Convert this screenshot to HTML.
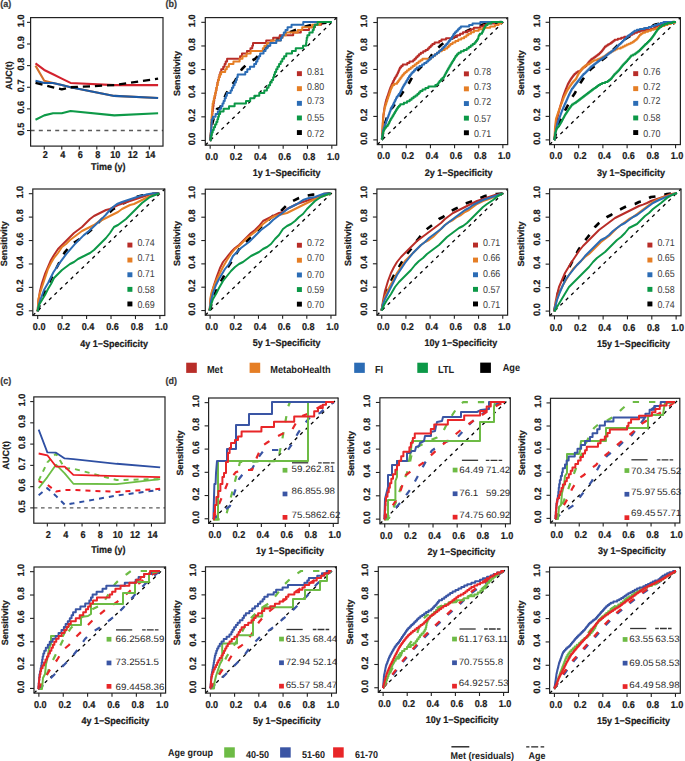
<!DOCTYPE html>
<html><head><meta charset="utf-8"><style>
html,body{margin:0;padding:0;background:#fff;width:685px;height:761px;overflow:hidden}
svg{display:block}
text{font-family:"Liberation Sans", sans-serif}
</style></head><body>
<svg width="685" height="761" viewBox="0 0 685 761" font-family='"Liberation Sans", sans-serif' text-rendering="geometricPrecision">
<rect width="685" height="761" fill="#fff"/>
<text x="0.3" y="7.3" font-size="9.6" font-weight="bold" text-anchor="start" fill="#3a3a3a" stroke="#3a3a3a" stroke-width="0.22" textLength="11.00" lengthAdjust="spacingAndGlyphs">(a)</text>
<text x="165.6" y="7.3" font-size="9.6" font-weight="bold" text-anchor="start" fill="#3a3a3a" stroke="#3a3a3a" stroke-width="0.22" textLength="11.49" lengthAdjust="spacingAndGlyphs">(b)</text>
<text x="0.3" y="384.4" font-size="9.6" font-weight="bold" text-anchor="start" fill="#3a3a3a" stroke="#3a3a3a" stroke-width="0.22" textLength="11.00" lengthAdjust="spacingAndGlyphs">(c)</text>
<text x="165.6" y="384.4" font-size="9.6" font-weight="bold" text-anchor="start" fill="#3a3a3a" stroke="#3a3a3a" stroke-width="0.22" textLength="11.49" lengthAdjust="spacingAndGlyphs">(d)</text>
<clipPath id="c1"><rect x="30.6" y="17.6" width="132.4" height="128.5"/></clipPath>
<line x1="30.6" y1="130.52" x2="163" y2="130.52" stroke="#5a5a5a" stroke-width="1.5" stroke-dasharray="4,4.2" stroke-linecap="butt"/>
<polyline points="35.50,63.46 44.26,69.95 53.02,74.28 61.77,78.61 70.53,82.93 114.31,85.09 158.10,85.09" fill="none" stroke="#D3222E" stroke-width="2.1" stroke-linejoin="round" stroke-linecap="butt" clip-path="url(#c1)"/>
<polyline points="35.50,65.63 44.26,80.77 53.02,82.93 61.77,85.09 70.53,87.26 114.31,95.91 158.10,98.07" fill="none" stroke="#D2702A" stroke-width="2.1" stroke-linejoin="round" stroke-linecap="butt" clip-path="url(#c1)"/>
<polyline points="35.50,80.77 44.26,82.93 53.02,82.93 61.77,85.09 70.53,87.26 114.31,95.91 158.10,98.07" fill="none" stroke="#1B5AA6" stroke-width="2.1" stroke-linejoin="round" stroke-linecap="butt" clip-path="url(#c1)"/>
<polyline points="35.50,119.71 44.26,115.38 53.02,113.22 61.77,113.22 70.53,111.05 114.31,115.38 158.10,113.22" fill="none" stroke="#0E9A48" stroke-width="2.1" stroke-linejoin="round" stroke-linecap="butt" clip-path="url(#c1)"/>
<polyline points="35.50,82.93 44.26,85.09 53.02,87.26 61.77,89.42 70.53,87.26 114.31,85.09 158.10,78.61" fill="none" stroke="#000000" stroke-width="2.3" stroke-dasharray="7.2,4.9" stroke-linejoin="round" stroke-linecap="butt" clip-path="url(#c1)"/>
<rect x="30.6" y="17.6" width="132.4" height="128.5" fill="none" stroke="#222222" stroke-width="1.2"/>
<line x1="44.26" y1="146.1" x2="44.26" y2="149.5" stroke="#222222" stroke-width="1.1" stroke-linecap="butt"/>
<text x="45.26" y="157.9" font-size="10.0" font-weight="bold" text-anchor="middle" fill="#1a1a1a" stroke="#1a1a1a" stroke-width="0.22" textLength="5.06" lengthAdjust="spacingAndGlyphs">2</text>
<line x1="61.77" y1="146.1" x2="61.77" y2="149.5" stroke="#222222" stroke-width="1.1" stroke-linecap="butt"/>
<text x="62.77" y="157.9" font-size="10.0" font-weight="bold" text-anchor="middle" fill="#1a1a1a" stroke="#1a1a1a" stroke-width="0.22" textLength="5.06" lengthAdjust="spacingAndGlyphs">4</text>
<line x1="79.29" y1="146.1" x2="79.29" y2="149.5" stroke="#222222" stroke-width="1.1" stroke-linecap="butt"/>
<text x="80.29" y="157.9" font-size="10.0" font-weight="bold" text-anchor="middle" fill="#1a1a1a" stroke="#1a1a1a" stroke-width="0.22" textLength="5.06" lengthAdjust="spacingAndGlyphs">6</text>
<line x1="96.8" y1="146.1" x2="96.8" y2="149.5" stroke="#222222" stroke-width="1.1" stroke-linecap="butt"/>
<text x="97.8" y="157.9" font-size="10.0" font-weight="bold" text-anchor="middle" fill="#1a1a1a" stroke="#1a1a1a" stroke-width="0.22" textLength="5.06" lengthAdjust="spacingAndGlyphs">8</text>
<line x1="114.31" y1="146.1" x2="114.31" y2="149.5" stroke="#222222" stroke-width="1.1" stroke-linecap="butt"/>
<text x="115.31" y="157.9" font-size="10.0" font-weight="bold" text-anchor="middle" fill="#1a1a1a" stroke="#1a1a1a" stroke-width="0.22" textLength="10.12" lengthAdjust="spacingAndGlyphs">10</text>
<line x1="131.83" y1="146.1" x2="131.83" y2="149.5" stroke="#222222" stroke-width="1.1" stroke-linecap="butt"/>
<text x="132.83" y="157.9" font-size="10.0" font-weight="bold" text-anchor="middle" fill="#1a1a1a" stroke="#1a1a1a" stroke-width="0.22" textLength="10.12" lengthAdjust="spacingAndGlyphs">12</text>
<line x1="149.34" y1="146.1" x2="149.34" y2="149.5" stroke="#222222" stroke-width="1.1" stroke-linecap="butt"/>
<text x="150.34" y="157.9" font-size="10.0" font-weight="bold" text-anchor="middle" fill="#1a1a1a" stroke="#1a1a1a" stroke-width="0.22" textLength="10.12" lengthAdjust="spacingAndGlyphs">14</text>
<line x1="30.6" y1="130.52" x2="27" y2="130.52" stroke="#222222" stroke-width="1.1" stroke-linecap="butt"/>
<text x="24.1" y="129.02" font-size="9.3" font-weight="bold" text-anchor="middle" fill="#1a1a1a" stroke="#1a1a1a" stroke-width="0.22" transform="rotate(-90 24.1 129.02)" textLength="12.79" lengthAdjust="spacingAndGlyphs">0.5</text>
<line x1="30.6" y1="108.89" x2="27" y2="108.89" stroke="#222222" stroke-width="1.1" stroke-linecap="butt"/>
<text x="24.1" y="107.39" font-size="9.3" font-weight="bold" text-anchor="middle" fill="#1a1a1a" stroke="#1a1a1a" stroke-width="0.22" transform="rotate(-90 24.1 107.39)" textLength="12.79" lengthAdjust="spacingAndGlyphs">0.6</text>
<line x1="30.6" y1="87.26" x2="27" y2="87.26" stroke="#222222" stroke-width="1.1" stroke-linecap="butt"/>
<text x="24.1" y="85.76" font-size="9.3" font-weight="bold" text-anchor="middle" fill="#1a1a1a" stroke="#1a1a1a" stroke-width="0.22" transform="rotate(-90 24.1 85.76)" textLength="12.79" lengthAdjust="spacingAndGlyphs">0.7</text>
<line x1="30.6" y1="65.63" x2="27" y2="65.63" stroke="#222222" stroke-width="1.1" stroke-linecap="butt"/>
<text x="24.1" y="64.13" font-size="9.3" font-weight="bold" text-anchor="middle" fill="#1a1a1a" stroke="#1a1a1a" stroke-width="0.22" transform="rotate(-90 24.1 64.13)" textLength="12.79" lengthAdjust="spacingAndGlyphs">0.8</text>
<line x1="30.6" y1="43.99" x2="27" y2="43.99" stroke="#222222" stroke-width="1.1" stroke-linecap="butt"/>
<text x="24.1" y="42.49" font-size="9.3" font-weight="bold" text-anchor="middle" fill="#1a1a1a" stroke="#1a1a1a" stroke-width="0.22" transform="rotate(-90 24.1 42.49)" textLength="12.79" lengthAdjust="spacingAndGlyphs">0.9</text>
<line x1="30.6" y1="22.36" x2="27" y2="22.36" stroke="#222222" stroke-width="1.1" stroke-linecap="butt"/>
<text x="24.1" y="20.86" font-size="9.3" font-weight="bold" text-anchor="middle" fill="#1a1a1a" stroke="#1a1a1a" stroke-width="0.22" transform="rotate(-90 24.1 20.86)" textLength="12.79" lengthAdjust="spacingAndGlyphs">1.0</text>
<text x="91.1" y="170.3" font-size="9.9" font-weight="bold" text-anchor="start" fill="#1a1a1a" stroke="#1a1a1a" stroke-width="0.22" textLength="34.34" lengthAdjust="spacingAndGlyphs">Time (y)</text>
<text x="12.1" y="75.6" font-size="9.0" font-weight="bold" text-anchor="middle" fill="#1a1a1a" stroke="#1a1a1a" stroke-width="0.22" transform="rotate(-90 12.1 75.6)" textLength="28.49" lengthAdjust="spacingAndGlyphs">AUC(t)</text>
<clipPath id="c2"><rect x="205.3" y="17.6" width="131.4" height="127.6"/></clipPath>
<line x1="205.3" y1="145.2" x2="336.7" y2="17.6" stroke="#000" stroke-width="1.3" stroke-dasharray="3.4,4.1" stroke-linecap="butt"/>
<polyline points="210.40,140.40 212.00,125.00 214.00,117.00 217.00,109.00 220.00,108.00 223.00,101.00 226.00,94.00 230.00,87.00 235.00,81.00 238.00,75.00 242.00,69.00 246.00,65.00 251.00,61.00 255.00,59.00 260.00,54.00 267.00,47.00 275.00,41.00 283.00,35.00 293.00,31.00 303.00,27.00 315.00,24.00 331.80,22.00" fill="none" stroke="#000000" stroke-width="2.6" stroke-dasharray="6.7,9" stroke-linejoin="round" stroke-linecap="butt" clip-path="url(#c2)"/>
<polyline points="210.40,140.40 210.49,140.40 210.49,137.77 210.67,137.77 210.67,135.14 210.85,135.14 210.85,132.51 211.03,132.51 211.03,129.88 211.21,129.88 211.21,127.24 211.39,127.24 211.39,124.61 211.57,124.61 211.57,121.98 211.75,121.98 211.75,119.35 211.93,119.35 211.93,116.72 212.20,116.72 212.20,114.09 212.53,114.09 212.53,111.46 212.86,111.46 212.86,108.83 213.19,108.83 213.19,106.20 213.51,106.20 213.51,103.56 213.84,103.56 213.84,100.93 214.28,100.93 214.28,98.30 214.80,98.30 214.80,95.67 215.33,95.67 215.33,93.04 215.86,93.04 215.86,90.41 216.38,90.41 216.38,87.78 216.91,87.78 216.91,85.15 217.43,85.15 217.43,82.52 217.96,82.52 217.96,79.88 218.73,79.88 218.73,77.25 219.52,77.25 219.52,74.62 220.31,74.62 220.31,71.99 221.24,71.99 221.24,69.36 223.22,69.36 223.22,66.73 224.63,66.73 224.63,64.10 225.69,64.10 225.69,61.47 227.09,61.47 227.09,58.84 240.09,58.84 240.09,56.20 241.97,56.20 241.97,53.57 246.96,53.57 246.96,50.94 250.46,50.94 250.46,48.31 252.28,48.31 252.28,45.68 253.02,45.68 253.02,43.05 266.21,43.05 266.21,40.42 273.17,40.42 273.17,37.79 279.77,37.79 279.77,35.16 293.18,35.16 293.18,32.52 300.82,32.52 300.82,29.89 309.04,29.89 309.04,27.26 314.94,27.26 314.94,24.63 321.21,24.63 321.21,22.00 331.80,22.00" fill="none" stroke="#B82D28" stroke-width="2.0" stroke-linejoin="round" stroke-linecap="butt" clip-path="url(#c2)"/>
<polyline points="210.40,140.40 210.47,140.40 210.47,137.77 210.60,137.77 210.60,135.14 210.74,135.14 210.74,132.51 210.87,132.51 210.87,129.88 211.01,129.88 211.01,127.24 211.15,127.24 211.15,124.61 211.28,124.61 211.28,121.98 211.43,121.98 211.43,119.35 211.62,119.35 211.62,116.72 211.82,116.72 211.82,114.09 212.02,114.09 212.02,111.46 212.21,111.46 212.21,108.83 212.41,108.83 212.41,106.20 212.63,106.20 212.63,103.56 213.24,103.56 213.24,100.93 213.86,100.93 213.86,98.30 214.50,98.30 214.50,95.67 215.16,95.67 215.16,93.04 215.82,93.04 215.82,90.41 216.42,90.41 216.42,87.78 217.01,87.78 217.01,85.15 217.59,85.15 217.59,82.52 218.23,82.52 218.23,79.88 218.98,79.88 218.98,77.25 219.73,77.25 219.73,74.62 221.13,74.62 221.13,71.99 225.19,71.99 225.19,69.36 226.77,69.36 226.77,66.73 228.88,66.73 228.88,64.10 233.44,64.10 233.44,61.47 239.62,61.47 239.62,58.84 242.48,58.84 242.48,56.20 246.52,56.20 246.52,53.57 250.61,53.57 250.61,50.94 262.82,50.94 262.82,48.31 264.40,48.31 264.40,45.68 266.92,45.68 266.92,43.05 271.17,43.05 271.17,40.42 280.60,40.42 280.60,37.79 282.66,37.79 282.66,35.16 285.95,35.16 285.95,32.52 297.81,32.52 297.81,29.89 302.23,29.89 302.23,27.26 312.16,27.26 312.16,24.63 320.05,24.63 320.05,22.00 331.80,22.00" fill="none" stroke="#E57E25" stroke-width="2.0" stroke-linejoin="round" stroke-linecap="butt" clip-path="url(#c2)"/>
<polyline points="210.40,140.40 210.48,140.40 210.48,137.77 210.65,137.77 210.65,135.14 210.82,135.14 210.82,132.51 210.99,132.51 210.99,129.88 211.20,129.88 211.20,127.24 211.42,127.24 211.42,124.61 211.64,124.61 211.64,121.98 211.86,121.98 211.86,119.35 212.96,119.35 212.96,116.72 215.60,116.72 215.60,114.09 217.82,114.09 217.82,111.46 219.51,111.46 219.51,108.83 221.09,108.83 221.09,106.20 222.48,106.20 222.48,103.56 223.61,103.56 223.61,100.93 224.74,100.93 224.74,98.30 225.81,98.30 225.81,95.67 226.86,95.67 226.86,93.04 230.64,93.04 230.64,90.41 231.95,90.41 231.95,87.78 233.27,87.78 233.27,85.15 234.58,85.15 234.58,82.52 235.90,82.52 235.90,79.88 236.81,79.88 236.81,77.25 237.69,77.25 237.69,74.62 245.27,74.62 245.27,71.99 247.32,71.99 247.32,69.36 249.96,69.36 249.96,66.73 254.17,66.73 254.17,64.10 256.11,64.10 256.11,61.47 257.42,61.47 257.42,58.84 258.74,58.84 258.74,56.20 260.17,56.20 260.17,53.57 263.56,53.57 263.56,50.94 265.53,50.94 265.53,48.31 267.50,48.31 267.50,45.68 270.27,45.68 270.27,43.05 276.33,43.05 276.33,40.42 280.95,40.42 280.95,37.79 282.26,37.79 282.26,35.16 283.77,35.16 283.77,32.52 285.53,32.52 285.53,29.89 287.56,29.89 287.56,27.26 291.53,27.26 291.53,24.63 303.25,24.63 303.25,22.00 331.80,22.00" fill="none" stroke="#2B6CB5" stroke-width="2.0" stroke-linejoin="round" stroke-linecap="butt" clip-path="url(#c2)"/>
<polyline points="210.40,140.40 210.68,140.40 210.68,137.77 211.25,137.77 211.25,135.14 211.82,135.14 211.82,132.51 212.72,132.51 212.72,129.88 213.78,129.88 213.78,127.24 215.04,127.24 215.04,124.61 216.35,124.61 216.35,121.98 217.38,121.98 217.38,119.35 218.13,119.35 218.13,116.72 218.88,116.72 218.88,114.09 220.11,114.09 220.11,111.46 223.57,111.46 223.57,108.83 229.04,108.83 229.04,106.20 234.60,106.20 234.60,103.56 246.00,103.56 246.00,100.93 250.18,100.93 250.18,98.30 254.36,98.30 254.36,95.67 259.29,95.67 259.29,93.04 264.28,93.04 264.28,90.41 266.91,90.41 266.91,87.78 268.52,87.78 268.52,85.15 270.10,85.15 270.10,82.52 271.68,82.52 271.68,79.88 273.14,79.88 273.14,77.25 274.02,77.25 274.02,74.62 274.90,74.62 274.90,71.99 276.16,71.99 276.16,69.36 277.48,69.36 277.48,66.73 279.06,66.73 279.06,64.10 280.73,64.10 280.73,61.47 282.31,61.47 282.31,58.84 284.11,58.84 284.11,56.20 286.28,56.20 286.28,53.57 291.99,53.57 291.99,50.94 295.75,50.94 295.75,48.31 303.01,48.31 303.01,45.68 306.08,45.68 306.08,43.05 306.41,43.05 306.41,40.42 306.74,40.42 306.74,37.79 307.40,37.79 307.40,35.16 309.37,35.16 309.37,32.52 312.69,32.52 312.69,29.89 313.78,29.89 313.78,27.26 314.66,27.26 314.66,24.63 317.64,24.63 317.64,22.00 331.80,22.00" fill="none" stroke="#0C9847" stroke-width="2.0" stroke-linejoin="round" stroke-linecap="butt" clip-path="url(#c2)"/>
<rect x="205.3" y="17.6" width="131.4" height="127.6" fill="none" stroke="#222222" stroke-width="1.2"/>
<line x1="210.17" y1="145.2" x2="210.17" y2="148.8" stroke="#222222" stroke-width="1.1" stroke-linecap="butt"/>
<text x="211.67" y="159.9" font-size="10.0" font-weight="bold" text-anchor="middle" fill="#1a1a1a" stroke="#1a1a1a" stroke-width="0.22" textLength="12.65" lengthAdjust="spacingAndGlyphs">0.0</text>
<line x1="205.3" y1="140.47" x2="201.3" y2="140.47" stroke="#222222" stroke-width="1.1" stroke-linecap="butt"/>
<text x="195.4" y="138.97" font-size="9.3" font-weight="bold" text-anchor="middle" fill="#1a1a1a" stroke="#1a1a1a" stroke-width="0.22" transform="rotate(-90 195.4 138.97)" textLength="12.79" lengthAdjust="spacingAndGlyphs">0.0</text>
<line x1="234.5" y1="145.2" x2="234.5" y2="148.8" stroke="#222222" stroke-width="1.1" stroke-linecap="butt"/>
<text x="236" y="159.9" font-size="10.0" font-weight="bold" text-anchor="middle" fill="#1a1a1a" stroke="#1a1a1a" stroke-width="0.22" textLength="12.65" lengthAdjust="spacingAndGlyphs">0.2</text>
<line x1="205.3" y1="116.84" x2="201.3" y2="116.84" stroke="#222222" stroke-width="1.1" stroke-linecap="butt"/>
<text x="195.4" y="115.34" font-size="9.3" font-weight="bold" text-anchor="middle" fill="#1a1a1a" stroke="#1a1a1a" stroke-width="0.22" transform="rotate(-90 195.4 115.34)" textLength="12.79" lengthAdjust="spacingAndGlyphs">0.2</text>
<line x1="258.83" y1="145.2" x2="258.83" y2="148.8" stroke="#222222" stroke-width="1.1" stroke-linecap="butt"/>
<text x="260.33" y="159.9" font-size="10.0" font-weight="bold" text-anchor="middle" fill="#1a1a1a" stroke="#1a1a1a" stroke-width="0.22" textLength="12.65" lengthAdjust="spacingAndGlyphs">0.4</text>
<line x1="205.3" y1="93.21" x2="201.3" y2="93.21" stroke="#222222" stroke-width="1.1" stroke-linecap="butt"/>
<text x="195.4" y="91.71" font-size="9.3" font-weight="bold" text-anchor="middle" fill="#1a1a1a" stroke="#1a1a1a" stroke-width="0.22" transform="rotate(-90 195.4 91.71)" textLength="12.79" lengthAdjust="spacingAndGlyphs">0.4</text>
<line x1="283.17" y1="145.2" x2="283.17" y2="148.8" stroke="#222222" stroke-width="1.1" stroke-linecap="butt"/>
<text x="284.67" y="159.9" font-size="10.0" font-weight="bold" text-anchor="middle" fill="#1a1a1a" stroke="#1a1a1a" stroke-width="0.22" textLength="12.65" lengthAdjust="spacingAndGlyphs">0.6</text>
<line x1="205.3" y1="69.59" x2="201.3" y2="69.59" stroke="#222222" stroke-width="1.1" stroke-linecap="butt"/>
<text x="195.4" y="68.09" font-size="9.3" font-weight="bold" text-anchor="middle" fill="#1a1a1a" stroke="#1a1a1a" stroke-width="0.22" transform="rotate(-90 195.4 68.09)" textLength="12.79" lengthAdjust="spacingAndGlyphs">0.6</text>
<line x1="307.5" y1="145.2" x2="307.5" y2="148.8" stroke="#222222" stroke-width="1.1" stroke-linecap="butt"/>
<text x="309" y="159.9" font-size="10.0" font-weight="bold" text-anchor="middle" fill="#1a1a1a" stroke="#1a1a1a" stroke-width="0.22" textLength="12.65" lengthAdjust="spacingAndGlyphs">0.8</text>
<line x1="205.3" y1="45.96" x2="201.3" y2="45.96" stroke="#222222" stroke-width="1.1" stroke-linecap="butt"/>
<text x="195.4" y="44.46" font-size="9.3" font-weight="bold" text-anchor="middle" fill="#1a1a1a" stroke="#1a1a1a" stroke-width="0.22" transform="rotate(-90 195.4 44.46)" textLength="12.79" lengthAdjust="spacingAndGlyphs">0.8</text>
<line x1="331.83" y1="145.2" x2="331.83" y2="148.8" stroke="#222222" stroke-width="1.1" stroke-linecap="butt"/>
<text x="333.33" y="159.9" font-size="10.0" font-weight="bold" text-anchor="middle" fill="#1a1a1a" stroke="#1a1a1a" stroke-width="0.22" textLength="12.65" lengthAdjust="spacingAndGlyphs">1.0</text>
<line x1="205.3" y1="22.33" x2="201.3" y2="22.33" stroke="#222222" stroke-width="1.1" stroke-linecap="butt"/>
<text x="195.4" y="20.83" font-size="9.3" font-weight="bold" text-anchor="middle" fill="#1a1a1a" stroke="#1a1a1a" stroke-width="0.22" transform="rotate(-90 195.4 20.83)" textLength="12.79" lengthAdjust="spacingAndGlyphs">1.0</text>
<text x="252.8" y="176.2" font-size="9.7" font-weight="bold" text-anchor="start" fill="#1a1a1a" stroke="#1a1a1a" stroke-width="0.22" textLength="67.79" lengthAdjust="spacingAndGlyphs">1y 1−Specificity</text>
<text x="179.7" y="95.9" font-size="9.0" font-weight="bold" text-anchor="start" fill="#1a1a1a" stroke="#1a1a1a" stroke-width="0.22" transform="rotate(-90 179.7 95.9)" textLength="45.02" lengthAdjust="spacingAndGlyphs">Sensitivity</text>
<rect x="296.9" y="71.2" width="5" height="4.9" fill="#B82D28"/>
<text x="306.9" y="74.6" font-size="10.0" text-anchor="start" fill="#3a3a3a" textLength="17.32" lengthAdjust="spacingAndGlyphs">0.81</text>
<rect x="296.9" y="86.2" width="5" height="4.9" fill="#E57E25"/>
<text x="306.9" y="89.8" font-size="10.0" text-anchor="start" fill="#3a3a3a" textLength="17.32" lengthAdjust="spacingAndGlyphs">0.80</text>
<rect x="296.9" y="100.9" width="5" height="4.9" fill="#2B6CB5"/>
<text x="306.9" y="104.4" font-size="10.0" text-anchor="start" fill="#3a3a3a" textLength="17.32" lengthAdjust="spacingAndGlyphs">0.73</text>
<rect x="296.9" y="115.5" width="5" height="4.9" fill="#0C9847"/>
<text x="306.9" y="121.3" font-size="10.0" text-anchor="start" fill="#3a3a3a" textLength="17.32" lengthAdjust="spacingAndGlyphs">0.55</text>
<rect x="296.9" y="130.1" width="5" height="4.9" fill="#000000"/>
<text x="306.9" y="136.8" font-size="10.0" text-anchor="start" fill="#3a3a3a" textLength="17.32" lengthAdjust="spacingAndGlyphs">0.72</text>
<clipPath id="c3"><rect x="377.3" y="17.8" width="130.4" height="126.8"/></clipPath>
<line x1="377.3" y1="144.6" x2="507.7" y2="17.8" stroke="#000" stroke-width="1.3" stroke-dasharray="3.4,4.1" stroke-linecap="butt"/>
<polyline points="382.00,139.40 384.00,127.00 387.00,117.00 390.00,110.00 393.00,107.00 397.00,101.00 401.00,95.00 405.00,89.00 409.00,83.00 413.00,76.00 417.00,71.00 421.00,67.00 425.00,63.00 429.00,59.00 433.00,53.00 437.00,49.00 441.00,45.00 445.00,42.00 451.00,39.00 459.00,35.00 467.00,31.00 475.00,27.00 483.00,24.60 491.00,23.00 503.00,22.00" fill="none" stroke="#000000" stroke-width="2.6" stroke-dasharray="6.7,9" stroke-linejoin="round" stroke-linecap="butt" clip-path="url(#c3)"/>
<polyline points="382.00,139.40 382.04,139.40 382.04,137.93 382.11,137.93 382.11,136.47 382.18,136.47 382.18,135.00 382.25,135.00 382.25,133.53 382.32,133.53 382.32,132.06 382.40,132.06 382.40,130.59 382.47,130.59 382.47,129.13 382.54,129.13 382.54,127.66 382.61,127.66 382.61,126.19 382.68,126.19 382.68,124.73 382.76,124.73 382.76,123.26 382.83,123.26 382.83,121.79 382.90,121.79 382.90,120.32 382.97,120.32 382.97,118.86 383.12,118.86 383.12,117.39 383.31,117.39 383.31,115.92 383.51,115.92 383.51,114.45 383.70,114.45 383.70,112.99 383.90,112.99 383.90,111.52 384.10,111.52 384.10,110.05 384.29,110.05 384.29,108.58 384.49,108.58 384.49,107.12 384.74,107.12 384.74,105.65 385.09,105.65 385.09,104.18 385.43,104.18 385.43,102.71 385.77,102.71 385.77,101.25 386.16,101.25 386.16,99.78 386.65,99.78 386.65,98.31 387.14,98.31 387.14,96.84 387.63,96.84 387.63,95.38 388.12,95.38 388.12,93.91 388.61,93.91 388.61,92.44 389.10,92.44 389.10,90.97 389.59,90.97 389.59,89.50 390.10,89.50 390.10,88.04 390.73,88.04 390.73,86.57 391.36,86.57 391.36,85.10 391.98,85.10 391.98,83.64 392.61,83.64 392.61,82.17 393.28,82.17 393.28,80.70 394.02,80.70 394.02,79.23 394.75,79.23 394.75,77.77 395.65,77.77 395.65,76.30 396.62,76.30 396.62,74.83 397.39,74.83 397.39,73.36 398.02,73.36 398.02,71.90 398.65,71.90 398.65,70.43 399.27,70.43 399.27,68.96 399.90,68.96 399.90,67.49 401.24,67.49 401.24,66.03 402.71,66.03 402.71,64.56 407.26,64.56 407.26,63.09 409.47,63.09 409.47,61.62 413.11,61.62 413.11,60.16 414.58,60.16 414.58,58.69 416.05,58.69 416.05,57.22 417.51,57.22 417.51,55.75 418.98,55.75 418.98,54.29 420.75,54.29 420.75,52.82 423.19,52.82 423.19,51.35 425.58,51.35 425.58,49.88 427.78,49.88 427.78,48.42 429.32,48.42 429.32,46.95 430.79,46.95 430.79,45.48 432.38,45.48 432.38,44.01 434.58,44.01 434.58,42.55 439.28,42.55 439.28,41.08 441.48,41.08 441.48,39.61 446.01,39.61 446.01,38.14 453.48,38.14 453.48,36.67 457.12,36.67 457.12,35.21 460.05,35.21 460.05,33.74 462.99,33.74 462.99,32.27 467.38,32.27 467.38,30.81 470.86,30.81 470.86,29.34 473.79,29.34 473.79,27.87 480.18,27.87 480.18,26.40 483.66,26.40 483.66,24.94 486.60,24.94 486.60,23.47 494.24,23.47 494.24,22.00 503.00,22.00" fill="none" stroke="#B82D28" stroke-width="2.0" stroke-linejoin="round" stroke-linecap="butt" clip-path="url(#c3)"/>
<polyline points="382.00,139.40 382.04,139.40 382.04,137.93 382.11,137.93 382.11,136.47 382.18,136.47 382.18,135.00 382.25,135.00 382.25,133.53 382.32,133.53 382.32,132.06 382.39,132.06 382.39,130.59 382.46,130.59 382.46,129.13 382.53,129.13 382.53,127.66 382.60,127.66 382.60,126.19 382.70,126.19 382.70,124.73 382.80,124.73 382.80,123.26 382.90,123.26 382.90,121.79 383.00,121.79 383.00,120.32 383.09,120.32 383.09,118.86 383.19,118.86 383.19,117.39 383.29,117.39 383.29,115.92 383.39,115.92 383.39,114.45 383.66,114.45 383.66,112.99 383.95,112.99 383.95,111.52 384.24,111.52 384.24,110.05 384.54,110.05 384.54,108.58 384.83,108.58 384.83,107.12 385.21,107.12 385.21,105.65 385.70,105.65 385.70,104.18 386.18,104.18 386.18,102.71 386.67,102.71 386.67,101.25 387.16,101.25 387.16,99.78 387.65,99.78 387.65,98.31 388.14,98.31 388.14,96.84 388.63,96.84 388.63,95.38 389.12,95.38 389.12,93.91 389.61,93.91 389.61,92.44 390.10,92.44 390.10,90.97 390.59,90.97 390.59,89.50 391.11,89.50 391.11,88.04 391.85,88.04 391.85,86.57 392.58,86.57 392.58,85.10 394.26,85.10 394.26,83.64 397.07,83.64 397.07,82.17 398.17,82.17 398.17,80.70 399.28,80.70 399.28,79.23 400.38,79.23 400.38,77.77 401.48,77.77 401.48,76.30 402.58,76.30 402.58,74.83 403.90,74.83 403.90,73.36 405.37,73.36 405.37,71.90 406.84,71.90 406.84,70.43 408.74,70.43 408.74,68.96 410.70,68.96 410.70,67.49 412.65,67.49 412.65,66.03 414.61,66.03 414.61,64.56 416.57,64.56 416.57,63.09 418.52,63.09 418.52,61.62 420.48,61.62 420.48,60.16 422.44,60.16 422.44,58.69 431.06,58.69 431.06,57.22 433.02,57.22 433.02,55.75 434.97,55.75 434.97,54.29 436.93,54.29 436.93,52.82 438.89,52.82 438.89,51.35 441.77,51.35 441.77,49.88 444.70,49.88 444.70,48.42 447.32,48.42 447.32,46.95 448.79,46.95 448.79,45.48 450.38,45.48 450.38,44.01 452.58,44.01 452.58,42.55 455.38,42.55 455.38,41.08 458.31,41.08 458.31,39.61 461.25,39.61 461.25,38.14 464.18,38.14 464.18,36.67 466.41,36.67 466.41,35.21 468.37,35.21 468.37,33.74 470.99,33.74 470.99,32.27 473.92,32.27 473.92,30.81 478.71,30.81 478.71,29.34 483.19,29.34 483.19,27.87 490.18,27.87 490.18,26.40 494.99,26.40 494.99,24.94 498.60,24.94 498.60,23.47 501.53,23.47 501.53,22.00 503.00,22.00" fill="none" stroke="#E57E25" stroke-width="2.0" stroke-linejoin="round" stroke-linecap="butt" clip-path="url(#c3)"/>
<polyline points="382.00,139.40 382.09,139.40 382.09,137.93 382.26,137.93 382.26,136.47 382.44,136.47 382.44,135.00 382.61,135.00 382.61,133.53 382.79,133.53 382.79,132.06 382.96,132.06 382.96,130.59 383.38,130.59 383.38,129.13 383.87,129.13 383.87,127.66 384.36,127.66 384.36,126.19 384.85,126.19 384.85,124.73 385.38,124.73 385.38,123.26 385.93,123.26 385.93,121.79 386.48,121.79 386.48,120.32 387.03,120.32 387.03,118.86 387.58,118.86 387.58,117.39 388.13,117.39 388.13,115.92 388.68,115.92 388.68,114.45 389.23,114.45 389.23,112.99 389.78,112.99 389.78,111.52 390.33,111.52 390.33,110.05 390.88,110.05 390.88,108.58 391.58,108.58 391.58,107.12 392.31,107.12 392.31,105.65 393.04,105.65 393.04,104.18 393.78,104.18 393.78,102.71 394.51,102.71 394.51,101.25 395.24,101.25 395.24,99.78 395.98,99.78 395.98,98.31 396.71,98.31 396.71,96.84 397.67,96.84 397.67,95.38 398.77,95.38 398.77,93.91 399.87,93.91 399.87,92.44 400.65,92.44 400.65,90.97 401.38,90.97 401.38,89.50 402.11,89.50 402.11,88.04 402.85,88.04 402.85,86.57 403.70,86.57 403.70,85.10 404.58,85.10 404.58,83.64 405.46,83.64 405.46,82.17 406.34,82.17 406.34,80.70 407.22,80.70 407.22,79.23 408.10,79.23 408.10,77.77 408.98,77.77 408.98,76.30 410.15,76.30 410.15,74.83 411.32,74.83 411.32,73.36 412.50,73.36 412.50,71.90 413.84,71.90 413.84,70.43 415.31,70.43 415.31,68.96 416.77,68.96 416.77,67.49 419.48,67.49 419.48,66.03 422.06,66.03 422.06,64.56 424.26,64.56 424.26,63.09 426.47,63.09 426.47,61.62 428.11,61.62 428.11,60.16 429.58,60.16 429.58,58.69 431.06,58.69 431.06,57.22 433.02,57.22 433.02,55.75 434.97,55.75 434.97,54.29 436.93,54.29 436.93,52.82 438.89,52.82 438.89,51.35 440.38,51.35 440.38,49.88 441.85,49.88 441.85,48.42 443.32,48.42 443.32,46.95 444.79,46.95 444.79,45.48 446.25,45.48 446.25,44.01 447.58,44.01 447.58,42.55 448.75,42.55 448.75,41.08 449.93,41.08 449.93,39.61 451.07,39.61 451.07,38.14 451.95,38.14 451.95,36.67 452.84,36.67 452.84,35.21 453.72,35.21 453.72,33.74 454.99,33.74 454.99,32.27 456.46,32.27 456.46,30.81 457.93,30.81 457.93,29.34 459.40,29.34 459.40,27.87 460.86,27.87 460.86,26.40 469.15,26.40 469.15,24.94 472.54,24.94 472.54,23.47 480.33,23.47 480.33,22.00 503.00,22.00" fill="none" stroke="#2B6CB5" stroke-width="2.0" stroke-linejoin="round" stroke-linecap="butt" clip-path="url(#c3)"/>
<polyline points="382.00,139.40 382.11,139.40 382.11,137.93 382.34,137.93 382.34,136.47 382.57,136.47 382.57,135.00 382.80,135.00 382.80,133.53 383.08,133.53 383.08,132.06 383.67,132.06 383.67,130.59 384.26,130.59 384.26,129.13 384.84,129.13 384.84,127.66 386.07,127.66 386.07,126.19 387.54,126.19 387.54,124.73 388.50,124.73 388.50,123.26 389.24,123.26 389.24,121.79 389.97,121.79 389.97,120.32 390.71,120.32 390.71,118.86 391.53,118.86 391.53,117.39 392.41,117.39 392.41,115.92 393.29,115.92 393.29,114.45 394.17,114.45 394.17,112.99 395.05,112.99 395.05,111.52 395.93,111.52 395.93,110.05 396.81,110.05 396.81,108.58 397.86,108.58 397.86,107.12 398.96,107.12 398.96,105.65 400.22,105.65 400.22,104.18 403.88,104.18 403.88,102.71 407.04,102.71 407.04,101.25 409.65,101.25 409.65,99.78 411.61,99.78 411.61,98.31 413.56,98.31 413.56,96.84 415.52,96.84 415.52,95.38 417.36,95.38 417.36,93.91 418.83,93.91 418.83,92.44 420.29,92.44 420.29,90.97 422.52,90.97 422.52,89.50 425.46,89.50 425.46,88.04 428.39,88.04 428.39,86.57 435.33,86.57 435.33,85.10 437.47,85.10 437.47,83.64 438.57,83.64 438.57,82.17 439.67,82.17 439.67,80.70 441.03,80.70 441.03,79.23 442.50,79.23 442.50,77.77 443.97,77.77 443.97,76.30 444.72,76.30 444.72,74.83 445.45,74.83 445.45,73.36 446.19,73.36 446.19,71.90 446.92,71.90 446.92,70.43 447.78,70.43 447.78,68.96 448.66,68.96 448.66,67.49 449.54,67.49 449.54,66.03 450.43,66.03 450.43,64.56 451.31,64.56 451.31,63.09 452.19,63.09 452.19,61.62 453.07,61.62 453.07,60.16 453.95,60.16 453.95,58.69 454.83,58.69 454.83,57.22 455.71,57.22 455.71,55.75 456.98,55.75 456.98,54.29 458.45,54.29 458.45,52.82 460.83,52.82 460.83,51.35 463.77,51.35 463.77,49.88 466.70,49.88 466.70,48.42 468.76,48.42 468.76,46.95 470.71,46.95 470.71,45.48 472.67,45.48 472.67,44.01 474.63,44.01 474.63,42.55 475.89,42.55 475.89,41.08 476.99,41.08 476.99,39.61 478.03,39.61 478.03,38.14 478.40,38.14 478.40,36.67 478.76,36.67 478.76,35.21 479.79,35.21 479.79,33.74 481.99,33.74 481.99,32.27 482.73,32.27 482.73,30.81 483.46,30.81 483.46,29.34 484.20,29.34 484.20,27.87 484.93,27.87 484.93,26.40 485.67,26.40 485.67,24.94 487.60,24.94 487.60,23.47 491.33,23.47 491.33,22.00 503.00,22.00" fill="none" stroke="#0C9847" stroke-width="2.0" stroke-linejoin="round" stroke-linecap="butt" clip-path="url(#c3)"/>
<rect x="377.3" y="17.8" width="130.4" height="126.8" fill="none" stroke="#222222" stroke-width="1.2"/>
<line x1="382.13" y1="144.6" x2="382.13" y2="148.2" stroke="#222222" stroke-width="1.1" stroke-linecap="butt"/>
<text x="383.63" y="159.3" font-size="10.0" font-weight="bold" text-anchor="middle" fill="#1a1a1a" stroke="#1a1a1a" stroke-width="0.22" textLength="12.65" lengthAdjust="spacingAndGlyphs">0.0</text>
<line x1="377.3" y1="139.9" x2="373.3" y2="139.9" stroke="#222222" stroke-width="1.1" stroke-linecap="butt"/>
<text x="367.4" y="138.4" font-size="9.3" font-weight="bold" text-anchor="middle" fill="#1a1a1a" stroke="#1a1a1a" stroke-width="0.22" transform="rotate(-90 367.4 138.4)" textLength="12.79" lengthAdjust="spacingAndGlyphs">0.0</text>
<line x1="406.28" y1="144.6" x2="406.28" y2="148.2" stroke="#222222" stroke-width="1.1" stroke-linecap="butt"/>
<text x="407.78" y="159.3" font-size="10.0" font-weight="bold" text-anchor="middle" fill="#1a1a1a" stroke="#1a1a1a" stroke-width="0.22" textLength="12.65" lengthAdjust="spacingAndGlyphs">0.2</text>
<line x1="377.3" y1="116.42" x2="373.3" y2="116.42" stroke="#222222" stroke-width="1.1" stroke-linecap="butt"/>
<text x="367.4" y="114.92" font-size="9.3" font-weight="bold" text-anchor="middle" fill="#1a1a1a" stroke="#1a1a1a" stroke-width="0.22" transform="rotate(-90 367.4 114.92)" textLength="12.79" lengthAdjust="spacingAndGlyphs">0.2</text>
<line x1="430.43" y1="144.6" x2="430.43" y2="148.2" stroke="#222222" stroke-width="1.1" stroke-linecap="butt"/>
<text x="431.93" y="159.3" font-size="10.0" font-weight="bold" text-anchor="middle" fill="#1a1a1a" stroke="#1a1a1a" stroke-width="0.22" textLength="12.65" lengthAdjust="spacingAndGlyphs">0.4</text>
<line x1="377.3" y1="92.94" x2="373.3" y2="92.94" stroke="#222222" stroke-width="1.1" stroke-linecap="butt"/>
<text x="367.4" y="91.44" font-size="9.3" font-weight="bold" text-anchor="middle" fill="#1a1a1a" stroke="#1a1a1a" stroke-width="0.22" transform="rotate(-90 367.4 91.44)" textLength="12.79" lengthAdjust="spacingAndGlyphs">0.4</text>
<line x1="454.57" y1="144.6" x2="454.57" y2="148.2" stroke="#222222" stroke-width="1.1" stroke-linecap="butt"/>
<text x="456.07" y="159.3" font-size="10.0" font-weight="bold" text-anchor="middle" fill="#1a1a1a" stroke="#1a1a1a" stroke-width="0.22" textLength="12.65" lengthAdjust="spacingAndGlyphs">0.6</text>
<line x1="377.3" y1="69.46" x2="373.3" y2="69.46" stroke="#222222" stroke-width="1.1" stroke-linecap="butt"/>
<text x="367.4" y="67.96" font-size="9.3" font-weight="bold" text-anchor="middle" fill="#1a1a1a" stroke="#1a1a1a" stroke-width="0.22" transform="rotate(-90 367.4 67.96)" textLength="12.79" lengthAdjust="spacingAndGlyphs">0.6</text>
<line x1="478.72" y1="144.6" x2="478.72" y2="148.2" stroke="#222222" stroke-width="1.1" stroke-linecap="butt"/>
<text x="480.22" y="159.3" font-size="10.0" font-weight="bold" text-anchor="middle" fill="#1a1a1a" stroke="#1a1a1a" stroke-width="0.22" textLength="12.65" lengthAdjust="spacingAndGlyphs">0.8</text>
<line x1="377.3" y1="45.98" x2="373.3" y2="45.98" stroke="#222222" stroke-width="1.1" stroke-linecap="butt"/>
<text x="367.4" y="44.48" font-size="9.3" font-weight="bold" text-anchor="middle" fill="#1a1a1a" stroke="#1a1a1a" stroke-width="0.22" transform="rotate(-90 367.4 44.48)" textLength="12.79" lengthAdjust="spacingAndGlyphs">0.8</text>
<line x1="502.87" y1="144.6" x2="502.87" y2="148.2" stroke="#222222" stroke-width="1.1" stroke-linecap="butt"/>
<text x="504.37" y="159.3" font-size="10.0" font-weight="bold" text-anchor="middle" fill="#1a1a1a" stroke="#1a1a1a" stroke-width="0.22" textLength="12.65" lengthAdjust="spacingAndGlyphs">1.0</text>
<line x1="377.3" y1="22.5" x2="373.3" y2="22.5" stroke="#222222" stroke-width="1.1" stroke-linecap="butt"/>
<text x="367.4" y="21" font-size="9.3" font-weight="bold" text-anchor="middle" fill="#1a1a1a" stroke="#1a1a1a" stroke-width="0.22" transform="rotate(-90 367.4 21)" textLength="12.79" lengthAdjust="spacingAndGlyphs">1.0</text>
<text x="424.8" y="175.6" font-size="9.7" font-weight="bold" text-anchor="start" fill="#1a1a1a" stroke="#1a1a1a" stroke-width="0.22" textLength="67.79" lengthAdjust="spacingAndGlyphs">2y 1−Specificity</text>
<text x="351.7" y="95.3" font-size="9.0" font-weight="bold" text-anchor="start" fill="#1a1a1a" stroke="#1a1a1a" stroke-width="0.22" transform="rotate(-90 351.7 95.3)" textLength="45.02" lengthAdjust="spacingAndGlyphs">Sensitivity</text>
<rect x="463.9" y="71.4" width="5" height="4.9" fill="#B82D28"/>
<text x="473.9" y="74.8" font-size="10.0" text-anchor="start" fill="#3a3a3a" textLength="17.32" lengthAdjust="spacingAndGlyphs">0.78</text>
<rect x="463.9" y="86.4" width="5" height="4.9" fill="#E57E25"/>
<text x="473.9" y="90" font-size="10.0" text-anchor="start" fill="#3a3a3a" textLength="17.32" lengthAdjust="spacingAndGlyphs">0.73</text>
<rect x="463.9" y="101.1" width="5" height="4.9" fill="#2B6CB5"/>
<text x="473.9" y="104.6" font-size="10.0" text-anchor="start" fill="#3a3a3a" textLength="17.32" lengthAdjust="spacingAndGlyphs">0.72</text>
<rect x="463.9" y="115.7" width="5" height="4.9" fill="#0C9847"/>
<text x="473.9" y="121.5" font-size="10.0" text-anchor="start" fill="#3a3a3a" textLength="17.32" lengthAdjust="spacingAndGlyphs">0.57</text>
<rect x="463.9" y="130.3" width="5" height="4.9" fill="#000000"/>
<text x="473.9" y="137" font-size="10.0" text-anchor="start" fill="#3a3a3a" textLength="17.32" lengthAdjust="spacingAndGlyphs">0.71</text>
<clipPath id="c4"><rect x="549.6" y="17.6" width="130.8" height="127"/></clipPath>
<line x1="549.6" y1="144.6" x2="680.4" y2="17.6" stroke="#000" stroke-width="1.3" stroke-dasharray="3.4,4.1" stroke-linecap="butt"/>
<polyline points="554.40,140.00 557.00,129.00 560.00,121.00 563.00,114.00 567.00,107.00 571.00,99.00 575.00,93.00 579.00,85.00 583.00,79.00 587.00,73.00 591.00,69.00 596.00,65.00 601.00,61.00 606.00,57.00 611.00,52.00 616.00,47.00 621.00,42.00 627.00,38.00 633.00,34.00 641.00,30.00 649.00,27.00 655.00,24.60 663.00,23.00 676.00,22.00" fill="none" stroke="#000000" stroke-width="2.6" stroke-dasharray="6.7,9" stroke-linejoin="round" stroke-linecap="butt" clip-path="url(#c4)"/>
<polyline points="554.40,140.00 554.44,140.00 554.44,139.02 554.53,139.02 554.53,138.03 554.62,138.03 554.62,137.05 554.71,137.05 554.71,136.07 554.80,136.07 554.80,135.08 554.89,135.08 554.89,134.10 554.98,134.10 554.98,133.12 555.07,133.12 555.07,132.13 555.16,132.13 555.16,131.15 555.25,131.15 555.25,130.17 555.34,130.17 555.34,129.18 555.45,129.18 555.45,128.20 555.61,128.20 555.61,127.22 555.76,127.22 555.76,126.23 555.92,126.23 555.92,125.25 556.08,125.25 556.08,124.27 556.24,124.27 556.24,123.28 556.39,123.28 556.39,122.30 556.55,122.30 556.55,121.32 556.71,121.32 556.71,120.33 556.87,120.33 556.87,119.35 557.04,119.35 557.04,118.37 557.28,118.37 557.28,117.38 557.53,117.38 557.53,116.40 557.77,116.40 557.77,115.42 558.02,115.42 558.02,114.43 558.26,114.43 558.26,113.45 558.51,113.45 558.51,112.47 558.76,112.47 558.76,111.48 559.00,111.48 559.00,110.50 559.28,110.50 559.28,109.52 559.56,109.52 559.56,108.53 559.85,108.53 559.85,107.55 560.13,107.55 560.13,106.57 560.41,106.57 560.41,105.58 560.69,105.58 560.69,104.60 560.97,104.60 560.97,103.62 561.25,103.62 561.25,102.63 561.53,102.63 561.53,101.65 561.81,101.65 561.81,100.67 562.09,100.67 562.09,99.68 562.37,99.68 562.37,98.70 562.65,98.70 562.65,97.72 562.94,97.72 562.94,96.73 563.28,96.73 563.28,95.75 563.65,95.75 563.65,94.77 564.02,94.77 564.02,93.78 564.39,93.78 564.39,92.80 564.76,92.80 564.76,91.82 565.13,91.82 565.13,90.83 565.50,90.83 565.50,89.85 565.87,89.85 565.87,88.87 566.25,88.87 566.25,87.88 566.64,87.88 566.64,86.90 567.04,86.90 567.04,85.92 567.43,85.92 567.43,84.93 567.82,84.93 567.82,83.95 568.33,83.95 568.33,82.97 568.91,82.97 568.91,81.98 569.50,81.98 569.50,81.00 570.10,81.00 570.10,80.02 570.69,80.02 570.69,79.03 571.34,79.03 571.34,78.05 572.08,78.05 572.08,77.07 572.82,77.07 572.82,76.08 573.56,76.08 573.56,75.10 574.39,75.10 574.39,74.12 575.38,74.12 575.38,73.13 576.36,73.13 576.36,72.15 578.02,72.15 578.02,71.17 580.33,71.17 580.33,70.18 581.31,70.18 581.31,69.20 582.29,69.20 582.29,68.22 583.41,68.22 583.41,67.23 584.89,67.23 584.89,66.25 586.18,66.25 586.18,65.27 586.92,65.27 586.92,64.28 587.66,64.28 587.66,63.30 588.39,63.30 588.39,62.32 589.17,62.32 589.17,61.33 590.16,61.33 590.16,60.35 591.14,60.35 591.14,59.37 592.19,59.37 592.19,58.38 593.66,58.38 593.66,57.40 595.12,57.40 595.12,56.42 596.43,56.42 596.43,55.43 597.74,55.43 597.74,54.45 599.04,54.45 599.04,53.47 600.02,53.47 600.02,52.48 601.01,52.48 601.01,51.50 601.99,51.50 601.99,50.52 602.73,50.52 602.73,49.53 603.47,49.53 603.47,48.55 604.21,48.55 604.21,47.57 604.94,47.57 604.94,46.58 606.36,46.58 606.36,45.60 607.84,45.60 607.84,44.62 609.31,44.62 609.31,43.63 610.79,43.63 610.79,42.65 612.12,42.65 612.12,41.67 613.43,41.67 613.43,40.68 614.74,40.68 614.74,39.70 617.83,39.70 617.83,38.72 621.17,38.72 621.17,37.73 624.24,37.73 624.24,36.75 627.97,36.75 627.97,35.77 630.45,35.77 630.45,34.78 632.42,34.78 632.42,33.80 634.38,33.80 634.38,32.82 637.02,32.82 637.02,31.83 639.98,31.83 639.98,30.85 644.85,30.85 644.85,29.87 650.75,29.87 650.75,28.88 653.91,28.88 653.91,27.90 655.39,27.90 655.39,26.92 656.86,26.92 656.86,25.93 658.34,25.93 658.34,24.95 661.17,24.95 661.17,23.97 665.10,23.97 665.10,22.98 671.58,22.98 671.58,22.00 676.00,22.00" fill="none" stroke="#B82D28" stroke-width="2.0" stroke-linejoin="round" stroke-linecap="butt" clip-path="url(#c4)"/>
<polyline points="554.40,140.00 554.42,140.00 554.42,139.02 554.47,139.02 554.47,138.03 554.51,138.03 554.51,137.05 554.56,137.05 554.56,136.07 554.60,136.07 554.60,135.08 554.65,135.08 554.65,134.10 554.69,134.10 554.69,133.12 554.74,133.12 554.74,132.13 554.79,132.13 554.79,131.15 554.83,131.15 554.83,130.17 554.88,130.17 554.88,129.18 554.92,129.18 554.92,128.20 554.97,128.20 554.97,127.22 555.03,127.22 555.03,126.23 555.16,126.23 555.16,125.25 555.28,125.25 555.28,124.27 555.40,124.27 555.40,123.28 555.53,123.28 555.53,122.30 555.65,122.30 555.65,121.32 555.77,121.32 555.77,120.33 555.89,120.33 555.89,119.35 556.05,119.35 556.05,118.37 556.38,118.37 556.38,117.38 556.70,117.38 556.70,116.40 557.03,116.40 557.03,115.42 557.36,115.42 557.36,114.43 557.69,114.43 557.69,113.45 558.02,113.45 558.02,112.47 558.38,112.47 558.38,111.48 558.75,111.48 558.75,110.50 559.12,110.50 559.12,109.52 559.49,109.52 559.49,108.53 559.86,108.53 559.86,107.55 560.23,107.55 560.23,106.57 560.60,106.57 560.60,105.58 560.97,105.58 560.97,104.60 561.33,104.60 561.33,103.62 561.70,103.62 561.70,102.63 562.07,102.63 562.07,101.65 562.44,101.65 562.44,100.67 562.81,100.67 562.81,99.68 563.18,99.68 563.18,98.70 563.55,98.70 563.55,97.72 563.92,97.72 563.92,96.73 564.38,96.73 564.38,95.75 564.87,95.75 564.87,94.77 565.36,94.77 565.36,93.78 565.85,93.78 565.85,92.80 566.35,92.80 566.35,91.82 566.84,91.82 566.84,90.83 567.39,90.83 567.39,89.85 567.99,89.85 567.99,88.87 568.58,88.87 568.58,87.88 569.16,87.88 569.16,86.90 569.75,86.90 569.75,85.92 570.43,85.92 570.43,84.93 571.17,84.93 571.17,83.95 571.91,83.95 571.91,82.97 572.64,82.97 572.64,81.98 573.51,81.98 573.51,81.00 574.49,81.00 574.49,80.02 575.48,80.02 575.48,79.03 576.23,79.03 576.23,78.05 576.72,78.05 576.72,77.07 577.21,77.07 577.21,76.08 577.70,76.08 577.70,75.10 578.20,75.10 578.20,74.12 578.69,74.12 578.69,73.13 579.27,73.13 579.27,72.15 580.01,72.15 580.01,71.17 580.74,71.17 580.74,70.18 581.48,70.18 581.48,69.20 582.29,69.20 582.29,68.22 583.27,68.22 583.27,67.23 584.26,67.23 584.26,66.25 585.48,66.25 585.48,65.27 587.45,65.27 587.45,64.28 589.28,64.28 589.28,63.30 590.59,63.30 590.59,62.32 591.90,62.32 591.90,61.33 593.63,61.33 593.63,60.35 597.28,60.35 597.28,59.37 599.25,59.37 599.25,58.38 601.22,58.38 601.22,57.40 603.18,57.40 603.18,56.42 605.10,56.42 605.10,55.43 606.41,55.43 606.41,54.45 607.72,54.45 607.72,53.47 609.05,53.47 609.05,52.48 611.02,52.48 611.02,51.50 612.98,51.50 612.98,50.52 614.95,50.52 614.95,49.53 616.92,49.53 616.92,48.55 620.77,48.55 620.77,47.57 622.85,47.57 622.85,46.58 624.82,46.58 624.82,45.60 626.78,45.60 626.78,44.62 628.75,44.62 628.75,43.63 630.72,43.63 630.72,42.65 632.68,42.65 632.68,41.67 634.10,41.67 634.10,40.68 635.41,40.68 635.41,39.70 636.72,39.70 636.72,38.72 637.58,38.72 637.58,37.73 638.32,37.73 638.32,36.75 639.06,36.75 639.06,35.77 639.79,35.77 639.79,34.78 641.06,34.78 641.06,33.80 642.54,33.80 642.54,32.82 645.02,32.82 645.02,31.83 647.98,31.83 647.98,30.85 650.92,30.85 650.92,29.87 653.88,29.87 653.88,28.88 656.52,28.88 656.52,27.90 658.98,27.90 658.98,26.92 661.52,26.92 661.52,25.93 664.48,25.93 664.48,24.95 667.49,24.95 667.49,23.97 670.89,23.97 670.89,22.98 674.30,22.98 674.30,22.00 676.00,22.00" fill="none" stroke="#E57E25" stroke-width="2.0" stroke-linejoin="round" stroke-linecap="butt" clip-path="url(#c4)"/>
<polyline points="554.40,140.00 554.47,140.00 554.47,139.02 554.61,139.02 554.61,138.03 554.75,138.03 554.75,137.05 554.89,137.05 554.89,136.07 555.03,136.07 555.03,135.08 555.17,135.08 555.17,134.10 555.31,134.10 555.31,133.12 555.48,133.12 555.48,132.13 555.67,132.13 555.67,131.15 555.87,131.15 555.87,130.17 556.06,130.17 556.06,129.18 556.26,129.18 556.26,128.20 556.46,128.20 556.46,127.22 556.65,127.22 556.65,126.23 556.85,126.23 556.85,125.25 557.08,125.25 557.08,124.27 557.41,124.27 557.41,123.28 557.74,123.28 557.74,122.30 558.06,122.30 558.06,121.32 558.39,121.32 558.39,120.33 558.72,120.33 558.72,119.35 559.05,119.35 559.05,118.37 559.42,118.37 559.42,117.38 559.79,117.38 559.79,116.40 560.16,116.40 560.16,115.42 560.53,115.42 560.53,114.43 560.90,114.43 560.90,113.45 561.27,113.45 561.27,112.47 561.63,112.47 561.63,111.48 562.00,111.48 562.00,110.50 562.42,110.50 562.42,109.52 562.85,109.52 562.85,108.53 563.27,108.53 563.27,107.55 563.69,107.55 563.69,106.57 564.11,106.57 564.11,105.58 564.53,105.58 564.53,104.60 564.95,104.60 564.95,103.62 565.39,103.62 565.39,102.63 565.83,102.63 565.83,101.65 566.26,101.65 566.26,100.67 566.70,100.67 566.70,99.68 567.14,99.68 567.14,98.70 567.57,98.70 567.57,97.72 568.01,97.72 568.01,96.73 568.45,96.73 568.45,95.75 568.89,95.75 568.89,94.77 569.36,94.77 569.36,93.78 569.85,93.78 569.85,92.80 570.35,92.80 570.35,91.82 570.84,91.82 570.84,90.83 571.33,90.83 571.33,89.85 571.82,89.85 571.82,88.87 572.47,88.87 572.47,87.88 573.21,87.88 573.21,86.90 573.94,86.90 573.94,85.92 574.68,85.92 574.68,84.93 575.45,84.93 575.45,83.95 576.23,83.95 576.23,82.97 577.02,82.97 577.02,81.98 577.81,81.98 577.81,81.00 578.59,81.00 578.59,80.02 579.38,80.02 579.38,79.03 580.17,79.03 580.17,78.05 580.95,78.05 580.95,77.07 581.74,77.07 581.74,76.08 582.53,76.08 582.53,75.10 583.39,75.10 583.39,74.12 584.38,74.12 584.38,73.13 585.36,73.13 585.36,72.15 586.34,72.15 586.34,71.17 587.33,71.17 587.33,70.18 588.31,70.18 588.31,69.20 589.29,69.20 589.29,68.22 590.27,68.22 590.27,67.23 591.34,67.23 591.34,66.25 592.66,66.25 592.66,65.27 593.97,65.27 593.97,64.28 595.28,64.28 595.28,63.30 596.59,63.30 596.59,62.32 597.90,62.32 597.90,61.33 599.21,61.33 599.21,60.35 600.52,60.35 600.52,59.37 601.83,59.37 601.83,58.38 603.14,58.38 603.14,57.40 604.46,57.40 604.46,56.42 605.77,56.42 605.77,55.43 607.08,55.43 607.08,54.45 608.39,54.45 608.39,53.47 609.70,53.47 609.70,52.48 611.01,52.48 611.01,51.50 612.32,51.50 612.32,50.52 613.63,50.52 613.63,49.53 614.94,49.53 614.94,48.55 615.94,48.55 615.94,47.57 616.92,47.57 616.92,46.58 617.91,46.58 617.91,45.60 618.89,45.60 618.89,44.62 619.88,44.62 619.88,43.63 620.86,43.63 620.86,42.65 621.84,42.65 621.84,41.67 622.83,41.67 622.83,40.68 623.81,40.68 623.81,39.70 624.79,39.70 624.79,38.72 625.77,38.72 625.77,37.73 626.76,37.73 626.76,36.75 627.99,36.75 627.99,35.77 629.30,35.77 629.30,34.78 630.61,34.78 630.61,33.80 631.92,33.80 631.92,32.82 633.23,32.82 633.23,31.83 634.54,31.83 634.54,30.85 636.92,30.85 636.92,29.87 639.88,29.87 639.88,28.88 644.65,28.88 644.65,27.90 648.77,27.90 648.77,26.92 651.73,26.92 651.73,25.93 654.67,25.93 654.67,24.95 657.62,24.95 657.62,23.97 660.58,23.97 660.58,22.98 663.52,22.98 663.52,22.00 676.00,22.00" fill="none" stroke="#2B6CB5" stroke-width="2.0" stroke-linejoin="round" stroke-linecap="butt" clip-path="url(#c4)"/>
<polyline points="554.40,140.00 554.47,140.00 554.47,139.02 554.61,139.02 554.61,138.03 554.75,138.03 554.75,137.05 554.89,137.05 554.89,136.07 555.03,136.07 555.03,135.08 555.17,135.08 555.17,134.10 555.31,134.10 555.31,133.12 555.52,133.12 555.52,132.13 555.83,132.13 555.83,131.15 556.15,131.15 556.15,130.17 556.46,130.17 556.46,129.18 556.78,129.18 556.78,128.20 557.29,128.20 557.29,127.22 558.27,127.22 558.27,126.23 559.15,126.23 559.15,125.25 559.75,125.25 559.75,124.27 560.34,124.27 560.34,123.28 560.92,123.28 560.92,122.30 561.51,122.30 561.51,121.32 562.09,121.32 562.09,120.33 562.58,120.33 562.58,119.35 563.07,119.35 563.07,118.37 563.56,118.37 563.56,117.38 564.05,117.38 564.05,116.40 564.55,116.40 564.55,115.42 565.05,115.42 565.05,114.43 565.71,114.43 565.71,113.45 566.36,113.45 566.36,112.47 567.02,112.47 567.02,111.48 567.67,111.48 567.67,110.50 568.33,110.50 568.33,109.52 568.98,109.52 568.98,108.53 569.72,108.53 569.72,107.55 570.46,107.55 570.46,106.57 571.19,106.57 571.19,105.58 571.93,105.58 571.93,104.60 573.34,104.60 573.34,103.62 574.81,103.62 574.81,102.63 576.14,102.63 576.14,101.65 577.46,101.65 577.46,100.67 578.77,100.67 578.77,99.68 580.08,99.68 580.08,98.70 581.39,98.70 581.39,97.72 582.70,97.72 582.70,96.73 584.01,96.73 584.01,95.75 585.32,95.75 585.32,94.77 586.63,94.77 586.63,93.78 587.94,93.78 587.94,92.80 589.26,92.80 589.26,91.82 590.57,91.82 590.57,90.83 591.88,90.83 591.88,89.85 593.19,89.85 593.19,88.87 594.50,88.87 594.50,87.88 595.81,87.88 595.81,86.90 597.12,86.90 597.12,85.92 598.43,85.92 598.43,84.93 600.12,84.93 600.12,83.95 602.08,83.95 602.08,82.97 605.10,82.97 605.10,81.98 607.68,81.98 607.68,81.00 608.99,81.00 608.99,80.02 610.30,80.02 610.30,79.03 611.37,79.03 611.37,78.05 612.15,78.05 612.15,77.07 612.94,77.07 612.94,76.08 613.73,76.08 613.73,75.10 614.51,75.10 614.51,74.12 615.38,74.12 615.38,73.13 616.36,73.13 616.36,72.15 617.34,72.15 617.34,71.17 618.33,71.17 618.33,70.18 619.25,70.18 619.25,69.20 620.03,69.20 620.03,68.22 620.82,68.22 620.82,67.23 621.61,67.23 621.61,66.25 622.39,66.25 622.39,65.27 623.23,65.27 623.23,64.28 624.21,64.28 624.21,63.30 625.19,63.30 625.19,62.32 626.17,62.32 626.17,61.33 627.13,61.33 627.13,60.35 627.91,60.35 627.91,59.37 628.70,59.37 628.70,58.38 629.49,58.38 629.49,57.40 630.27,57.40 630.27,56.42 631.15,56.42 631.15,55.43 633.12,55.43 633.12,54.45 635.06,54.45 635.06,53.47 636.37,53.47 636.37,52.48 637.68,52.48 637.68,51.50 638.99,51.50 638.99,50.52 639.98,50.52 639.98,49.53 640.96,49.53 640.96,48.55 641.94,48.55 641.94,47.57 642.92,47.57 642.92,46.58 643.91,46.58 643.91,45.60 644.89,45.60 644.89,44.62 645.88,44.62 645.88,43.63 646.86,43.63 646.86,42.65 647.84,42.65 647.84,41.67 648.83,41.67 648.83,40.68 649.81,40.68 649.81,39.70 650.79,39.70 650.79,38.72 651.58,38.72 651.58,37.73 652.32,37.73 652.32,36.75 653.06,36.75 653.06,35.77 653.79,35.77 653.79,34.78 654.47,34.78 654.47,33.80 655.13,33.80 655.13,32.82 655.78,32.82 655.78,31.83 656.49,31.83 656.49,30.85 657.23,30.85 657.23,29.87 657.97,29.87 657.97,28.88 658.71,28.88 658.71,27.90 659.79,27.90 659.79,26.92 661.10,26.92 661.10,25.93 662.41,25.93 662.41,24.95 664.62,24.95 664.62,23.97 667.58,23.97 667.58,22.98 672.56,22.98 672.56,22.00 676.00,22.00" fill="none" stroke="#0C9847" stroke-width="2.0" stroke-linejoin="round" stroke-linecap="butt" clip-path="url(#c4)"/>
<rect x="549.6" y="17.6" width="130.8" height="127" fill="none" stroke="#222222" stroke-width="1.2"/>
<line x1="554.44" y1="144.6" x2="554.44" y2="148.2" stroke="#222222" stroke-width="1.1" stroke-linecap="butt"/>
<text x="555.94" y="159.3" font-size="10.0" font-weight="bold" text-anchor="middle" fill="#1a1a1a" stroke="#1a1a1a" stroke-width="0.22" textLength="12.65" lengthAdjust="spacingAndGlyphs">0.0</text>
<line x1="549.6" y1="139.9" x2="545.6" y2="139.9" stroke="#222222" stroke-width="1.1" stroke-linecap="butt"/>
<text x="539.7" y="138.4" font-size="9.3" font-weight="bold" text-anchor="middle" fill="#1a1a1a" stroke="#1a1a1a" stroke-width="0.22" transform="rotate(-90 539.7 138.4)" textLength="12.79" lengthAdjust="spacingAndGlyphs">0.0</text>
<line x1="578.67" y1="144.6" x2="578.67" y2="148.2" stroke="#222222" stroke-width="1.1" stroke-linecap="butt"/>
<text x="580.17" y="159.3" font-size="10.0" font-weight="bold" text-anchor="middle" fill="#1a1a1a" stroke="#1a1a1a" stroke-width="0.22" textLength="12.65" lengthAdjust="spacingAndGlyphs">0.2</text>
<line x1="549.6" y1="116.38" x2="545.6" y2="116.38" stroke="#222222" stroke-width="1.1" stroke-linecap="butt"/>
<text x="539.7" y="114.88" font-size="9.3" font-weight="bold" text-anchor="middle" fill="#1a1a1a" stroke="#1a1a1a" stroke-width="0.22" transform="rotate(-90 539.7 114.88)" textLength="12.79" lengthAdjust="spacingAndGlyphs">0.2</text>
<line x1="602.89" y1="144.6" x2="602.89" y2="148.2" stroke="#222222" stroke-width="1.1" stroke-linecap="butt"/>
<text x="604.39" y="159.3" font-size="10.0" font-weight="bold" text-anchor="middle" fill="#1a1a1a" stroke="#1a1a1a" stroke-width="0.22" textLength="12.65" lengthAdjust="spacingAndGlyphs">0.4</text>
<line x1="549.6" y1="92.86" x2="545.6" y2="92.86" stroke="#222222" stroke-width="1.1" stroke-linecap="butt"/>
<text x="539.7" y="91.36" font-size="9.3" font-weight="bold" text-anchor="middle" fill="#1a1a1a" stroke="#1a1a1a" stroke-width="0.22" transform="rotate(-90 539.7 91.36)" textLength="12.79" lengthAdjust="spacingAndGlyphs">0.4</text>
<line x1="627.11" y1="144.6" x2="627.11" y2="148.2" stroke="#222222" stroke-width="1.1" stroke-linecap="butt"/>
<text x="628.61" y="159.3" font-size="10.0" font-weight="bold" text-anchor="middle" fill="#1a1a1a" stroke="#1a1a1a" stroke-width="0.22" textLength="12.65" lengthAdjust="spacingAndGlyphs">0.6</text>
<line x1="549.6" y1="69.34" x2="545.6" y2="69.34" stroke="#222222" stroke-width="1.1" stroke-linecap="butt"/>
<text x="539.7" y="67.84" font-size="9.3" font-weight="bold" text-anchor="middle" fill="#1a1a1a" stroke="#1a1a1a" stroke-width="0.22" transform="rotate(-90 539.7 67.84)" textLength="12.79" lengthAdjust="spacingAndGlyphs">0.6</text>
<line x1="651.33" y1="144.6" x2="651.33" y2="148.2" stroke="#222222" stroke-width="1.1" stroke-linecap="butt"/>
<text x="652.83" y="159.3" font-size="10.0" font-weight="bold" text-anchor="middle" fill="#1a1a1a" stroke="#1a1a1a" stroke-width="0.22" textLength="12.65" lengthAdjust="spacingAndGlyphs">0.8</text>
<line x1="549.6" y1="45.82" x2="545.6" y2="45.82" stroke="#222222" stroke-width="1.1" stroke-linecap="butt"/>
<text x="539.7" y="44.32" font-size="9.3" font-weight="bold" text-anchor="middle" fill="#1a1a1a" stroke="#1a1a1a" stroke-width="0.22" transform="rotate(-90 539.7 44.32)" textLength="12.79" lengthAdjust="spacingAndGlyphs">0.8</text>
<line x1="675.56" y1="144.6" x2="675.56" y2="148.2" stroke="#222222" stroke-width="1.1" stroke-linecap="butt"/>
<text x="677.06" y="159.3" font-size="10.0" font-weight="bold" text-anchor="middle" fill="#1a1a1a" stroke="#1a1a1a" stroke-width="0.22" textLength="12.65" lengthAdjust="spacingAndGlyphs">1.0</text>
<line x1="549.6" y1="22.3" x2="545.6" y2="22.3" stroke="#222222" stroke-width="1.1" stroke-linecap="butt"/>
<text x="539.7" y="20.8" font-size="9.3" font-weight="bold" text-anchor="middle" fill="#1a1a1a" stroke="#1a1a1a" stroke-width="0.22" transform="rotate(-90 539.7 20.8)" textLength="12.79" lengthAdjust="spacingAndGlyphs">1.0</text>
<text x="597.1" y="175.6" font-size="9.7" font-weight="bold" text-anchor="start" fill="#1a1a1a" stroke="#1a1a1a" stroke-width="0.22" textLength="67.79" lengthAdjust="spacingAndGlyphs">3y 1−Specificity</text>
<text x="524" y="95.3" font-size="9.0" font-weight="bold" text-anchor="start" fill="#1a1a1a" stroke="#1a1a1a" stroke-width="0.22" transform="rotate(-90 524 95.3)" textLength="45.02" lengthAdjust="spacingAndGlyphs">Sensitivity</text>
<rect x="633.2" y="71.2" width="5" height="4.9" fill="#B82D28"/>
<text x="643.2" y="74.6" font-size="10.0" text-anchor="start" fill="#3a3a3a" textLength="17.32" lengthAdjust="spacingAndGlyphs">0.76</text>
<rect x="633.2" y="86.2" width="5" height="4.9" fill="#E57E25"/>
<text x="643.2" y="89.8" font-size="10.0" text-anchor="start" fill="#3a3a3a" textLength="17.32" lengthAdjust="spacingAndGlyphs">0.72</text>
<rect x="633.2" y="100.9" width="5" height="4.9" fill="#2B6CB5"/>
<text x="643.2" y="104.4" font-size="10.0" text-anchor="start" fill="#3a3a3a" textLength="17.32" lengthAdjust="spacingAndGlyphs">0.72</text>
<rect x="633.2" y="115.5" width="5" height="4.9" fill="#0C9847"/>
<text x="643.2" y="121.3" font-size="10.0" text-anchor="start" fill="#3a3a3a" textLength="17.32" lengthAdjust="spacingAndGlyphs">0.58</text>
<rect x="633.2" y="130.1" width="5" height="4.9" fill="#000000"/>
<text x="643.2" y="136.8" font-size="10.0" text-anchor="start" fill="#3a3a3a" textLength="17.32" lengthAdjust="spacingAndGlyphs">0.70</text>
<clipPath id="c5"><rect x="32.8" y="189" width="132" height="126.5"/></clipPath>
<line x1="32.8" y1="315.5" x2="164.8" y2="189" stroke="#000" stroke-width="1.3" stroke-dasharray="3.4,4.1" stroke-linecap="butt"/>
<polyline points="37.60,311.40 41.00,301.00 45.00,291.00 49.00,283.00 53.00,275.00 57.00,267.00 61.00,259.00 65.00,252.00 70.00,246.00 75.00,242.00 80.00,239.00 85.00,235.00 90.00,231.00 96.00,225.00 102.00,219.00 108.00,214.00 112.00,210.00 118.00,206.00 124.00,203.00 130.00,200.00 136.00,197.00 142.00,195.40 150.00,194.00 159.40,193.40" fill="none" stroke="#000000" stroke-width="2.6" stroke-dasharray="6.7,9" stroke-linejoin="round" stroke-linecap="butt" clip-path="url(#c5)"/>
<polyline points="37.60,311.40 38.40,301.00 40.00,291.00 42.00,283.00 45.00,274.00 48.00,267.00 51.00,260.00 54.00,255.00 58.00,249.00 62.00,245.00 66.00,241.00 70.00,237.00 74.00,233.00 78.00,230.00 82.00,227.00 86.00,223.00 90.00,219.00 94.00,216.00 98.00,214.00 102.00,212.00 106.00,210.00 110.00,209.00 114.00,207.00 118.00,205.00 124.00,203.00 130.00,201.00 136.00,199.00 142.00,197.00 148.00,195.00 154.00,194.00 159.40,193.40" fill="none" stroke="#B82D28" stroke-width="2.0" stroke-linejoin="round" stroke-linecap="butt" clip-path="url(#c5)"/>
<polyline points="37.60,311.40 38.40,299.00 40.00,293.00 42.00,287.00 45.00,278.00 48.00,269.00 51.00,263.00 54.00,258.00 58.00,253.00 62.00,247.00 66.00,244.00 70.00,240.00 74.00,237.00 78.00,234.00 82.00,231.00 86.00,229.00 90.00,227.00 94.00,225.00 98.00,222.00 102.00,220.00 106.00,218.00 110.00,216.00 114.00,214.00 118.00,212.00 122.00,209.00 126.00,207.00 130.00,205.00 134.00,204.00 138.00,202.00 142.00,200.00 148.00,197.00 154.00,195.00 159.40,193.40" fill="none" stroke="#E57E25" stroke-width="2.0" stroke-linejoin="round" stroke-linecap="butt" clip-path="url(#c5)"/>
<polyline points="37.60,311.40 39.00,304.00 41.00,298.00 44.00,290.00 48.20,282.80 53.40,272.20 58.60,264.40 66.40,253.80 74.40,244.60 83.60,235.40 89.00,231.00 94.00,226.20 98.00,222.60 102.00,218.60 105.60,215.00 109.00,211.00 113.00,207.00 117.00,204.00 122.00,202.00 128.00,200.00 134.00,198.00 140.00,196.00 146.00,194.60 152.00,193.40 159.40,193.40" fill="none" stroke="#2B6CB5" stroke-width="2.0" stroke-linejoin="round" stroke-linecap="butt" clip-path="url(#c5)"/>
<polyline points="37.60,311.40 39.00,305.00 42.00,300.00 45.00,295.00 48.00,289.00 51.00,284.00 54.00,278.00 58.00,274.00 62.00,270.00 66.00,267.00 70.00,264.00 74.00,262.00 78.00,259.00 82.00,257.00 86.00,255.00 90.00,253.00 94.00,250.00 98.00,246.00 102.00,242.00 106.00,238.00 110.00,233.00 114.00,227.00 118.00,225.00 122.00,222.00 126.00,219.00 130.00,215.00 134.00,211.00 138.00,207.00 142.00,203.00 146.00,200.00 150.00,197.00 155.00,195.00 159.40,193.40" fill="none" stroke="#0C9847" stroke-width="2.0" stroke-linejoin="round" stroke-linecap="butt" clip-path="url(#c5)"/>
<rect x="32.8" y="189" width="132" height="126.5" fill="none" stroke="#222222" stroke-width="1.2"/>
<line x1="37.69" y1="315.5" x2="37.69" y2="319.1" stroke="#222222" stroke-width="1.1" stroke-linecap="butt"/>
<text x="39.19" y="330.2" font-size="10.0" font-weight="bold" text-anchor="middle" fill="#1a1a1a" stroke="#1a1a1a" stroke-width="0.22" textLength="12.65" lengthAdjust="spacingAndGlyphs">0.0</text>
<line x1="32.8" y1="310.81" x2="28.8" y2="310.81" stroke="#222222" stroke-width="1.1" stroke-linecap="butt"/>
<text x="22.9" y="309.31" font-size="9.3" font-weight="bold" text-anchor="middle" fill="#1a1a1a" stroke="#1a1a1a" stroke-width="0.22" transform="rotate(-90 22.9 309.31)" textLength="12.79" lengthAdjust="spacingAndGlyphs">0.0</text>
<line x1="62.13" y1="315.5" x2="62.13" y2="319.1" stroke="#222222" stroke-width="1.1" stroke-linecap="butt"/>
<text x="63.63" y="330.2" font-size="10.0" font-weight="bold" text-anchor="middle" fill="#1a1a1a" stroke="#1a1a1a" stroke-width="0.22" textLength="12.65" lengthAdjust="spacingAndGlyphs">0.2</text>
<line x1="32.8" y1="287.39" x2="28.8" y2="287.39" stroke="#222222" stroke-width="1.1" stroke-linecap="butt"/>
<text x="22.9" y="285.89" font-size="9.3" font-weight="bold" text-anchor="middle" fill="#1a1a1a" stroke="#1a1a1a" stroke-width="0.22" transform="rotate(-90 22.9 285.89)" textLength="12.79" lengthAdjust="spacingAndGlyphs">0.2</text>
<line x1="86.58" y1="315.5" x2="86.58" y2="319.1" stroke="#222222" stroke-width="1.1" stroke-linecap="butt"/>
<text x="88.08" y="330.2" font-size="10.0" font-weight="bold" text-anchor="middle" fill="#1a1a1a" stroke="#1a1a1a" stroke-width="0.22" textLength="12.65" lengthAdjust="spacingAndGlyphs">0.4</text>
<line x1="32.8" y1="263.96" x2="28.8" y2="263.96" stroke="#222222" stroke-width="1.1" stroke-linecap="butt"/>
<text x="22.9" y="262.46" font-size="9.3" font-weight="bold" text-anchor="middle" fill="#1a1a1a" stroke="#1a1a1a" stroke-width="0.22" transform="rotate(-90 22.9 262.46)" textLength="12.79" lengthAdjust="spacingAndGlyphs">0.4</text>
<line x1="111.02" y1="315.5" x2="111.02" y2="319.1" stroke="#222222" stroke-width="1.1" stroke-linecap="butt"/>
<text x="112.52" y="330.2" font-size="10.0" font-weight="bold" text-anchor="middle" fill="#1a1a1a" stroke="#1a1a1a" stroke-width="0.22" textLength="12.65" lengthAdjust="spacingAndGlyphs">0.6</text>
<line x1="32.8" y1="240.54" x2="28.8" y2="240.54" stroke="#222222" stroke-width="1.1" stroke-linecap="butt"/>
<text x="22.9" y="239.04" font-size="9.3" font-weight="bold" text-anchor="middle" fill="#1a1a1a" stroke="#1a1a1a" stroke-width="0.22" transform="rotate(-90 22.9 239.04)" textLength="12.79" lengthAdjust="spacingAndGlyphs">0.6</text>
<line x1="135.47" y1="315.5" x2="135.47" y2="319.1" stroke="#222222" stroke-width="1.1" stroke-linecap="butt"/>
<text x="136.97" y="330.2" font-size="10.0" font-weight="bold" text-anchor="middle" fill="#1a1a1a" stroke="#1a1a1a" stroke-width="0.22" textLength="12.65" lengthAdjust="spacingAndGlyphs">0.8</text>
<line x1="32.8" y1="217.11" x2="28.8" y2="217.11" stroke="#222222" stroke-width="1.1" stroke-linecap="butt"/>
<text x="22.9" y="215.61" font-size="9.3" font-weight="bold" text-anchor="middle" fill="#1a1a1a" stroke="#1a1a1a" stroke-width="0.22" transform="rotate(-90 22.9 215.61)" textLength="12.79" lengthAdjust="spacingAndGlyphs">0.8</text>
<line x1="159.91" y1="315.5" x2="159.91" y2="319.1" stroke="#222222" stroke-width="1.1" stroke-linecap="butt"/>
<text x="161.41" y="330.2" font-size="10.0" font-weight="bold" text-anchor="middle" fill="#1a1a1a" stroke="#1a1a1a" stroke-width="0.22" textLength="12.65" lengthAdjust="spacingAndGlyphs">1.0</text>
<line x1="32.8" y1="193.69" x2="28.8" y2="193.69" stroke="#222222" stroke-width="1.1" stroke-linecap="butt"/>
<text x="22.9" y="192.19" font-size="9.3" font-weight="bold" text-anchor="middle" fill="#1a1a1a" stroke="#1a1a1a" stroke-width="0.22" transform="rotate(-90 22.9 192.19)" textLength="12.79" lengthAdjust="spacingAndGlyphs">1.0</text>
<text x="80.3" y="346.5" font-size="9.7" font-weight="bold" text-anchor="start" fill="#1a1a1a" stroke="#1a1a1a" stroke-width="0.22" textLength="67.79" lengthAdjust="spacingAndGlyphs">4y 1−Specificity</text>
<text x="7.2" y="266.2" font-size="9.0" font-weight="bold" text-anchor="start" fill="#1a1a1a" stroke="#1a1a1a" stroke-width="0.22" transform="rotate(-90 7.2 266.2)" textLength="45.02" lengthAdjust="spacingAndGlyphs">Sensitivity</text>
<rect x="127.4" y="242.6" width="5" height="4.9" fill="#B82D28"/>
<text x="137.4" y="245.6" font-size="10.0" text-anchor="start" fill="#3a3a3a" textLength="17.32" lengthAdjust="spacingAndGlyphs">0.74</text>
<rect x="127.4" y="257.6" width="5" height="4.9" fill="#E57E25"/>
<text x="137.4" y="260.8" font-size="10.0" text-anchor="start" fill="#3a3a3a" textLength="17.32" lengthAdjust="spacingAndGlyphs">0.71</text>
<rect x="127.4" y="272.3" width="5" height="4.9" fill="#2B6CB5"/>
<text x="137.4" y="277.4" font-size="10.0" text-anchor="start" fill="#3a3a3a" textLength="17.32" lengthAdjust="spacingAndGlyphs">0.71</text>
<rect x="127.4" y="286.9" width="5" height="4.9" fill="#0C9847"/>
<text x="137.4" y="292.7" font-size="10.0" text-anchor="start" fill="#3a3a3a" textLength="17.32" lengthAdjust="spacingAndGlyphs">0.58</text>
<rect x="127.4" y="301.5" width="5" height="4.9" fill="#000000"/>
<text x="137.4" y="308.2" font-size="10.0" text-anchor="start" fill="#3a3a3a" textLength="17.32" lengthAdjust="spacingAndGlyphs">0.69</text>
<clipPath id="c6"><rect x="205.3" y="189.2" width="130.5" height="126"/></clipPath>
<line x1="205.3" y1="315.2" x2="335.8" y2="189.2" stroke="#000" stroke-width="1.3" stroke-dasharray="3.4,4.1" stroke-linecap="butt"/>
<polyline points="209.60,310.60 213.00,299.00 216.00,291.00 220.00,283.00 224.00,276.00 228.00,267.00 232.00,261.00 236.00,254.00 240.00,248.00 245.00,243.00 250.00,238.00 255.00,233.00 261.00,227.00 267.00,221.00 273.00,216.00 279.00,213.00 283.00,209.00 287.00,205.00 293.00,201.00 299.00,198.00 305.00,196.00 313.00,194.60 323.00,194.00 331.00,193.40" fill="none" stroke="#000000" stroke-width="2.6" stroke-dasharray="6.7,9" stroke-linejoin="round" stroke-linecap="butt" clip-path="url(#c6)"/>
<polyline points="209.60,310.60 210.60,299.00 212.00,292.00 214.00,285.00 217.00,276.00 220.00,268.00 223.00,262.00 227.00,257.00 231.00,252.00 235.00,248.00 239.00,245.00 243.00,241.00 247.00,237.00 251.00,233.00 255.00,230.00 259.00,226.00 263.00,221.00 267.00,219.00 271.00,217.00 275.00,215.00 279.00,213.00 283.00,212.00 287.00,209.00 291.00,207.00 297.00,204.00 303.00,202.00 309.00,200.00 315.00,198.00 323.00,195.00 331.00,193.40" fill="none" stroke="#B82D28" stroke-width="2.0" stroke-linejoin="round" stroke-linecap="butt" clip-path="url(#c6)"/>
<polyline points="209.60,310.60 210.60,297.00 212.00,291.00 214.00,286.00 217.00,279.00 220.00,273.00 223.00,267.00 227.00,260.00 231.00,254.00 235.00,249.00 239.00,246.00 243.00,242.00 247.00,238.00 251.00,235.00 255.00,232.00 259.00,228.00 263.00,224.00 267.00,221.00 271.00,218.00 275.00,216.00 279.00,215.00 283.00,214.00 287.00,213.00 291.00,211.00 295.00,209.00 299.00,207.00 303.00,205.00 309.00,202.00 315.00,199.00 323.00,196.00 331.00,193.40" fill="none" stroke="#E57E25" stroke-width="2.0" stroke-linejoin="round" stroke-linecap="butt" clip-path="url(#c6)"/>
<polyline points="209.60,310.60 211.00,301.00 213.00,293.00 216.00,285.00 219.00,279.00 222.00,274.00 225.00,269.00 229.00,264.00 233.00,256.00 237.00,252.00 241.00,248.00 245.00,245.00 249.00,242.00 253.00,238.00 257.00,234.00 261.00,230.00 265.00,227.00 269.00,224.00 273.00,220.00 277.00,217.00 281.00,214.00 285.00,211.00 289.00,208.00 293.00,206.00 297.00,204.00 303.00,200.00 309.00,198.00 315.00,197.00 323.00,194.00 331.00,193.40" fill="none" stroke="#2B6CB5" stroke-width="2.0" stroke-linejoin="round" stroke-linecap="butt" clip-path="url(#c6)"/>
<polyline points="209.60,310.60 211.00,305.00 213.00,299.00 216.00,294.00 219.00,288.00 223.00,281.00 227.00,276.00 231.00,271.00 235.00,267.00 239.00,264.00 243.00,262.00 247.00,259.00 251.00,256.00 255.00,254.00 259.00,252.00 263.00,249.00 267.00,247.00 271.00,244.00 275.00,239.00 279.00,235.00 283.00,229.00 287.00,226.00 291.00,224.00 295.00,221.00 299.00,217.00 303.00,214.00 307.00,209.00 311.00,205.00 315.00,201.00 321.00,197.00 326.00,195.00 331.00,193.40" fill="none" stroke="#0C9847" stroke-width="2.0" stroke-linejoin="round" stroke-linecap="butt" clip-path="url(#c6)"/>
<rect x="205.3" y="189.2" width="130.5" height="126" fill="none" stroke="#222222" stroke-width="1.2"/>
<line x1="210.13" y1="315.2" x2="210.13" y2="318.8" stroke="#222222" stroke-width="1.1" stroke-linecap="butt"/>
<text x="211.63" y="329.9" font-size="10.0" font-weight="bold" text-anchor="middle" fill="#1a1a1a" stroke="#1a1a1a" stroke-width="0.22" textLength="12.65" lengthAdjust="spacingAndGlyphs">0.0</text>
<line x1="205.3" y1="310.53" x2="201.3" y2="310.53" stroke="#222222" stroke-width="1.1" stroke-linecap="butt"/>
<text x="195.4" y="309.03" font-size="9.3" font-weight="bold" text-anchor="middle" fill="#1a1a1a" stroke="#1a1a1a" stroke-width="0.22" transform="rotate(-90 195.4 309.03)" textLength="12.79" lengthAdjust="spacingAndGlyphs">0.0</text>
<line x1="234.3" y1="315.2" x2="234.3" y2="318.8" stroke="#222222" stroke-width="1.1" stroke-linecap="butt"/>
<text x="235.8" y="329.9" font-size="10.0" font-weight="bold" text-anchor="middle" fill="#1a1a1a" stroke="#1a1a1a" stroke-width="0.22" textLength="12.65" lengthAdjust="spacingAndGlyphs">0.2</text>
<line x1="205.3" y1="287.2" x2="201.3" y2="287.2" stroke="#222222" stroke-width="1.1" stroke-linecap="butt"/>
<text x="195.4" y="285.7" font-size="9.3" font-weight="bold" text-anchor="middle" fill="#1a1a1a" stroke="#1a1a1a" stroke-width="0.22" transform="rotate(-90 195.4 285.7)" textLength="12.79" lengthAdjust="spacingAndGlyphs">0.2</text>
<line x1="258.47" y1="315.2" x2="258.47" y2="318.8" stroke="#222222" stroke-width="1.1" stroke-linecap="butt"/>
<text x="259.97" y="329.9" font-size="10.0" font-weight="bold" text-anchor="middle" fill="#1a1a1a" stroke="#1a1a1a" stroke-width="0.22" textLength="12.65" lengthAdjust="spacingAndGlyphs">0.4</text>
<line x1="205.3" y1="263.87" x2="201.3" y2="263.87" stroke="#222222" stroke-width="1.1" stroke-linecap="butt"/>
<text x="195.4" y="262.37" font-size="9.3" font-weight="bold" text-anchor="middle" fill="#1a1a1a" stroke="#1a1a1a" stroke-width="0.22" transform="rotate(-90 195.4 262.37)" textLength="12.79" lengthAdjust="spacingAndGlyphs">0.4</text>
<line x1="282.63" y1="315.2" x2="282.63" y2="318.8" stroke="#222222" stroke-width="1.1" stroke-linecap="butt"/>
<text x="284.13" y="329.9" font-size="10.0" font-weight="bold" text-anchor="middle" fill="#1a1a1a" stroke="#1a1a1a" stroke-width="0.22" textLength="12.65" lengthAdjust="spacingAndGlyphs">0.6</text>
<line x1="205.3" y1="240.53" x2="201.3" y2="240.53" stroke="#222222" stroke-width="1.1" stroke-linecap="butt"/>
<text x="195.4" y="239.03" font-size="9.3" font-weight="bold" text-anchor="middle" fill="#1a1a1a" stroke="#1a1a1a" stroke-width="0.22" transform="rotate(-90 195.4 239.03)" textLength="12.79" lengthAdjust="spacingAndGlyphs">0.6</text>
<line x1="306.8" y1="315.2" x2="306.8" y2="318.8" stroke="#222222" stroke-width="1.1" stroke-linecap="butt"/>
<text x="308.3" y="329.9" font-size="10.0" font-weight="bold" text-anchor="middle" fill="#1a1a1a" stroke="#1a1a1a" stroke-width="0.22" textLength="12.65" lengthAdjust="spacingAndGlyphs">0.8</text>
<line x1="205.3" y1="217.2" x2="201.3" y2="217.2" stroke="#222222" stroke-width="1.1" stroke-linecap="butt"/>
<text x="195.4" y="215.7" font-size="9.3" font-weight="bold" text-anchor="middle" fill="#1a1a1a" stroke="#1a1a1a" stroke-width="0.22" transform="rotate(-90 195.4 215.7)" textLength="12.79" lengthAdjust="spacingAndGlyphs">0.8</text>
<line x1="330.97" y1="315.2" x2="330.97" y2="318.8" stroke="#222222" stroke-width="1.1" stroke-linecap="butt"/>
<text x="332.47" y="329.9" font-size="10.0" font-weight="bold" text-anchor="middle" fill="#1a1a1a" stroke="#1a1a1a" stroke-width="0.22" textLength="12.65" lengthAdjust="spacingAndGlyphs">1.0</text>
<line x1="205.3" y1="193.87" x2="201.3" y2="193.87" stroke="#222222" stroke-width="1.1" stroke-linecap="butt"/>
<text x="195.4" y="192.37" font-size="9.3" font-weight="bold" text-anchor="middle" fill="#1a1a1a" stroke="#1a1a1a" stroke-width="0.22" transform="rotate(-90 195.4 192.37)" textLength="12.79" lengthAdjust="spacingAndGlyphs">1.0</text>
<text x="252.8" y="346.2" font-size="9.7" font-weight="bold" text-anchor="start" fill="#1a1a1a" stroke="#1a1a1a" stroke-width="0.22" textLength="67.79" lengthAdjust="spacingAndGlyphs">5y 1−Specificity</text>
<text x="179.7" y="265.9" font-size="9.0" font-weight="bold" text-anchor="start" fill="#1a1a1a" stroke="#1a1a1a" stroke-width="0.22" transform="rotate(-90 179.7 265.9)" textLength="45.02" lengthAdjust="spacingAndGlyphs">Sensitivity</text>
<rect x="296.9" y="242.8" width="5" height="4.9" fill="#B82D28"/>
<text x="306.9" y="245.8" font-size="10.0" text-anchor="start" fill="#3a3a3a" textLength="17.32" lengthAdjust="spacingAndGlyphs">0.72</text>
<rect x="296.9" y="257.8" width="5" height="4.9" fill="#E57E25"/>
<text x="306.9" y="261" font-size="10.0" text-anchor="start" fill="#3a3a3a" textLength="17.32" lengthAdjust="spacingAndGlyphs">0.70</text>
<rect x="296.9" y="272.5" width="5" height="4.9" fill="#2B6CB5"/>
<text x="306.9" y="277.6" font-size="10.0" text-anchor="start" fill="#3a3a3a" textLength="17.32" lengthAdjust="spacingAndGlyphs">0.70</text>
<rect x="296.9" y="287.1" width="5" height="4.9" fill="#0C9847"/>
<text x="306.9" y="292.9" font-size="10.0" text-anchor="start" fill="#3a3a3a" textLength="17.32" lengthAdjust="spacingAndGlyphs">0.59</text>
<rect x="296.9" y="301.7" width="5" height="4.9" fill="#000000"/>
<text x="306.9" y="308.4" font-size="10.0" text-anchor="start" fill="#3a3a3a" textLength="17.32" lengthAdjust="spacingAndGlyphs">0.70</text>
<clipPath id="c7"><rect x="376.9" y="189" width="130.7" height="126.2"/></clipPath>
<line x1="376.9" y1="315.2" x2="507.6" y2="189" stroke="#000" stroke-width="1.3" stroke-dasharray="3.4,4.1" stroke-linecap="butt"/>
<polyline points="381.60,310.60 384.00,301.00 387.00,291.00 391.00,281.00 395.00,273.00 399.00,267.00 403.00,260.00 407.00,254.00 411.00,249.00 415.00,243.00 419.00,238.00 423.00,233.00 427.00,229.00 431.00,226.00 435.00,223.00 439.00,219.00 443.00,217.00 447.00,214.00 451.00,211.00 455.00,209.00 461.00,206.00 467.00,203.00 473.00,201.00 479.00,198.60 485.00,196.00 491.00,194.60 497.00,194.00 503.00,193.40" fill="none" stroke="#000000" stroke-width="2.6" stroke-dasharray="6.7,9" stroke-linejoin="round" stroke-linecap="butt" clip-path="url(#c7)"/>
<polyline points="381.60,310.60 383.00,301.00 385.00,291.00 388.00,281.00 391.00,273.00 394.00,267.00 397.00,262.00 401.00,257.00 405.00,253.00 409.00,249.00 413.00,245.00 417.00,241.00 421.00,238.00 425.00,235.00 429.00,232.00 433.00,229.00 437.00,226.00 441.00,223.00 445.00,219.00 449.00,216.00 453.00,213.00 457.00,211.00 461.00,209.00 465.00,207.00 471.00,204.00 477.00,201.00 483.00,199.00 489.00,197.00 495.00,195.00 503.00,193.40" fill="none" stroke="#B82D28" stroke-width="2.0" stroke-linejoin="round" stroke-linecap="butt" clip-path="url(#c7)"/>
<polyline points="381.60,310.60 383.00,303.00 385.00,297.00 388.00,290.00 391.00,284.00 394.00,279.00 397.00,273.00 401.00,267.00 405.00,261.00 409.00,257.00 413.00,253.00 417.00,249.00 421.00,245.00 425.00,242.00 429.00,240.00 433.00,237.00 437.00,233.00 441.00,229.00 445.00,225.00 449.00,222.00 453.00,220.00 457.00,217.00 461.00,215.00 465.00,212.00 469.00,210.00 473.00,207.00 477.00,204.00 483.00,201.00 489.00,199.00 495.00,196.60 503.00,193.40" fill="none" stroke="#E57E25" stroke-width="2.0" stroke-linejoin="round" stroke-linecap="butt" clip-path="url(#c7)"/>
<polyline points="381.60,310.60 383.00,304.00 385.00,299.00 388.00,293.00 391.00,287.00 394.00,281.00 397.00,275.00 401.00,269.00 405.00,263.00 409.00,258.00 413.00,253.00 417.00,249.00 421.00,245.00 425.00,242.00 429.00,238.00 433.00,235.00 437.00,232.00 441.00,229.00 445.00,225.00 449.00,222.00 453.00,219.00 457.00,216.00 461.00,213.00 465.00,210.00 469.00,208.00 473.00,205.00 477.00,203.00 483.00,200.00 489.00,198.00 495.00,196.00 503.00,193.40" fill="none" stroke="#2B6CB5" stroke-width="2.0" stroke-linejoin="round" stroke-linecap="butt" clip-path="url(#c7)"/>
<polyline points="381.60,310.60 384.00,305.00 387.00,300.00 391.00,294.00 395.00,287.00 399.00,282.00 403.00,278.00 407.00,274.00 411.00,270.00 415.00,265.00 419.00,261.00 423.00,258.00 427.00,254.00 431.00,251.00 435.00,248.00 439.00,245.00 443.00,241.00 447.00,237.00 451.00,234.00 455.00,231.00 459.00,228.00 463.00,226.00 467.00,223.00 471.00,219.00 475.00,215.00 479.00,211.00 483.00,207.00 487.00,204.00 493.00,200.00 498.00,196.00 503.00,193.40" fill="none" stroke="#0C9847" stroke-width="2.0" stroke-linejoin="round" stroke-linecap="butt" clip-path="url(#c7)"/>
<rect x="376.9" y="189" width="130.7" height="126.2" fill="none" stroke="#222222" stroke-width="1.2"/>
<line x1="381.74" y1="315.2" x2="381.74" y2="318.8" stroke="#222222" stroke-width="1.1" stroke-linecap="butt"/>
<text x="383.24" y="329.9" font-size="10.0" font-weight="bold" text-anchor="middle" fill="#1a1a1a" stroke="#1a1a1a" stroke-width="0.22" textLength="12.65" lengthAdjust="spacingAndGlyphs">0.0</text>
<line x1="376.9" y1="310.53" x2="372.9" y2="310.53" stroke="#222222" stroke-width="1.1" stroke-linecap="butt"/>
<text x="367" y="309.03" font-size="9.3" font-weight="bold" text-anchor="middle" fill="#1a1a1a" stroke="#1a1a1a" stroke-width="0.22" transform="rotate(-90 367 309.03)" textLength="12.79" lengthAdjust="spacingAndGlyphs">0.0</text>
<line x1="405.94" y1="315.2" x2="405.94" y2="318.8" stroke="#222222" stroke-width="1.1" stroke-linecap="butt"/>
<text x="407.44" y="329.9" font-size="10.0" font-weight="bold" text-anchor="middle" fill="#1a1a1a" stroke="#1a1a1a" stroke-width="0.22" textLength="12.65" lengthAdjust="spacingAndGlyphs">0.2</text>
<line x1="376.9" y1="287.16" x2="372.9" y2="287.16" stroke="#222222" stroke-width="1.1" stroke-linecap="butt"/>
<text x="367" y="285.66" font-size="9.3" font-weight="bold" text-anchor="middle" fill="#1a1a1a" stroke="#1a1a1a" stroke-width="0.22" transform="rotate(-90 367 285.66)" textLength="12.79" lengthAdjust="spacingAndGlyphs">0.2</text>
<line x1="430.15" y1="315.2" x2="430.15" y2="318.8" stroke="#222222" stroke-width="1.1" stroke-linecap="butt"/>
<text x="431.65" y="329.9" font-size="10.0" font-weight="bold" text-anchor="middle" fill="#1a1a1a" stroke="#1a1a1a" stroke-width="0.22" textLength="12.65" lengthAdjust="spacingAndGlyphs">0.4</text>
<line x1="376.9" y1="263.79" x2="372.9" y2="263.79" stroke="#222222" stroke-width="1.1" stroke-linecap="butt"/>
<text x="367" y="262.29" font-size="9.3" font-weight="bold" text-anchor="middle" fill="#1a1a1a" stroke="#1a1a1a" stroke-width="0.22" transform="rotate(-90 367 262.29)" textLength="12.79" lengthAdjust="spacingAndGlyphs">0.4</text>
<line x1="454.35" y1="315.2" x2="454.35" y2="318.8" stroke="#222222" stroke-width="1.1" stroke-linecap="butt"/>
<text x="455.85" y="329.9" font-size="10.0" font-weight="bold" text-anchor="middle" fill="#1a1a1a" stroke="#1a1a1a" stroke-width="0.22" textLength="12.65" lengthAdjust="spacingAndGlyphs">0.6</text>
<line x1="376.9" y1="240.41" x2="372.9" y2="240.41" stroke="#222222" stroke-width="1.1" stroke-linecap="butt"/>
<text x="367" y="238.91" font-size="9.3" font-weight="bold" text-anchor="middle" fill="#1a1a1a" stroke="#1a1a1a" stroke-width="0.22" transform="rotate(-90 367 238.91)" textLength="12.79" lengthAdjust="spacingAndGlyphs">0.6</text>
<line x1="478.56" y1="315.2" x2="478.56" y2="318.8" stroke="#222222" stroke-width="1.1" stroke-linecap="butt"/>
<text x="480.06" y="329.9" font-size="10.0" font-weight="bold" text-anchor="middle" fill="#1a1a1a" stroke="#1a1a1a" stroke-width="0.22" textLength="12.65" lengthAdjust="spacingAndGlyphs">0.8</text>
<line x1="376.9" y1="217.04" x2="372.9" y2="217.04" stroke="#222222" stroke-width="1.1" stroke-linecap="butt"/>
<text x="367" y="215.54" font-size="9.3" font-weight="bold" text-anchor="middle" fill="#1a1a1a" stroke="#1a1a1a" stroke-width="0.22" transform="rotate(-90 367 215.54)" textLength="12.79" lengthAdjust="spacingAndGlyphs">0.8</text>
<line x1="502.76" y1="315.2" x2="502.76" y2="318.8" stroke="#222222" stroke-width="1.1" stroke-linecap="butt"/>
<text x="504.26" y="329.9" font-size="10.0" font-weight="bold" text-anchor="middle" fill="#1a1a1a" stroke="#1a1a1a" stroke-width="0.22" textLength="12.65" lengthAdjust="spacingAndGlyphs">1.0</text>
<line x1="376.9" y1="193.67" x2="372.9" y2="193.67" stroke="#222222" stroke-width="1.1" stroke-linecap="butt"/>
<text x="367" y="192.17" font-size="9.3" font-weight="bold" text-anchor="middle" fill="#1a1a1a" stroke="#1a1a1a" stroke-width="0.22" transform="rotate(-90 367 192.17)" textLength="12.79" lengthAdjust="spacingAndGlyphs">1.0</text>
<text x="424.4" y="346.2" font-size="9.7" font-weight="bold" text-anchor="start" fill="#1a1a1a" stroke="#1a1a1a" stroke-width="0.22" textLength="72.80" lengthAdjust="spacingAndGlyphs">10y 1−Specificity</text>
<text x="351.3" y="265.9" font-size="9.0" font-weight="bold" text-anchor="start" fill="#1a1a1a" stroke="#1a1a1a" stroke-width="0.22" transform="rotate(-90 351.3 265.9)" textLength="45.02" lengthAdjust="spacingAndGlyphs">Sensitivity</text>
<rect x="473" y="242.6" width="5" height="4.9" fill="#B82D28"/>
<text x="483" y="245.6" font-size="10.0" text-anchor="start" fill="#3a3a3a" textLength="17.32" lengthAdjust="spacingAndGlyphs">0.71</text>
<rect x="473" y="257.6" width="5" height="4.9" fill="#E57E25"/>
<text x="483" y="260.8" font-size="10.0" text-anchor="start" fill="#3a3a3a" textLength="17.32" lengthAdjust="spacingAndGlyphs">0.66</text>
<rect x="473" y="272.3" width="5" height="4.9" fill="#2B6CB5"/>
<text x="483" y="277.4" font-size="10.0" text-anchor="start" fill="#3a3a3a" textLength="17.32" lengthAdjust="spacingAndGlyphs">0.66</text>
<rect x="473" y="286.9" width="5" height="4.9" fill="#0C9847"/>
<text x="483" y="292.7" font-size="10.0" text-anchor="start" fill="#3a3a3a" textLength="17.32" lengthAdjust="spacingAndGlyphs">0.57</text>
<rect x="473" y="301.5" width="5" height="4.9" fill="#000000"/>
<text x="483" y="308.2" font-size="10.0" text-anchor="start" fill="#3a3a3a" textLength="17.32" lengthAdjust="spacingAndGlyphs">0.71</text>
<clipPath id="c8"><rect x="549.6" y="189" width="131.4" height="126.8"/></clipPath>
<line x1="549.6" y1="315.8" x2="681" y2="189" stroke="#000" stroke-width="1.3" stroke-dasharray="3.4,4.1" stroke-linecap="butt"/>
<polyline points="554.40,311.40 556.00,301.00 558.00,293.00 561.00,285.00 564.00,278.00 567.00,271.00 571.00,264.00 575.00,256.00 579.00,249.00 583.00,243.00 587.00,238.00 591.00,233.00 595.00,227.00 599.00,223.00 603.00,220.00 607.00,217.00 611.00,215.00 615.00,212.00 619.00,210.00 623.00,208.00 627.00,206.00 631.00,205.00 635.00,204.00 639.00,202.00 643.00,201.00 647.00,199.00 651.00,197.00 659.00,196.00 667.00,194.00 677.00,193.00" fill="none" stroke="#000000" stroke-width="2.6" stroke-dasharray="6.7,9" stroke-linejoin="round" stroke-linecap="butt" clip-path="url(#c8)"/>
<polyline points="554.40,311.40 555.40,303.00 557.00,295.00 559.00,287.00 562.00,280.00 565.00,273.00 568.00,268.00 571.00,263.00 575.00,257.00 579.00,251.00 583.00,246.00 587.00,242.00 591.00,238.00 595.00,234.00 599.00,230.00 603.00,227.00 607.00,224.00 611.00,221.00 615.00,218.00 619.00,216.00 623.00,214.00 627.00,212.00 631.00,210.00 635.00,208.00 639.00,206.00 643.00,204.60 647.00,203.00 651.00,201.00 657.00,199.00 663.00,197.00 669.00,194.60 677.00,193.00" fill="none" stroke="#B82D28" stroke-width="2.0" stroke-linejoin="round" stroke-linecap="butt" clip-path="url(#c8)"/>
<polyline points="554.40,311.40 555.40,305.00 557.00,299.00 560.00,291.00 563.00,285.00 566.00,280.00 569.00,275.00 573.00,269.00 577.00,265.00 581.00,261.00 585.00,257.00 589.00,254.00 593.00,250.00 597.00,246.00 601.00,242.00 605.00,239.00 609.00,236.00 613.00,232.00 617.00,228.00 621.00,225.00 625.00,222.00 629.00,219.00 633.00,217.00 637.00,214.00 641.00,211.00 645.00,208.00 649.00,205.00 653.00,202.00 659.00,199.00 667.00,196.00 677.00,193.00" fill="none" stroke="#E57E25" stroke-width="2.0" stroke-linejoin="round" stroke-linecap="butt" clip-path="url(#c8)"/>
<polyline points="554.40,311.40 555.40,306.00 557.00,300.00 560.00,292.00 563.00,285.00 566.00,279.00 569.00,275.00 573.00,270.00 577.00,265.00 581.00,261.00 585.00,256.00 589.00,252.00 593.00,248.00 597.00,244.00 601.00,240.00 605.00,238.00 609.00,235.00 613.00,231.00 617.00,228.00 621.00,225.00 625.00,223.00 629.00,220.00 633.00,217.00 637.00,215.00 641.00,212.00 645.00,209.00 649.00,206.00 653.00,203.00 659.00,200.00 667.00,196.60 677.00,193.00" fill="none" stroke="#2B6CB5" stroke-width="2.0" stroke-linejoin="round" stroke-linecap="butt" clip-path="url(#c8)"/>
<polyline points="554.40,311.40 557.00,307.00 560.00,302.00 563.00,297.00 566.00,292.00 569.00,287.00 573.00,283.00 577.00,279.00 581.00,275.00 585.00,271.00 589.00,267.00 593.00,262.00 597.00,258.00 601.00,255.00 605.00,252.00 609.00,248.00 613.00,244.00 617.00,240.00 621.00,237.00 625.00,233.00 629.00,228.00 633.00,226.00 637.00,224.00 641.00,220.00 645.00,216.00 649.00,213.00 653.00,209.00 657.00,206.00 661.00,203.00 667.00,198.00 672.00,195.00 677.00,193.00" fill="none" stroke="#0C9847" stroke-width="2.0" stroke-linejoin="round" stroke-linecap="butt" clip-path="url(#c8)"/>
<rect x="549.6" y="189" width="131.4" height="126.8" fill="none" stroke="#222222" stroke-width="1.2"/>
<line x1="554.47" y1="315.8" x2="554.47" y2="319.4" stroke="#222222" stroke-width="1.1" stroke-linecap="butt"/>
<text x="555.97" y="330.5" font-size="10.0" font-weight="bold" text-anchor="middle" fill="#1a1a1a" stroke="#1a1a1a" stroke-width="0.22" textLength="12.65" lengthAdjust="spacingAndGlyphs">0.0</text>
<line x1="549.6" y1="311.1" x2="545.6" y2="311.1" stroke="#222222" stroke-width="1.1" stroke-linecap="butt"/>
<text x="539.7" y="309.6" font-size="9.3" font-weight="bold" text-anchor="middle" fill="#1a1a1a" stroke="#1a1a1a" stroke-width="0.22" transform="rotate(-90 539.7 309.6)" textLength="12.79" lengthAdjust="spacingAndGlyphs">0.0</text>
<line x1="578.8" y1="315.8" x2="578.8" y2="319.4" stroke="#222222" stroke-width="1.1" stroke-linecap="butt"/>
<text x="580.3" y="330.5" font-size="10.0" font-weight="bold" text-anchor="middle" fill="#1a1a1a" stroke="#1a1a1a" stroke-width="0.22" textLength="12.65" lengthAdjust="spacingAndGlyphs">0.2</text>
<line x1="549.6" y1="287.62" x2="545.6" y2="287.62" stroke="#222222" stroke-width="1.1" stroke-linecap="butt"/>
<text x="539.7" y="286.12" font-size="9.3" font-weight="bold" text-anchor="middle" fill="#1a1a1a" stroke="#1a1a1a" stroke-width="0.22" transform="rotate(-90 539.7 286.12)" textLength="12.79" lengthAdjust="spacingAndGlyphs">0.2</text>
<line x1="603.13" y1="315.8" x2="603.13" y2="319.4" stroke="#222222" stroke-width="1.1" stroke-linecap="butt"/>
<text x="604.63" y="330.5" font-size="10.0" font-weight="bold" text-anchor="middle" fill="#1a1a1a" stroke="#1a1a1a" stroke-width="0.22" textLength="12.65" lengthAdjust="spacingAndGlyphs">0.4</text>
<line x1="549.6" y1="264.14" x2="545.6" y2="264.14" stroke="#222222" stroke-width="1.1" stroke-linecap="butt"/>
<text x="539.7" y="262.64" font-size="9.3" font-weight="bold" text-anchor="middle" fill="#1a1a1a" stroke="#1a1a1a" stroke-width="0.22" transform="rotate(-90 539.7 262.64)" textLength="12.79" lengthAdjust="spacingAndGlyphs">0.4</text>
<line x1="627.47" y1="315.8" x2="627.47" y2="319.4" stroke="#222222" stroke-width="1.1" stroke-linecap="butt"/>
<text x="628.97" y="330.5" font-size="10.0" font-weight="bold" text-anchor="middle" fill="#1a1a1a" stroke="#1a1a1a" stroke-width="0.22" textLength="12.65" lengthAdjust="spacingAndGlyphs">0.6</text>
<line x1="549.6" y1="240.66" x2="545.6" y2="240.66" stroke="#222222" stroke-width="1.1" stroke-linecap="butt"/>
<text x="539.7" y="239.16" font-size="9.3" font-weight="bold" text-anchor="middle" fill="#1a1a1a" stroke="#1a1a1a" stroke-width="0.22" transform="rotate(-90 539.7 239.16)" textLength="12.79" lengthAdjust="spacingAndGlyphs">0.6</text>
<line x1="651.8" y1="315.8" x2="651.8" y2="319.4" stroke="#222222" stroke-width="1.1" stroke-linecap="butt"/>
<text x="653.3" y="330.5" font-size="10.0" font-weight="bold" text-anchor="middle" fill="#1a1a1a" stroke="#1a1a1a" stroke-width="0.22" textLength="12.65" lengthAdjust="spacingAndGlyphs">0.8</text>
<line x1="549.6" y1="217.18" x2="545.6" y2="217.18" stroke="#222222" stroke-width="1.1" stroke-linecap="butt"/>
<text x="539.7" y="215.68" font-size="9.3" font-weight="bold" text-anchor="middle" fill="#1a1a1a" stroke="#1a1a1a" stroke-width="0.22" transform="rotate(-90 539.7 215.68)" textLength="12.79" lengthAdjust="spacingAndGlyphs">0.8</text>
<line x1="676.13" y1="315.8" x2="676.13" y2="319.4" stroke="#222222" stroke-width="1.1" stroke-linecap="butt"/>
<text x="677.63" y="330.5" font-size="10.0" font-weight="bold" text-anchor="middle" fill="#1a1a1a" stroke="#1a1a1a" stroke-width="0.22" textLength="12.65" lengthAdjust="spacingAndGlyphs">1.0</text>
<line x1="549.6" y1="193.7" x2="545.6" y2="193.7" stroke="#222222" stroke-width="1.1" stroke-linecap="butt"/>
<text x="539.7" y="192.2" font-size="9.3" font-weight="bold" text-anchor="middle" fill="#1a1a1a" stroke="#1a1a1a" stroke-width="0.22" transform="rotate(-90 539.7 192.2)" textLength="12.79" lengthAdjust="spacingAndGlyphs">1.0</text>
<text x="597.1" y="346.8" font-size="9.7" font-weight="bold" text-anchor="start" fill="#1a1a1a" stroke="#1a1a1a" stroke-width="0.22" textLength="72.80" lengthAdjust="spacingAndGlyphs">15y 1−Specificity</text>
<text x="524" y="266.5" font-size="9.0" font-weight="bold" text-anchor="start" fill="#1a1a1a" stroke="#1a1a1a" stroke-width="0.22" transform="rotate(-90 524 266.5)" textLength="45.02" lengthAdjust="spacingAndGlyphs">Sensitivity</text>
<rect x="647.4" y="242.6" width="5" height="4.9" fill="#B82D28"/>
<text x="657.4" y="245.6" font-size="10.0" text-anchor="start" fill="#3a3a3a" textLength="17.32" lengthAdjust="spacingAndGlyphs">0.71</text>
<rect x="647.4" y="257.6" width="5" height="4.9" fill="#E57E25"/>
<text x="657.4" y="260.8" font-size="10.0" text-anchor="start" fill="#3a3a3a" textLength="17.32" lengthAdjust="spacingAndGlyphs">0.65</text>
<rect x="647.4" y="272.3" width="5" height="4.9" fill="#2B6CB5"/>
<text x="657.4" y="277.4" font-size="10.0" text-anchor="start" fill="#3a3a3a" textLength="17.32" lengthAdjust="spacingAndGlyphs">0.65</text>
<rect x="647.4" y="286.9" width="5" height="4.9" fill="#0C9847"/>
<text x="657.4" y="292.7" font-size="10.0" text-anchor="start" fill="#3a3a3a" textLength="17.32" lengthAdjust="spacingAndGlyphs">0.58</text>
<rect x="647.4" y="301.5" width="5" height="4.9" fill="#000000"/>
<text x="657.4" y="308.2" font-size="10.0" text-anchor="start" fill="#3a3a3a" textLength="17.32" lengthAdjust="spacingAndGlyphs">0.74</text>
<rect x="186.2" y="362.7" width="10.6" height="10.2" fill="#B82D28"/>
<text x="206.9" y="373.2" font-size="10.3" font-weight="bold" text-anchor="start" fill="#222" textLength="15.84" lengthAdjust="spacingAndGlyphs">Met</text>
<rect x="249.6" y="362.7" width="10.6" height="10.2" fill="#E57E25"/>
<text x="270.3" y="373.2" font-size="10.3" font-weight="bold" text-anchor="start" fill="#222" textLength="60.32" lengthAdjust="spacingAndGlyphs">MetaboHealth</text>
<rect x="354.2" y="362.7" width="10.6" height="10.2" fill="#2B6CB5"/>
<text x="374.9" y="373.2" font-size="10.3" font-weight="bold" text-anchor="start" fill="#222" textLength="8.18" lengthAdjust="spacingAndGlyphs">FI</text>
<rect x="417.3" y="362.7" width="10.6" height="10.2" fill="#0C9847"/>
<text x="438" y="373.2" font-size="10.3" font-weight="bold" text-anchor="start" fill="#222" textLength="16.18" lengthAdjust="spacingAndGlyphs">LTL</text>
<rect x="480.2" y="362.6" width="10.7" height="10.3" fill="#000000"/>
<text x="502.7" y="370.6" font-size="10.3" font-weight="bold" text-anchor="start" fill="#222" textLength="17.38" lengthAdjust="spacingAndGlyphs">Age</text>
<clipPath id="c9"><rect x="33.8" y="396.9" width="131.2" height="126.3"/></clipPath>
<line x1="33.8" y1="507.89" x2="165" y2="507.89" stroke="#5a5a5a" stroke-width="1.3" stroke-dasharray="3.6,3.6" stroke-linecap="butt"/>
<polyline points="38.66,480.65 47.34,462.35 56.01,453.63 64.69,468.36 73.37,468.68 116.75,480.02 160.14,479.12" fill="none" stroke="#6DBE45" stroke-width="2.0" stroke-dasharray="5,5" stroke-linejoin="round" stroke-linecap="butt" clip-path="url(#c9)"/>
<polyline points="38.66,495.18 47.34,488.14 56.01,495.92 64.69,504.68 73.37,503.34 116.75,495.56 160.14,489.75" fill="none" stroke="#2E4FA3" stroke-width="2.0" stroke-dasharray="5,5" stroke-linejoin="round" stroke-linecap="butt" clip-path="url(#c9)"/>
<polyline points="38.66,481.06 47.34,484.67 56.01,491.50 64.69,490.12 73.37,489.88 116.75,491.88 160.14,488.80" fill="none" stroke="#EC1C24" stroke-width="2.0" stroke-dasharray="5,5" stroke-linejoin="round" stroke-linecap="butt" clip-path="url(#c9)"/>
<polyline points="38.66,488.20 47.34,477.08 56.01,464.64 64.69,473.34 73.37,483.76 116.75,484.14 160.14,479.08" fill="none" stroke="#6DBE45" stroke-width="1.8" stroke-linejoin="round" stroke-linecap="butt" clip-path="url(#c9)"/>
<polyline points="38.66,429.64 47.34,452.40 56.01,452.67 64.69,458.46 73.37,459.11 116.75,463.77 160.14,467.39" fill="none" stroke="#2E4FA3" stroke-width="1.8" stroke-linejoin="round" stroke-linecap="butt" clip-path="url(#c9)"/>
<polyline points="38.66,453.50 47.34,455.27 56.01,466.54 64.69,466.56 73.37,474.79 116.75,476.17 160.14,477.08" fill="none" stroke="#EC1C24" stroke-width="1.8" stroke-linejoin="round" stroke-linecap="butt" clip-path="url(#c9)"/>
<rect x="33.8" y="396.9" width="131.2" height="126.3" fill="none" stroke="#222222" stroke-width="1.2"/>
<line x1="47.34" y1="523.2" x2="47.34" y2="526.6" stroke="#222222" stroke-width="1.1" stroke-linecap="butt"/>
<text x="48.34" y="538.2" font-size="10.0" font-weight="bold" text-anchor="middle" fill="#1a1a1a" stroke="#1a1a1a" stroke-width="0.22" textLength="5.06" lengthAdjust="spacingAndGlyphs">2</text>
<line x1="64.69" y1="523.2" x2="64.69" y2="526.6" stroke="#222222" stroke-width="1.1" stroke-linecap="butt"/>
<text x="65.69" y="538.2" font-size="10.0" font-weight="bold" text-anchor="middle" fill="#1a1a1a" stroke="#1a1a1a" stroke-width="0.22" textLength="5.06" lengthAdjust="spacingAndGlyphs">4</text>
<line x1="82.05" y1="523.2" x2="82.05" y2="526.6" stroke="#222222" stroke-width="1.1" stroke-linecap="butt"/>
<text x="83.05" y="538.2" font-size="10.0" font-weight="bold" text-anchor="middle" fill="#1a1a1a" stroke="#1a1a1a" stroke-width="0.22" textLength="5.06" lengthAdjust="spacingAndGlyphs">6</text>
<line x1="99.4" y1="523.2" x2="99.4" y2="526.6" stroke="#222222" stroke-width="1.1" stroke-linecap="butt"/>
<text x="100.4" y="538.2" font-size="10.0" font-weight="bold" text-anchor="middle" fill="#1a1a1a" stroke="#1a1a1a" stroke-width="0.22" textLength="5.06" lengthAdjust="spacingAndGlyphs">8</text>
<line x1="116.75" y1="523.2" x2="116.75" y2="526.6" stroke="#222222" stroke-width="1.1" stroke-linecap="butt"/>
<text x="117.75" y="538.2" font-size="10.0" font-weight="bold" text-anchor="middle" fill="#1a1a1a" stroke="#1a1a1a" stroke-width="0.22" textLength="10.12" lengthAdjust="spacingAndGlyphs">10</text>
<line x1="134.11" y1="523.2" x2="134.11" y2="526.6" stroke="#222222" stroke-width="1.1" stroke-linecap="butt"/>
<text x="135.11" y="538.2" font-size="10.0" font-weight="bold" text-anchor="middle" fill="#1a1a1a" stroke="#1a1a1a" stroke-width="0.22" textLength="10.12" lengthAdjust="spacingAndGlyphs">12</text>
<line x1="151.46" y1="523.2" x2="151.46" y2="526.6" stroke="#222222" stroke-width="1.1" stroke-linecap="butt"/>
<text x="152.46" y="538.2" font-size="10.0" font-weight="bold" text-anchor="middle" fill="#1a1a1a" stroke="#1a1a1a" stroke-width="0.22" textLength="10.12" lengthAdjust="spacingAndGlyphs">14</text>
<line x1="33.8" y1="507.89" x2="30.2" y2="507.89" stroke="#222222" stroke-width="1.1" stroke-linecap="butt"/>
<text x="25.3" y="506.39" font-size="9.3" font-weight="bold" text-anchor="middle" fill="#1a1a1a" stroke="#1a1a1a" stroke-width="0.22" transform="rotate(-90 25.3 506.39)" textLength="12.79" lengthAdjust="spacingAndGlyphs">0.5</text>
<line x1="33.8" y1="486.63" x2="30.2" y2="486.63" stroke="#222222" stroke-width="1.1" stroke-linecap="butt"/>
<text x="25.3" y="485.13" font-size="9.3" font-weight="bold" text-anchor="middle" fill="#1a1a1a" stroke="#1a1a1a" stroke-width="0.22" transform="rotate(-90 25.3 485.13)" textLength="12.79" lengthAdjust="spacingAndGlyphs">0.6</text>
<line x1="33.8" y1="465.37" x2="30.2" y2="465.37" stroke="#222222" stroke-width="1.1" stroke-linecap="butt"/>
<text x="25.3" y="463.87" font-size="9.3" font-weight="bold" text-anchor="middle" fill="#1a1a1a" stroke="#1a1a1a" stroke-width="0.22" transform="rotate(-90 25.3 463.87)" textLength="12.79" lengthAdjust="spacingAndGlyphs">0.7</text>
<line x1="33.8" y1="444.1" x2="30.2" y2="444.1" stroke="#222222" stroke-width="1.1" stroke-linecap="butt"/>
<text x="25.3" y="442.6" font-size="9.3" font-weight="bold" text-anchor="middle" fill="#1a1a1a" stroke="#1a1a1a" stroke-width="0.22" transform="rotate(-90 25.3 442.6)" textLength="12.79" lengthAdjust="spacingAndGlyphs">0.8</text>
<line x1="33.8" y1="422.84" x2="30.2" y2="422.84" stroke="#222222" stroke-width="1.1" stroke-linecap="butt"/>
<text x="25.3" y="421.34" font-size="9.3" font-weight="bold" text-anchor="middle" fill="#1a1a1a" stroke="#1a1a1a" stroke-width="0.22" transform="rotate(-90 25.3 421.34)" textLength="12.79" lengthAdjust="spacingAndGlyphs">0.9</text>
<line x1="33.8" y1="401.58" x2="30.2" y2="401.58" stroke="#222222" stroke-width="1.1" stroke-linecap="butt"/>
<text x="25.3" y="400.08" font-size="9.3" font-weight="bold" text-anchor="middle" fill="#1a1a1a" stroke="#1a1a1a" stroke-width="0.22" transform="rotate(-90 25.3 400.08)" textLength="12.79" lengthAdjust="spacingAndGlyphs">1.0</text>
<text x="91.2" y="553.2" font-size="9.9" font-weight="bold" text-anchor="start" fill="#1a1a1a" stroke="#1a1a1a" stroke-width="0.22" textLength="34.34" lengthAdjust="spacingAndGlyphs">Time (y)</text>
<text x="8.8" y="455.3" font-size="9.0" font-weight="bold" text-anchor="middle" fill="#1a1a1a" stroke="#1a1a1a" stroke-width="0.22" transform="rotate(-90 8.8 455.3)" textLength="28.49" lengthAdjust="spacingAndGlyphs">AUC(t)</text>
<clipPath id="c10"><rect x="208.6" y="398" width="129.5" height="125.4"/></clipPath>
<line x1="208.6" y1="523.4" x2="338.1" y2="398" stroke="#000" stroke-width="1.3" stroke-dasharray="3.4,4.1" stroke-linecap="butt"/>
<polyline points="213.40,519.40 220.00,519.40 226.00,516.00 240.00,462.00 278.00,461.00 282.00,441.00 288.00,407.00 290.00,402.00 334.00,402.00" fill="none" stroke="#6DBB45" stroke-width="2.2" stroke-dasharray="6.3,10" stroke-linejoin="round" stroke-linecap="butt" clip-path="url(#c10)"/>
<polyline points="213.40,519.40 226.00,509.00 230.00,506.00 239.00,479.00 246.00,470.00 252.00,469.00 258.00,458.00 264.00,450.00 288.00,450.00 292.00,444.00 298.00,433.00 306.00,422.00 312.00,415.00 320.00,413.00 328.00,406.00 334.00,402.00" fill="none" stroke="#3A55A4" stroke-width="2.2" stroke-dasharray="6.3,10" stroke-linejoin="round" stroke-linecap="butt" clip-path="url(#c10)"/>
<polyline points="213.40,519.40 217.00,509.00 222.00,497.00 228.00,482.00 236.00,472.00 246.00,470.00 252.00,470.00 257.00,457.00 262.00,446.00 268.00,442.00 276.00,437.00 282.00,434.00 292.00,430.00 296.00,423.00 302.00,416.00 310.00,413.00 316.00,409.00 324.00,404.00 334.00,402.00" fill="none" stroke="#E82628" stroke-width="2.2" stroke-dasharray="6.3,10" stroke-linejoin="round" stroke-linecap="butt" clip-path="url(#c10)"/>
<polyline points="213.40,519.40 218.00,519.40 218.00,461.00 308.00,461.00 308.00,402.00 334.00,402.00" fill="none" stroke="#6DBB45" stroke-width="2.0" stroke-linejoin="round" stroke-linecap="butt" clip-path="url(#c10)"/>
<polyline points="213.40,519.40 214.00,497.00 214.40,484.00 215.60,484.00 216.00,473.00 217.00,461.00 227.00,461.00 227.00,449.00 236.00,449.00 236.00,425.00 249.00,425.00 249.00,414.00 272.00,414.00 272.00,402.00 334.00,402.00" fill="none" stroke="#3A55A4" stroke-width="2.0" stroke-linejoin="round" stroke-linecap="butt" clip-path="url(#c10)"/>
<polyline points="213.40,519.40 214.00,519.40 214.00,513.00 215.00,513.00 215.00,505.00 216.40,505.00 216.40,497.00 218.40,497.00 218.40,491.00 220.40,491.00 220.40,484.00 222.40,484.00 222.40,477.00 224.00,477.00 224.00,473.00 226.00,473.00 226.00,462.00 228.00,462.00 228.00,453.00 229.60,453.00 229.60,448.00 231.00,448.00 231.00,443.00 235.00,443.00 235.00,440.00 238.00,440.00 238.00,436.60 241.60,436.60 241.60,431.40 261.40,431.40 261.40,427.00 274.00,427.00 274.00,421.80 294.20,421.80 294.20,416.60 314.20,416.60 314.20,411.20 318.00,411.20 318.00,408.00 322.80,408.00 322.80,404.80 326.00,404.80 326.00,402.00 334.00,402.00" fill="none" stroke="#E82628" stroke-width="2.0" stroke-linejoin="round" stroke-linecap="butt" clip-path="url(#c10)"/>
<rect x="208.6" y="398" width="129.5" height="125.4" fill="none" stroke="#222222" stroke-width="1.2"/>
<line x1="213.4" y1="523.4" x2="213.4" y2="527" stroke="#222222" stroke-width="1.1" stroke-linecap="butt"/>
<text x="214.9" y="538.1" font-size="10.0" font-weight="bold" text-anchor="middle" fill="#1a1a1a" stroke="#1a1a1a" stroke-width="0.22" textLength="12.65" lengthAdjust="spacingAndGlyphs">0.0</text>
<line x1="208.6" y1="518.76" x2="204.6" y2="518.76" stroke="#222222" stroke-width="1.1" stroke-linecap="butt"/>
<text x="198.7" y="517.26" font-size="9.3" font-weight="bold" text-anchor="middle" fill="#1a1a1a" stroke="#1a1a1a" stroke-width="0.22" transform="rotate(-90 198.7 517.26)" textLength="12.79" lengthAdjust="spacingAndGlyphs">0.0</text>
<line x1="237.38" y1="523.4" x2="237.38" y2="527" stroke="#222222" stroke-width="1.1" stroke-linecap="butt"/>
<text x="238.88" y="538.1" font-size="10.0" font-weight="bold" text-anchor="middle" fill="#1a1a1a" stroke="#1a1a1a" stroke-width="0.22" textLength="12.65" lengthAdjust="spacingAndGlyphs">0.2</text>
<line x1="208.6" y1="495.53" x2="204.6" y2="495.53" stroke="#222222" stroke-width="1.1" stroke-linecap="butt"/>
<text x="198.7" y="494.03" font-size="9.3" font-weight="bold" text-anchor="middle" fill="#1a1a1a" stroke="#1a1a1a" stroke-width="0.22" transform="rotate(-90 198.7 494.03)" textLength="12.79" lengthAdjust="spacingAndGlyphs">0.2</text>
<line x1="261.36" y1="523.4" x2="261.36" y2="527" stroke="#222222" stroke-width="1.1" stroke-linecap="butt"/>
<text x="262.86" y="538.1" font-size="10.0" font-weight="bold" text-anchor="middle" fill="#1a1a1a" stroke="#1a1a1a" stroke-width="0.22" textLength="12.65" lengthAdjust="spacingAndGlyphs">0.4</text>
<line x1="208.6" y1="472.31" x2="204.6" y2="472.31" stroke="#222222" stroke-width="1.1" stroke-linecap="butt"/>
<text x="198.7" y="470.81" font-size="9.3" font-weight="bold" text-anchor="middle" fill="#1a1a1a" stroke="#1a1a1a" stroke-width="0.22" transform="rotate(-90 198.7 470.81)" textLength="12.79" lengthAdjust="spacingAndGlyphs">0.4</text>
<line x1="285.34" y1="523.4" x2="285.34" y2="527" stroke="#222222" stroke-width="1.1" stroke-linecap="butt"/>
<text x="286.84" y="538.1" font-size="10.0" font-weight="bold" text-anchor="middle" fill="#1a1a1a" stroke="#1a1a1a" stroke-width="0.22" textLength="12.65" lengthAdjust="spacingAndGlyphs">0.6</text>
<line x1="208.6" y1="449.09" x2="204.6" y2="449.09" stroke="#222222" stroke-width="1.1" stroke-linecap="butt"/>
<text x="198.7" y="447.59" font-size="9.3" font-weight="bold" text-anchor="middle" fill="#1a1a1a" stroke="#1a1a1a" stroke-width="0.22" transform="rotate(-90 198.7 447.59)" textLength="12.79" lengthAdjust="spacingAndGlyphs">0.6</text>
<line x1="309.32" y1="523.4" x2="309.32" y2="527" stroke="#222222" stroke-width="1.1" stroke-linecap="butt"/>
<text x="310.82" y="538.1" font-size="10.0" font-weight="bold" text-anchor="middle" fill="#1a1a1a" stroke="#1a1a1a" stroke-width="0.22" textLength="12.65" lengthAdjust="spacingAndGlyphs">0.8</text>
<line x1="208.6" y1="425.87" x2="204.6" y2="425.87" stroke="#222222" stroke-width="1.1" stroke-linecap="butt"/>
<text x="198.7" y="424.37" font-size="9.3" font-weight="bold" text-anchor="middle" fill="#1a1a1a" stroke="#1a1a1a" stroke-width="0.22" transform="rotate(-90 198.7 424.37)" textLength="12.79" lengthAdjust="spacingAndGlyphs">0.8</text>
<line x1="333.3" y1="523.4" x2="333.3" y2="527" stroke="#222222" stroke-width="1.1" stroke-linecap="butt"/>
<text x="334.8" y="538.1" font-size="10.0" font-weight="bold" text-anchor="middle" fill="#1a1a1a" stroke="#1a1a1a" stroke-width="0.22" textLength="12.65" lengthAdjust="spacingAndGlyphs">1.0</text>
<line x1="208.6" y1="402.64" x2="204.6" y2="402.64" stroke="#222222" stroke-width="1.1" stroke-linecap="butt"/>
<text x="198.7" y="401.14" font-size="9.3" font-weight="bold" text-anchor="middle" fill="#1a1a1a" stroke="#1a1a1a" stroke-width="0.22" transform="rotate(-90 198.7 401.14)" textLength="12.79" lengthAdjust="spacingAndGlyphs">1.0</text>
<text x="256.1" y="554.4" font-size="9.7" font-weight="bold" text-anchor="start" fill="#1a1a1a" stroke="#1a1a1a" stroke-width="0.22" textLength="67.79" lengthAdjust="spacingAndGlyphs">1y 1−Specificity</text>
<text x="183" y="475.6" font-size="9.0" font-weight="bold" text-anchor="start" fill="#1a1a1a" stroke="#1a1a1a" stroke-width="0.22" transform="rotate(-90 183 475.6)" textLength="45.02" lengthAdjust="spacingAndGlyphs">Sensitivity</text>
<line x1="292" y1="462.8" x2="308.2" y2="462.8" stroke="#333" stroke-width="1.3" stroke-linecap="butt"/>
<line x1="318.1" y1="462.8" x2="334.5" y2="462.8" stroke="#333" stroke-width="1.3" stroke-dasharray="3.6,1.2,6.8,1.2,3.6,20" stroke-linecap="butt"/>
<rect x="282.6" y="467.9" width="4.8" height="4.7" fill="#6DBB45"/>
<text x="291.6" y="472.4" font-size="9.2" text-anchor="start" fill="#2a2a2a" textLength="43.38" lengthAdjust="spacingAndGlyphs">59.262.81</text>
<rect x="282.6" y="491.6" width="4.8" height="4.7" fill="#3A55A4"/>
<text x="291.6" y="494.3" font-size="9.2" text-anchor="start" fill="#2a2a2a" textLength="43.38" lengthAdjust="spacingAndGlyphs">86.855.98</text>
<rect x="282.6" y="515" width="4.8" height="4.7" fill="#E82628"/>
<text x="291.6" y="518" font-size="9.2" text-anchor="start" fill="#2a2a2a" textLength="48.80" lengthAdjust="spacingAndGlyphs">75.5862.62</text>
<clipPath id="c11"><rect x="379.9" y="397.8" width="130.4" height="126"/></clipPath>
<line x1="379.9" y1="523.8" x2="510.3" y2="397.8" stroke="#000" stroke-width="1.3" stroke-dasharray="3.4,4.1" stroke-linecap="butt"/>
<polyline points="384.40,519.40 389.00,518.00 396.00,502.00 401.00,487.00 407.00,473.00 410.00,462.00 412.00,453.00 419.00,446.00 429.00,441.00 437.00,437.40 442.40,433.00 448.60,420.60 456.60,408.40 463.00,402.20 505.00,402.00" fill="none" stroke="#6DBB45" stroke-width="2.2" stroke-dasharray="6.3,10" stroke-linejoin="round" stroke-linecap="butt" clip-path="url(#c11)"/>
<polyline points="384.40,519.40 393.00,511.00 401.00,502.00 407.00,494.00 412.00,487.00 416.00,479.40 424.60,463.60 431.80,450.60 442.40,443.40 457.40,437.40 467.40,426.20 473.00,421.00 481.00,415.00 489.00,409.00 497.00,404.00 505.00,402.00" fill="none" stroke="#3A55A4" stroke-width="2.2" stroke-dasharray="6.3,10" stroke-linejoin="round" stroke-linecap="butt" clip-path="url(#c11)"/>
<polyline points="384.40,519.40 389.00,511.00 393.00,505.00 397.00,499.00 401.00,489.40 405.60,475.40 414.80,468.20 423.00,463.00 429.80,456.40 441.80,445.20 453.60,436.00 465.40,426.20 473.00,421.00 479.00,417.00 485.00,413.00 491.00,409.00 498.00,405.00 505.00,402.00" fill="none" stroke="#E82628" stroke-width="2.2" stroke-dasharray="6.3,10" stroke-linejoin="round" stroke-linecap="butt" clip-path="url(#c11)"/>
<polyline points="384.40,519.40 388.00,519.40 388.00,500.00 395.40,500.00 395.40,481.00 397.00,477.00 397.00,461.00 409.00,461.00 410.60,453.00 412.00,441.00 480.00,441.00 480.00,422.00 494.00,422.00 494.00,407.00 495.00,402.00 505.00,402.00" fill="none" stroke="#6DBB45" stroke-width="2.0" stroke-linejoin="round" stroke-linecap="butt" clip-path="url(#c11)"/>
<polyline points="384.40,519.40 385.00,499.00 388.00,487.00 388.00,475.00 392.00,475.00 392.00,465.00 397.00,465.00 397.00,461.00 407.00,461.00 407.00,453.00 410.00,453.00 412.00,451.00 415.00,451.00 416.00,447.00 419.00,446.00 420.00,443.00 424.00,441.00 425.00,436.00 431.00,436.00 431.00,432.00 435.00,431.00 436.00,426.00 437.00,422.00 442.00,421.00 443.00,417.00 461.00,417.00 461.00,412.00 477.00,412.00 481.00,410.00 489.00,409.00 489.00,402.00 505.00,402.00" fill="none" stroke="#3A55A4" stroke-width="2.0" stroke-linejoin="round" stroke-linecap="butt" clip-path="url(#c11)"/>
<polyline points="384.40,519.40 384.58,519.40 384.58,514.88 384.93,514.88 384.93,510.37 385.29,510.37 385.29,505.85 385.64,505.85 385.64,501.34 385.99,501.34 385.99,496.82 387.48,496.82 387.48,492.31 388.74,492.31 388.74,487.79 389.87,487.79 389.87,483.28 391.33,483.28 391.33,478.76 393.00,478.76 393.00,474.25 395.34,474.25 395.34,469.73 397.01,469.73 397.01,465.22 399.04,465.22 399.04,460.70 401.19,460.70 401.19,456.18 403.38,456.18 403.38,451.67 409.40,451.67 409.40,447.15 410.90,447.15 410.90,442.64 412.84,442.64 412.84,438.12 414.77,438.12 414.77,433.61 430.82,433.61 430.82,429.09 434.25,429.09 434.25,424.58 447.84,424.58 447.84,420.06 464.18,420.06 464.18,415.55 480.13,415.55 480.13,411.03 486.67,411.03 486.67,406.52 490.74,406.52 490.74,402.00 505.00,402.00" fill="none" stroke="#E82628" stroke-width="2.0" stroke-linejoin="round" stroke-linecap="butt" clip-path="url(#c11)"/>
<rect x="379.9" y="397.8" width="130.4" height="126" fill="none" stroke="#222222" stroke-width="1.2"/>
<line x1="384.73" y1="523.8" x2="384.73" y2="527.4" stroke="#222222" stroke-width="1.1" stroke-linecap="butt"/>
<text x="386.23" y="538.5" font-size="10.0" font-weight="bold" text-anchor="middle" fill="#1a1a1a" stroke="#1a1a1a" stroke-width="0.22" textLength="12.65" lengthAdjust="spacingAndGlyphs">0.0</text>
<line x1="379.9" y1="519.13" x2="375.9" y2="519.13" stroke="#222222" stroke-width="1.1" stroke-linecap="butt"/>
<text x="370" y="517.63" font-size="9.3" font-weight="bold" text-anchor="middle" fill="#1a1a1a" stroke="#1a1a1a" stroke-width="0.22" transform="rotate(-90 370 517.63)" textLength="12.79" lengthAdjust="spacingAndGlyphs">0.0</text>
<line x1="408.88" y1="523.8" x2="408.88" y2="527.4" stroke="#222222" stroke-width="1.1" stroke-linecap="butt"/>
<text x="410.38" y="538.5" font-size="10.0" font-weight="bold" text-anchor="middle" fill="#1a1a1a" stroke="#1a1a1a" stroke-width="0.22" textLength="12.65" lengthAdjust="spacingAndGlyphs">0.2</text>
<line x1="379.9" y1="495.8" x2="375.9" y2="495.8" stroke="#222222" stroke-width="1.1" stroke-linecap="butt"/>
<text x="370" y="494.3" font-size="9.3" font-weight="bold" text-anchor="middle" fill="#1a1a1a" stroke="#1a1a1a" stroke-width="0.22" transform="rotate(-90 370 494.3)" textLength="12.79" lengthAdjust="spacingAndGlyphs">0.2</text>
<line x1="433.03" y1="523.8" x2="433.03" y2="527.4" stroke="#222222" stroke-width="1.1" stroke-linecap="butt"/>
<text x="434.53" y="538.5" font-size="10.0" font-weight="bold" text-anchor="middle" fill="#1a1a1a" stroke="#1a1a1a" stroke-width="0.22" textLength="12.65" lengthAdjust="spacingAndGlyphs">0.4</text>
<line x1="379.9" y1="472.47" x2="375.9" y2="472.47" stroke="#222222" stroke-width="1.1" stroke-linecap="butt"/>
<text x="370" y="470.97" font-size="9.3" font-weight="bold" text-anchor="middle" fill="#1a1a1a" stroke="#1a1a1a" stroke-width="0.22" transform="rotate(-90 370 470.97)" textLength="12.79" lengthAdjust="spacingAndGlyphs">0.4</text>
<line x1="457.17" y1="523.8" x2="457.17" y2="527.4" stroke="#222222" stroke-width="1.1" stroke-linecap="butt"/>
<text x="458.67" y="538.5" font-size="10.0" font-weight="bold" text-anchor="middle" fill="#1a1a1a" stroke="#1a1a1a" stroke-width="0.22" textLength="12.65" lengthAdjust="spacingAndGlyphs">0.6</text>
<line x1="379.9" y1="449.13" x2="375.9" y2="449.13" stroke="#222222" stroke-width="1.1" stroke-linecap="butt"/>
<text x="370" y="447.63" font-size="9.3" font-weight="bold" text-anchor="middle" fill="#1a1a1a" stroke="#1a1a1a" stroke-width="0.22" transform="rotate(-90 370 447.63)" textLength="12.79" lengthAdjust="spacingAndGlyphs">0.6</text>
<line x1="481.32" y1="523.8" x2="481.32" y2="527.4" stroke="#222222" stroke-width="1.1" stroke-linecap="butt"/>
<text x="482.82" y="538.5" font-size="10.0" font-weight="bold" text-anchor="middle" fill="#1a1a1a" stroke="#1a1a1a" stroke-width="0.22" textLength="12.65" lengthAdjust="spacingAndGlyphs">0.8</text>
<line x1="379.9" y1="425.8" x2="375.9" y2="425.8" stroke="#222222" stroke-width="1.1" stroke-linecap="butt"/>
<text x="370" y="424.3" font-size="9.3" font-weight="bold" text-anchor="middle" fill="#1a1a1a" stroke="#1a1a1a" stroke-width="0.22" transform="rotate(-90 370 424.3)" textLength="12.79" lengthAdjust="spacingAndGlyphs">0.8</text>
<line x1="505.47" y1="523.8" x2="505.47" y2="527.4" stroke="#222222" stroke-width="1.1" stroke-linecap="butt"/>
<text x="506.97" y="538.5" font-size="10.0" font-weight="bold" text-anchor="middle" fill="#1a1a1a" stroke="#1a1a1a" stroke-width="0.22" textLength="12.65" lengthAdjust="spacingAndGlyphs">1.0</text>
<line x1="379.9" y1="402.47" x2="375.9" y2="402.47" stroke="#222222" stroke-width="1.1" stroke-linecap="butt"/>
<text x="370" y="400.97" font-size="9.3" font-weight="bold" text-anchor="middle" fill="#1a1a1a" stroke="#1a1a1a" stroke-width="0.22" transform="rotate(-90 370 400.97)" textLength="12.79" lengthAdjust="spacingAndGlyphs">1.0</text>
<text x="427.4" y="554.8" font-size="9.7" font-weight="bold" text-anchor="start" fill="#1a1a1a" stroke="#1a1a1a" stroke-width="0.22" textLength="67.79" lengthAdjust="spacingAndGlyphs">2y 1−Specificity</text>
<text x="354.3" y="476" font-size="9.0" font-weight="bold" text-anchor="start" fill="#1a1a1a" stroke="#1a1a1a" stroke-width="0.22" transform="rotate(-90 354.3 476)" textLength="45.02" lengthAdjust="spacingAndGlyphs">Sensitivity</text>
<line x1="461.9" y1="460.3" x2="478.1" y2="460.3" stroke="#333" stroke-width="1.3" stroke-linecap="butt"/>
<line x1="485.8" y1="460.3" x2="502.2" y2="460.3" stroke="#333" stroke-width="1.3" stroke-dasharray="3.6,1.2,6.8,1.2,3.6,20" stroke-linecap="butt"/>
<rect x="452.7" y="467.7" width="4.8" height="4.7" fill="#6DBB45"/>
<text x="459.3" y="472.9" font-size="9.2" text-anchor="start" fill="#2a2a2a" textLength="24.40" lengthAdjust="spacingAndGlyphs">64.49</text>
<text x="485.9" y="472.9" font-size="9.2" text-anchor="start" fill="#2a2a2a" textLength="24.40" lengthAdjust="spacingAndGlyphs">71.42</text>
<rect x="452.7" y="491.4" width="4.8" height="4.7" fill="#3A55A4"/>
<text x="459.3" y="495.7" font-size="9.2" text-anchor="start" fill="#2a2a2a" textLength="18.98" lengthAdjust="spacingAndGlyphs">76.1</text>
<text x="485.9" y="495.7" font-size="9.2" text-anchor="start" fill="#2a2a2a" textLength="24.40" lengthAdjust="spacingAndGlyphs">59.29</text>
<rect x="452.7" y="514.8" width="4.8" height="4.7" fill="#E82628"/>
<text x="459.3" y="517.5" font-size="9.2" text-anchor="start" fill="#2a2a2a" textLength="24.40" lengthAdjust="spacingAndGlyphs">74.75</text>
<text x="485.9" y="517.5" font-size="9.2" text-anchor="start" fill="#2a2a2a" textLength="24.40" lengthAdjust="spacingAndGlyphs">60.92</text>
<clipPath id="c12"><rect x="550.5" y="398.3" width="129.3" height="124.7"/></clipPath>
<line x1="550.5" y1="523" x2="679.8" y2="398.3" stroke="#000" stroke-width="1.3" stroke-dasharray="3.4,4.1" stroke-linecap="butt"/>
<polyline points="555.40,519.00 559.00,513.00 563.00,503.00 567.00,493.00 571.00,481.00 575.00,471.00 578.00,463.00 582.00,453.00 586.00,443.00 590.00,435.00 594.00,428.00 600.00,423.00 608.00,420.00 616.00,415.00 622.00,409.00 630.00,402.00 675.00,402.00" fill="none" stroke="#6DBB45" stroke-width="2.2" stroke-dasharray="6.3,10" stroke-linejoin="round" stroke-linecap="butt" clip-path="url(#c12)"/>
<polyline points="555.40,519.00 562.00,513.00 568.00,509.00 574.00,505.00 580.00,497.00 586.00,489.00 592.00,481.00 596.00,472.00 602.00,461.00 608.00,455.00 616.00,449.00 624.00,441.00 632.00,435.00 638.00,427.00 644.00,419.00 648.00,413.00 652.00,409.00 658.00,405.00 666.00,403.00 675.00,402.00" fill="none" stroke="#3A55A4" stroke-width="2.2" stroke-dasharray="6.3,10" stroke-linejoin="round" stroke-linecap="butt" clip-path="url(#c12)"/>
<polyline points="555.40,519.00 560.00,511.00 564.00,505.00 568.00,498.00 572.00,489.00 578.00,479.00 584.00,475.00 590.00,469.00 596.00,465.00 602.00,458.00 608.00,453.00 616.00,446.00 622.00,441.00 628.00,436.00 634.00,431.00 640.00,425.00 646.00,421.00 652.00,417.00 660.00,413.00 668.00,407.00 675.00,402.00" fill="none" stroke="#E82628" stroke-width="2.2" stroke-dasharray="6.3,10" stroke-linejoin="round" stroke-linecap="butt" clip-path="url(#c12)"/>
<polyline points="555.40,519.00 558.00,519.00 559.00,507.00 561.00,505.00 562.00,493.00 564.00,485.00 565.00,476.00 567.00,473.00 567.00,454.00 579.00,454.00 580.00,451.00 581.00,441.00 606.00,441.00 606.00,428.00 648.00,428.00 648.00,417.00 651.00,415.00 663.00,415.00 664.00,408.00 665.00,403.00 675.00,402.00" fill="none" stroke="#6DBB45" stroke-width="2.0" stroke-linejoin="round" stroke-linecap="butt" clip-path="url(#c12)"/>
<polyline points="555.40,519.00 555.54,519.00 555.54,515.10 555.82,515.10 555.82,511.20 556.10,511.20 556.10,507.30 556.38,507.30 556.38,503.40 557.11,503.40 557.11,499.50 557.89,499.50 557.89,495.60 558.34,495.60 558.34,491.70 558.73,491.70 558.73,487.80 559.19,487.80 559.19,483.90 559.84,483.90 559.84,480.00 560.84,480.00 560.84,476.10 561.96,476.10 561.96,472.20 562.75,472.20 562.75,468.30 564.99,468.30 564.99,464.40 566.64,464.40 566.64,460.50 568.63,460.50 568.63,456.60 574.76,456.60 574.76,452.70 577.50,452.70 577.50,448.80 581.10,448.80 581.10,444.90 585.05,444.90 585.05,441.00 589.92,441.00 589.92,437.10 592.57,437.10 592.57,433.20 597.25,433.20 597.25,429.30 599.65,429.30 599.65,425.40 604.91,425.40 604.91,421.50 613.45,421.50 613.45,417.60 645.40,417.60 645.40,413.70 649.62,413.70 649.62,409.80 654.30,409.80 654.30,405.90 660.73,405.90 660.73,402.00 675.00,402.00" fill="none" stroke="#3A55A4" stroke-width="2.0" stroke-linejoin="round" stroke-linecap="butt" clip-path="url(#c12)"/>
<polyline points="555.40,519.00 555.55,519.00 555.55,515.56 555.86,515.56 555.86,512.12 556.16,512.12 556.16,508.68 556.47,508.68 556.47,505.24 556.78,505.24 556.78,501.79 557.46,501.79 557.46,498.35 559.12,498.35 559.12,494.91 560.27,494.91 560.27,491.47 561.50,491.47 561.50,488.03 562.88,488.03 562.88,484.59 565.07,484.59 565.07,481.15 566.79,481.15 566.79,477.71 568.81,477.71 568.81,474.26 570.73,474.26 570.73,470.82 572.45,470.82 572.45,467.38 575.34,467.38 575.34,463.94 578.08,463.94 578.08,460.50 580.67,460.50 580.67,457.06 583.00,457.06 583.00,453.62 585.05,453.62 585.05,450.18 586.77,450.18 586.77,446.74 597.97,446.74 597.97,443.29 600.57,443.29 600.57,439.85 604.82,439.85 604.82,436.41 607.48,436.41 607.48,432.97 609.83,432.97 609.83,429.53 627.08,429.53 627.08,426.09 628.45,426.09 628.45,422.65 631.07,422.65 631.07,419.21 639.03,419.21 639.03,415.76 651.96,415.76 651.96,412.32 655.40,412.32 655.40,408.88 659.78,408.88 659.78,405.44 666.56,405.44 666.56,402.00 675.00,402.00" fill="none" stroke="#E82628" stroke-width="2.0" stroke-linejoin="round" stroke-linecap="butt" clip-path="url(#c12)"/>
<rect x="550.5" y="398.3" width="129.3" height="124.7" fill="none" stroke="#222222" stroke-width="1.2"/>
<line x1="555.29" y1="523" x2="555.29" y2="526.6" stroke="#222222" stroke-width="1.1" stroke-linecap="butt"/>
<text x="556.79" y="537.7" font-size="10.0" font-weight="bold" text-anchor="middle" fill="#1a1a1a" stroke="#1a1a1a" stroke-width="0.22" textLength="12.65" lengthAdjust="spacingAndGlyphs">0.0</text>
<line x1="550.5" y1="518.38" x2="546.5" y2="518.38" stroke="#222222" stroke-width="1.1" stroke-linecap="butt"/>
<text x="540.6" y="516.88" font-size="9.3" font-weight="bold" text-anchor="middle" fill="#1a1a1a" stroke="#1a1a1a" stroke-width="0.22" transform="rotate(-90 540.6 516.88)" textLength="12.79" lengthAdjust="spacingAndGlyphs">0.0</text>
<line x1="579.23" y1="523" x2="579.23" y2="526.6" stroke="#222222" stroke-width="1.1" stroke-linecap="butt"/>
<text x="580.73" y="537.7" font-size="10.0" font-weight="bold" text-anchor="middle" fill="#1a1a1a" stroke="#1a1a1a" stroke-width="0.22" textLength="12.65" lengthAdjust="spacingAndGlyphs">0.2</text>
<line x1="550.5" y1="495.29" x2="546.5" y2="495.29" stroke="#222222" stroke-width="1.1" stroke-linecap="butt"/>
<text x="540.6" y="493.79" font-size="9.3" font-weight="bold" text-anchor="middle" fill="#1a1a1a" stroke="#1a1a1a" stroke-width="0.22" transform="rotate(-90 540.6 493.79)" textLength="12.79" lengthAdjust="spacingAndGlyphs">0.2</text>
<line x1="603.18" y1="523" x2="603.18" y2="526.6" stroke="#222222" stroke-width="1.1" stroke-linecap="butt"/>
<text x="604.68" y="537.7" font-size="10.0" font-weight="bold" text-anchor="middle" fill="#1a1a1a" stroke="#1a1a1a" stroke-width="0.22" textLength="12.65" lengthAdjust="spacingAndGlyphs">0.4</text>
<line x1="550.5" y1="472.2" x2="546.5" y2="472.2" stroke="#222222" stroke-width="1.1" stroke-linecap="butt"/>
<text x="540.6" y="470.7" font-size="9.3" font-weight="bold" text-anchor="middle" fill="#1a1a1a" stroke="#1a1a1a" stroke-width="0.22" transform="rotate(-90 540.6 470.7)" textLength="12.79" lengthAdjust="spacingAndGlyphs">0.4</text>
<line x1="627.12" y1="523" x2="627.12" y2="526.6" stroke="#222222" stroke-width="1.1" stroke-linecap="butt"/>
<text x="628.62" y="537.7" font-size="10.0" font-weight="bold" text-anchor="middle" fill="#1a1a1a" stroke="#1a1a1a" stroke-width="0.22" textLength="12.65" lengthAdjust="spacingAndGlyphs">0.6</text>
<line x1="550.5" y1="449.1" x2="546.5" y2="449.1" stroke="#222222" stroke-width="1.1" stroke-linecap="butt"/>
<text x="540.6" y="447.6" font-size="9.3" font-weight="bold" text-anchor="middle" fill="#1a1a1a" stroke="#1a1a1a" stroke-width="0.22" transform="rotate(-90 540.6 447.6)" textLength="12.79" lengthAdjust="spacingAndGlyphs">0.6</text>
<line x1="651.07" y1="523" x2="651.07" y2="526.6" stroke="#222222" stroke-width="1.1" stroke-linecap="butt"/>
<text x="652.57" y="537.7" font-size="10.0" font-weight="bold" text-anchor="middle" fill="#1a1a1a" stroke="#1a1a1a" stroke-width="0.22" textLength="12.65" lengthAdjust="spacingAndGlyphs">0.8</text>
<line x1="550.5" y1="426.01" x2="546.5" y2="426.01" stroke="#222222" stroke-width="1.1" stroke-linecap="butt"/>
<text x="540.6" y="424.51" font-size="9.3" font-weight="bold" text-anchor="middle" fill="#1a1a1a" stroke="#1a1a1a" stroke-width="0.22" transform="rotate(-90 540.6 424.51)" textLength="12.79" lengthAdjust="spacingAndGlyphs">0.8</text>
<line x1="675.01" y1="523" x2="675.01" y2="526.6" stroke="#222222" stroke-width="1.1" stroke-linecap="butt"/>
<text x="676.51" y="537.7" font-size="10.0" font-weight="bold" text-anchor="middle" fill="#1a1a1a" stroke="#1a1a1a" stroke-width="0.22" textLength="12.65" lengthAdjust="spacingAndGlyphs">1.0</text>
<line x1="550.5" y1="402.92" x2="546.5" y2="402.92" stroke="#222222" stroke-width="1.1" stroke-linecap="butt"/>
<text x="540.6" y="401.42" font-size="9.3" font-weight="bold" text-anchor="middle" fill="#1a1a1a" stroke="#1a1a1a" stroke-width="0.22" transform="rotate(-90 540.6 401.42)" textLength="12.79" lengthAdjust="spacingAndGlyphs">1.0</text>
<text x="598" y="554" font-size="9.7" font-weight="bold" text-anchor="start" fill="#1a1a1a" stroke="#1a1a1a" stroke-width="0.22" textLength="67.79" lengthAdjust="spacingAndGlyphs">3y 1−Specificity</text>
<text x="524.9" y="475.2" font-size="9.0" font-weight="bold" text-anchor="start" fill="#1a1a1a" stroke="#1a1a1a" stroke-width="0.22" transform="rotate(-90 524.9 475.2)" textLength="45.02" lengthAdjust="spacingAndGlyphs">Sensitivity</text>
<line x1="631.4" y1="459.8" x2="647.6" y2="459.8" stroke="#333" stroke-width="1.3" stroke-linecap="butt"/>
<line x1="656.8" y1="459.8" x2="673.2" y2="459.8" stroke="#333" stroke-width="1.3" stroke-dasharray="3.6,1.2,6.8,1.2,3.6,20" stroke-linecap="butt"/>
<rect x="624.5" y="468.2" width="4.8" height="4.7" fill="#6DBB45"/>
<text x="631.1" y="474.2" font-size="9.2" text-anchor="start" fill="#2a2a2a" textLength="24.40" lengthAdjust="spacingAndGlyphs">70.34</text>
<text x="656.9" y="474.2" font-size="9.2" text-anchor="start" fill="#2a2a2a" textLength="24.40" lengthAdjust="spacingAndGlyphs">75.52</text>
<rect x="624.5" y="491.9" width="4.8" height="4.7" fill="#3A55A4"/>
<text x="631.1" y="495.4" font-size="9.2" text-anchor="start" fill="#2a2a2a" textLength="24.40" lengthAdjust="spacingAndGlyphs">75.97</text>
<text x="656.9" y="495.4" font-size="9.2" text-anchor="start" fill="#2a2a2a" textLength="24.40" lengthAdjust="spacingAndGlyphs">55.63</text>
<rect x="624.5" y="515.3" width="4.8" height="4.7" fill="#E82628"/>
<text x="631.1" y="516.3" font-size="9.2" text-anchor="start" fill="#2a2a2a" textLength="24.40" lengthAdjust="spacingAndGlyphs">69.45</text>
<text x="656.9" y="516.3" font-size="9.2" text-anchor="start" fill="#2a2a2a" textLength="24.40" lengthAdjust="spacingAndGlyphs">57.71</text>
<clipPath id="c13"><rect x="34" y="567" width="131.6" height="126.1"/></clipPath>
<line x1="34" y1="693.1" x2="165.6" y2="567" stroke="#000" stroke-width="1.3" stroke-dasharray="3.4,4.1" stroke-linecap="butt"/>
<polyline points="38.40,689.00 42.00,684.00 47.00,674.00 51.00,664.00 55.00,656.00 59.00,648.00 63.00,640.00 67.00,634.00 71.00,628.00 77.00,622.00 83.00,616.00 91.00,610.00 99.00,606.00 105.00,600.00 111.00,590.00 115.00,584.00 121.00,578.00 127.00,574.00 131.00,571.00 160.00,571.00" fill="none" stroke="#6DBB45" stroke-width="2.2" stroke-dasharray="6.3,10" stroke-linejoin="round" stroke-linecap="butt" clip-path="url(#c13)"/>
<polyline points="38.40,689.00 47.00,682.00 55.00,674.00 63.00,666.00 71.00,658.00 79.00,648.00 85.00,639.00 91.00,633.00 99.00,628.00 107.00,622.00 115.00,616.00 123.00,608.00 131.00,599.00 139.00,590.00 145.00,584.00 151.00,578.00 160.00,571.00" fill="none" stroke="#3A55A4" stroke-width="2.2" stroke-dasharray="6.3,10" stroke-linejoin="round" stroke-linecap="butt" clip-path="url(#c13)"/>
<polyline points="38.40,689.00 45.00,678.00 51.00,668.00 57.00,660.00 63.00,650.00 69.00,645.00 75.00,638.00 81.00,632.00 87.00,626.00 93.00,620.00 99.00,615.00 105.00,610.00 111.00,606.00 117.00,602.00 123.00,597.00 129.00,592.00 135.00,586.00 141.00,582.00 147.00,577.00 153.00,574.00 160.00,571.00" fill="none" stroke="#E82628" stroke-width="2.2" stroke-dasharray="6.3,10" stroke-linejoin="round" stroke-linecap="butt" clip-path="url(#c13)"/>
<polyline points="38.40,689.00 42.00,689.00 43.00,678.00 45.00,674.00 46.00,664.00 48.00,656.00 49.00,648.00 51.00,644.00 51.00,636.00 63.00,636.00 65.00,632.00 67.00,628.00 70.00,625.00 81.00,625.00 81.00,617.00 88.00,616.00 91.00,614.00 91.00,604.00 123.00,604.00 123.00,593.00 135.00,593.00 135.00,582.00 149.00,582.00 149.00,573.00 160.00,571.00" fill="none" stroke="#6DBB45" stroke-width="2.0" stroke-linejoin="round" stroke-linecap="butt" clip-path="url(#c13)"/>
<polyline points="38.40,689.00 38.51,689.00 38.51,686.05 38.74,686.05 38.74,683.10 38.97,683.10 38.97,680.15 39.19,680.15 39.19,677.20 39.45,677.20 39.45,674.25 40.05,674.25 40.05,671.30 40.63,671.30 40.63,668.35 41.19,668.35 41.19,665.40 41.68,665.40 41.68,662.45 42.17,662.45 42.17,659.50 42.66,659.50 42.66,656.55 43.31,656.55 43.31,653.60 44.29,653.60 44.29,650.65 45.82,650.65 45.82,647.70 47.89,647.70 47.89,644.75 49.73,644.75 49.73,641.80 52.67,641.80 52.67,638.85 55.62,638.85 55.62,635.90 58.57,635.90 58.57,632.95 61.52,632.95 61.52,630.00 63.89,630.00 63.89,627.05 65.65,627.05 65.65,624.10 67.78,624.10 67.78,621.15 69.79,621.15 69.79,618.20 71.56,618.20 71.56,615.25 73.11,615.25 73.11,612.30 75.76,612.30 75.76,609.35 80.38,609.35 80.38,606.40 85.22,606.40 85.22,603.45 89.35,603.45 89.35,600.50 90.99,600.50 90.99,597.55 92.62,597.55 92.62,594.60 96.62,594.60 96.62,591.65 102.55,591.65 102.55,588.70 106.32,588.70 106.32,585.75 124.80,585.75 124.80,582.80 135.67,582.80 135.67,579.85 138.62,579.85 138.62,576.90 144.15,576.90 144.15,573.95 151.25,573.95 151.25,571.00 160.00,571.00" fill="none" stroke="#3A55A4" stroke-width="2.0" stroke-linejoin="round" stroke-linecap="butt" clip-path="url(#c13)"/>
<polyline points="38.40,689.00 38.53,689.00 38.53,686.05 38.80,686.05 38.80,683.10 39.07,683.10 39.07,680.15 39.34,680.15 39.34,677.20 39.85,677.20 39.85,674.25 40.45,674.25 40.45,671.30 41.09,671.30 41.09,668.35 42.56,668.35 42.56,665.40 44.04,665.40 44.04,662.45 45.51,662.45 45.51,659.50 46.99,659.50 46.99,656.55 48.46,656.55 48.46,653.60 49.94,653.60 49.94,650.65 51.41,650.65 51.41,647.70 52.89,647.70 52.89,644.75 54.36,644.75 54.36,641.80 56.26,641.80 56.26,638.85 58.62,638.85 58.62,635.90 61.57,635.90 61.57,632.95 64.39,632.95 64.39,630.00 66.61,630.00 66.61,627.05 68.45,627.05 68.45,624.10 70.75,624.10 70.75,621.15 75.77,621.15 75.77,618.20 79.70,618.20 79.70,615.25 83.23,615.25 83.23,612.30 85.88,612.30 85.88,609.35 88.09,609.35 88.09,606.40 90.31,606.40 90.31,603.45 93.02,603.45 93.02,600.50 96.95,600.50 96.95,597.55 109.62,597.55 109.62,594.60 112.16,594.60 112.16,591.65 115.43,591.65 115.43,588.70 120.55,588.70 120.55,585.75 129.35,585.75 129.35,582.80 136.35,582.80 136.35,579.85 140.62,579.85 140.62,576.90 144.15,576.90 144.15,573.95 150.05,573.95 150.05,571.00 160.00,571.00" fill="none" stroke="#E82628" stroke-width="2.0" stroke-linejoin="round" stroke-linecap="butt" clip-path="url(#c13)"/>
<rect x="34" y="567" width="131.6" height="126.1" fill="none" stroke="#222222" stroke-width="1.2"/>
<line x1="38.87" y1="693.1" x2="38.87" y2="696.7" stroke="#222222" stroke-width="1.1" stroke-linecap="butt"/>
<text x="40.37" y="707.8" font-size="10.0" font-weight="bold" text-anchor="middle" fill="#1a1a1a" stroke="#1a1a1a" stroke-width="0.22" textLength="12.65" lengthAdjust="spacingAndGlyphs">0.0</text>
<line x1="34" y1="688.43" x2="30" y2="688.43" stroke="#222222" stroke-width="1.1" stroke-linecap="butt"/>
<text x="24.1" y="686.93" font-size="9.3" font-weight="bold" text-anchor="middle" fill="#1a1a1a" stroke="#1a1a1a" stroke-width="0.22" transform="rotate(-90 24.1 686.93)" textLength="12.79" lengthAdjust="spacingAndGlyphs">0.0</text>
<line x1="63.24" y1="693.1" x2="63.24" y2="696.7" stroke="#222222" stroke-width="1.1" stroke-linecap="butt"/>
<text x="64.74" y="707.8" font-size="10.0" font-weight="bold" text-anchor="middle" fill="#1a1a1a" stroke="#1a1a1a" stroke-width="0.22" textLength="12.65" lengthAdjust="spacingAndGlyphs">0.2</text>
<line x1="34" y1="665.08" x2="30" y2="665.08" stroke="#222222" stroke-width="1.1" stroke-linecap="butt"/>
<text x="24.1" y="663.58" font-size="9.3" font-weight="bold" text-anchor="middle" fill="#1a1a1a" stroke="#1a1a1a" stroke-width="0.22" transform="rotate(-90 24.1 663.58)" textLength="12.79" lengthAdjust="spacingAndGlyphs">0.2</text>
<line x1="87.61" y1="693.1" x2="87.61" y2="696.7" stroke="#222222" stroke-width="1.1" stroke-linecap="butt"/>
<text x="89.11" y="707.8" font-size="10.0" font-weight="bold" text-anchor="middle" fill="#1a1a1a" stroke="#1a1a1a" stroke-width="0.22" textLength="12.65" lengthAdjust="spacingAndGlyphs">0.4</text>
<line x1="34" y1="641.73" x2="30" y2="641.73" stroke="#222222" stroke-width="1.1" stroke-linecap="butt"/>
<text x="24.1" y="640.23" font-size="9.3" font-weight="bold" text-anchor="middle" fill="#1a1a1a" stroke="#1a1a1a" stroke-width="0.22" transform="rotate(-90 24.1 640.23)" textLength="12.79" lengthAdjust="spacingAndGlyphs">0.4</text>
<line x1="111.99" y1="693.1" x2="111.99" y2="696.7" stroke="#222222" stroke-width="1.1" stroke-linecap="butt"/>
<text x="113.49" y="707.8" font-size="10.0" font-weight="bold" text-anchor="middle" fill="#1a1a1a" stroke="#1a1a1a" stroke-width="0.22" textLength="12.65" lengthAdjust="spacingAndGlyphs">0.6</text>
<line x1="34" y1="618.37" x2="30" y2="618.37" stroke="#222222" stroke-width="1.1" stroke-linecap="butt"/>
<text x="24.1" y="616.87" font-size="9.3" font-weight="bold" text-anchor="middle" fill="#1a1a1a" stroke="#1a1a1a" stroke-width="0.22" transform="rotate(-90 24.1 616.87)" textLength="12.79" lengthAdjust="spacingAndGlyphs">0.6</text>
<line x1="136.36" y1="693.1" x2="136.36" y2="696.7" stroke="#222222" stroke-width="1.1" stroke-linecap="butt"/>
<text x="137.86" y="707.8" font-size="10.0" font-weight="bold" text-anchor="middle" fill="#1a1a1a" stroke="#1a1a1a" stroke-width="0.22" textLength="12.65" lengthAdjust="spacingAndGlyphs">0.8</text>
<line x1="34" y1="595.02" x2="30" y2="595.02" stroke="#222222" stroke-width="1.1" stroke-linecap="butt"/>
<text x="24.1" y="593.52" font-size="9.3" font-weight="bold" text-anchor="middle" fill="#1a1a1a" stroke="#1a1a1a" stroke-width="0.22" transform="rotate(-90 24.1 593.52)" textLength="12.79" lengthAdjust="spacingAndGlyphs">0.8</text>
<line x1="160.73" y1="693.1" x2="160.73" y2="696.7" stroke="#222222" stroke-width="1.1" stroke-linecap="butt"/>
<text x="162.23" y="707.8" font-size="10.0" font-weight="bold" text-anchor="middle" fill="#1a1a1a" stroke="#1a1a1a" stroke-width="0.22" textLength="12.65" lengthAdjust="spacingAndGlyphs">1.0</text>
<line x1="34" y1="571.67" x2="30" y2="571.67" stroke="#222222" stroke-width="1.1" stroke-linecap="butt"/>
<text x="24.1" y="570.17" font-size="9.3" font-weight="bold" text-anchor="middle" fill="#1a1a1a" stroke="#1a1a1a" stroke-width="0.22" transform="rotate(-90 24.1 570.17)" textLength="12.79" lengthAdjust="spacingAndGlyphs">1.0</text>
<text x="81.5" y="724.1" font-size="9.7" font-weight="bold" text-anchor="start" fill="#1a1a1a" stroke="#1a1a1a" stroke-width="0.22" textLength="67.79" lengthAdjust="spacingAndGlyphs">4y 1−Specificity</text>
<text x="8.4" y="645.3" font-size="9.0" font-weight="bold" text-anchor="start" fill="#1a1a1a" stroke="#1a1a1a" stroke-width="0.22" transform="rotate(-90 8.4 645.3)" textLength="45.02" lengthAdjust="spacingAndGlyphs">Sensitivity</text>
<line x1="116" y1="629.9" x2="132.2" y2="629.9" stroke="#333" stroke-width="1.3" stroke-linecap="butt"/>
<line x1="142.1" y1="629.9" x2="158.5" y2="629.9" stroke="#333" stroke-width="1.3" stroke-dasharray="3.6,1.2,6.8,1.2,3.6,20" stroke-linecap="butt"/>
<rect x="106.6" y="636.9" width="4.8" height="4.7" fill="#6DBB45"/>
<text x="115.6" y="641.5" font-size="9.2" text-anchor="start" fill="#2a2a2a" textLength="48.80" lengthAdjust="spacingAndGlyphs">66.2568.59</text>
<rect x="106.6" y="660.6" width="4.8" height="4.7" fill="#3A55A4"/>
<text x="115.6" y="665" font-size="9.2" text-anchor="start" fill="#2a2a2a" textLength="43.38" lengthAdjust="spacingAndGlyphs">73.2551.5</text>
<rect x="106.6" y="684" width="4.8" height="4.7" fill="#E82628"/>
<text x="115.6" y="689.5" font-size="9.2" text-anchor="start" fill="#2a2a2a" textLength="48.80" lengthAdjust="spacingAndGlyphs">69.4458.36</text>
<clipPath id="c14"><rect x="205.5" y="566.8" width="130.9" height="126.3"/></clipPath>
<line x1="205.5" y1="693.1" x2="336.4" y2="566.8" stroke="#000" stroke-width="1.3" stroke-dasharray="3.4,4.1" stroke-linecap="butt"/>
<polyline points="210.40,688.40 215.00,682.00 219.00,674.00 223.00,664.00 227.00,656.00 231.00,650.00 235.00,644.00 239.00,637.00 243.00,630.00 247.00,622.00 251.00,618.00 257.00,612.00 263.00,607.00 271.00,602.00 277.00,594.00 283.00,586.00 289.00,580.00 295.00,575.00 301.00,571.00 331.40,571.00" fill="none" stroke="#6DBB45" stroke-width="2.2" stroke-dasharray="6.3,10" stroke-linejoin="round" stroke-linecap="butt" clip-path="url(#c14)"/>
<polyline points="210.40,688.40 219.00,681.00 227.00,673.00 235.00,665.00 243.00,657.00 251.00,646.00 259.00,638.00 267.00,632.00 275.00,626.00 283.00,619.00 291.00,612.00 299.00,604.00 307.00,596.00 315.00,586.00 323.00,578.00 331.40,571.00" fill="none" stroke="#3A55A4" stroke-width="2.2" stroke-dasharray="6.3,10" stroke-linejoin="round" stroke-linecap="butt" clip-path="url(#c14)"/>
<polyline points="210.40,688.40 217.00,678.00 223.00,669.00 229.00,660.00 235.00,650.00 241.00,646.00 247.00,641.00 253.00,632.00 259.00,622.00 265.00,615.00 271.00,610.00 277.00,605.00 283.00,601.00 289.00,597.00 295.00,592.00 301.00,588.00 307.00,585.00 313.00,581.00 319.00,577.00 325.00,574.00 331.40,571.00" fill="none" stroke="#E82628" stroke-width="2.2" stroke-dasharray="6.3,10" stroke-linejoin="round" stroke-linecap="butt" clip-path="url(#c14)"/>
<polyline points="210.40,688.40 214.00,688.40 214.60,682.00 216.00,676.00 218.00,670.00 220.00,664.00 222.20,660.00 222.20,643.40 237.00,643.40 237.00,635.20 253.00,635.20 253.00,616.40 262.20,616.40 262.20,607.20 293.00,607.20 293.00,599.00 305.00,599.00 305.00,590.00 320.00,590.00 320.00,581.00 327.00,581.00 327.00,574.00 331.40,571.00" fill="none" stroke="#6DBB45" stroke-width="2.0" stroke-linejoin="round" stroke-linecap="butt" clip-path="url(#c14)"/>
<polyline points="210.40,688.40 210.49,688.40 210.49,686.05 210.68,686.05 210.68,683.70 210.87,683.70 210.87,681.36 211.06,681.36 211.06,679.01 211.25,679.01 211.25,676.66 211.50,676.66 211.50,674.31 211.97,674.31 211.97,671.96 212.44,671.96 212.44,669.62 212.91,669.62 212.91,667.27 213.32,667.27 213.32,664.92 213.71,664.92 213.71,662.57 214.10,662.57 214.10,660.22 214.49,660.22 214.49,657.88 214.88,657.88 214.88,655.53 215.55,655.53 215.55,653.18 216.33,653.18 216.33,650.83 217.17,650.83 217.17,648.48 218.35,648.48 218.35,646.14 219.78,646.14 219.78,643.79 221.54,643.79 221.54,641.44 223.73,641.44 223.73,639.09 226.62,639.09 226.62,636.74 229.43,636.74 229.43,634.40 231.39,634.40 231.39,632.05 232.56,632.05 232.56,629.70 234.11,629.70 234.11,627.35 235.87,627.35 235.87,625.00 237.63,625.00 237.63,622.66 239.78,622.66 239.78,620.31 242.52,620.31 242.52,617.96 243.93,617.96 243.93,615.61 245.84,615.61 245.84,613.26 249.37,613.26 249.37,610.92 252.26,610.92 252.26,608.57 254.91,608.57 254.91,606.22 257.95,606.22 257.95,603.87 260.30,603.87 260.30,601.52 262.65,601.52 262.65,599.18 264.33,599.18 264.33,596.83 267.69,596.83 267.69,594.48 273.69,594.48 273.69,592.13 276.13,592.13 276.13,589.78 282.58,589.78 282.58,587.44 287.95,587.44 287.95,585.09 304.45,585.09 304.45,582.74 307.29,582.74 307.29,580.39 308.85,580.39 308.85,578.04 317.26,578.04 317.26,575.70 321.96,575.70 321.96,573.35 326.65,573.35 326.65,571.00 331.40,571.00" fill="none" stroke="#3A55A4" stroke-width="2.0" stroke-linejoin="round" stroke-linecap="butt" clip-path="url(#c14)"/>
<polyline points="210.40,688.40 210.51,688.40 210.51,686.05 210.74,686.05 210.74,683.70 210.96,683.70 210.96,681.36 211.19,681.36 211.19,679.01 211.44,679.01 211.44,676.66 212.07,676.66 212.07,674.31 212.70,674.31 212.70,671.96 213.61,671.96 213.61,669.62 214.78,669.62 214.78,667.27 215.95,667.27 215.95,664.92 217.13,664.92 217.13,662.57 218.30,662.57 218.30,660.22 219.71,660.22 219.71,657.88 221.47,657.88 221.47,655.53 222.82,655.53 222.82,653.18 224.00,653.18 224.00,650.83 225.17,650.83 225.17,648.48 226.35,648.48 226.35,646.14 227.78,646.14 227.78,643.79 229.54,643.79 229.54,641.44 231.73,641.44 231.73,639.09 234.44,639.09 234.44,636.74 237.26,636.74 237.26,634.40 238.67,634.40 238.67,632.05 240.08,632.05 240.08,629.70 241.65,629.70 241.65,627.35 244.73,627.35 244.73,625.00 248.26,625.00 248.26,622.66 251.52,622.66 251.52,620.31 253.87,620.31 253.87,617.96 255.66,617.96 255.66,615.61 258.12,615.61 258.12,613.26 261.91,613.26 261.91,610.92 264.26,610.92 264.26,608.57 270.21,608.57 270.21,606.22 274.91,606.22 274.91,603.87 279.60,603.87 279.60,601.52 283.20,601.52 283.20,599.18 286.00,599.18 286.00,596.83 288.35,596.83 288.35,594.48 294.39,594.48 294.39,592.13 299.08,592.13 299.08,589.78 302.39,589.78 302.39,587.44 304.74,587.44 304.74,585.09 309.17,585.09 309.17,582.74 313.58,582.74 313.58,580.39 316.71,580.39 316.71,578.04 321.17,578.04 321.17,575.70 324.30,575.70 324.30,573.35 328.90,573.35 328.90,571.00 331.40,571.00" fill="none" stroke="#E82628" stroke-width="2.0" stroke-linejoin="round" stroke-linecap="butt" clip-path="url(#c14)"/>
<rect x="205.5" y="566.8" width="130.9" height="126.3" fill="none" stroke="#222222" stroke-width="1.2"/>
<line x1="210.35" y1="693.1" x2="210.35" y2="696.7" stroke="#222222" stroke-width="1.1" stroke-linecap="butt"/>
<text x="211.85" y="707.8" font-size="10.0" font-weight="bold" text-anchor="middle" fill="#1a1a1a" stroke="#1a1a1a" stroke-width="0.22" textLength="12.65" lengthAdjust="spacingAndGlyphs">0.0</text>
<line x1="205.5" y1="688.42" x2="201.5" y2="688.42" stroke="#222222" stroke-width="1.1" stroke-linecap="butt"/>
<text x="195.6" y="686.92" font-size="9.3" font-weight="bold" text-anchor="middle" fill="#1a1a1a" stroke="#1a1a1a" stroke-width="0.22" transform="rotate(-90 195.6 686.92)" textLength="12.79" lengthAdjust="spacingAndGlyphs">0.0</text>
<line x1="234.59" y1="693.1" x2="234.59" y2="696.7" stroke="#222222" stroke-width="1.1" stroke-linecap="butt"/>
<text x="236.09" y="707.8" font-size="10.0" font-weight="bold" text-anchor="middle" fill="#1a1a1a" stroke="#1a1a1a" stroke-width="0.22" textLength="12.65" lengthAdjust="spacingAndGlyphs">0.2</text>
<line x1="205.5" y1="665.03" x2="201.5" y2="665.03" stroke="#222222" stroke-width="1.1" stroke-linecap="butt"/>
<text x="195.6" y="663.53" font-size="9.3" font-weight="bold" text-anchor="middle" fill="#1a1a1a" stroke="#1a1a1a" stroke-width="0.22" transform="rotate(-90 195.6 663.53)" textLength="12.79" lengthAdjust="spacingAndGlyphs">0.2</text>
<line x1="258.83" y1="693.1" x2="258.83" y2="696.7" stroke="#222222" stroke-width="1.1" stroke-linecap="butt"/>
<text x="260.33" y="707.8" font-size="10.0" font-weight="bold" text-anchor="middle" fill="#1a1a1a" stroke="#1a1a1a" stroke-width="0.22" textLength="12.65" lengthAdjust="spacingAndGlyphs">0.4</text>
<line x1="205.5" y1="641.64" x2="201.5" y2="641.64" stroke="#222222" stroke-width="1.1" stroke-linecap="butt"/>
<text x="195.6" y="640.14" font-size="9.3" font-weight="bold" text-anchor="middle" fill="#1a1a1a" stroke="#1a1a1a" stroke-width="0.22" transform="rotate(-90 195.6 640.14)" textLength="12.79" lengthAdjust="spacingAndGlyphs">0.4</text>
<line x1="283.07" y1="693.1" x2="283.07" y2="696.7" stroke="#222222" stroke-width="1.1" stroke-linecap="butt"/>
<text x="284.57" y="707.8" font-size="10.0" font-weight="bold" text-anchor="middle" fill="#1a1a1a" stroke="#1a1a1a" stroke-width="0.22" textLength="12.65" lengthAdjust="spacingAndGlyphs">0.6</text>
<line x1="205.5" y1="618.26" x2="201.5" y2="618.26" stroke="#222222" stroke-width="1.1" stroke-linecap="butt"/>
<text x="195.6" y="616.76" font-size="9.3" font-weight="bold" text-anchor="middle" fill="#1a1a1a" stroke="#1a1a1a" stroke-width="0.22" transform="rotate(-90 195.6 616.76)" textLength="12.79" lengthAdjust="spacingAndGlyphs">0.6</text>
<line x1="307.31" y1="693.1" x2="307.31" y2="696.7" stroke="#222222" stroke-width="1.1" stroke-linecap="butt"/>
<text x="308.81" y="707.8" font-size="10.0" font-weight="bold" text-anchor="middle" fill="#1a1a1a" stroke="#1a1a1a" stroke-width="0.22" textLength="12.65" lengthAdjust="spacingAndGlyphs">0.8</text>
<line x1="205.5" y1="594.87" x2="201.5" y2="594.87" stroke="#222222" stroke-width="1.1" stroke-linecap="butt"/>
<text x="195.6" y="593.37" font-size="9.3" font-weight="bold" text-anchor="middle" fill="#1a1a1a" stroke="#1a1a1a" stroke-width="0.22" transform="rotate(-90 195.6 593.37)" textLength="12.79" lengthAdjust="spacingAndGlyphs">0.8</text>
<line x1="331.55" y1="693.1" x2="331.55" y2="696.7" stroke="#222222" stroke-width="1.1" stroke-linecap="butt"/>
<text x="333.05" y="707.8" font-size="10.0" font-weight="bold" text-anchor="middle" fill="#1a1a1a" stroke="#1a1a1a" stroke-width="0.22" textLength="12.65" lengthAdjust="spacingAndGlyphs">1.0</text>
<line x1="205.5" y1="571.48" x2="201.5" y2="571.48" stroke="#222222" stroke-width="1.1" stroke-linecap="butt"/>
<text x="195.6" y="569.98" font-size="9.3" font-weight="bold" text-anchor="middle" fill="#1a1a1a" stroke="#1a1a1a" stroke-width="0.22" transform="rotate(-90 195.6 569.98)" textLength="12.79" lengthAdjust="spacingAndGlyphs">1.0</text>
<text x="253" y="724.1" font-size="9.7" font-weight="bold" text-anchor="start" fill="#1a1a1a" stroke="#1a1a1a" stroke-width="0.22" textLength="67.79" lengthAdjust="spacingAndGlyphs">5y 1−Specificity</text>
<text x="179.9" y="645.3" font-size="9.0" font-weight="bold" text-anchor="start" fill="#1a1a1a" stroke="#1a1a1a" stroke-width="0.22" transform="rotate(-90 179.9 645.3)" textLength="45.02" lengthAdjust="spacingAndGlyphs">Sensitivity</text>
<line x1="286.5" y1="629.5" x2="302.7" y2="629.5" stroke="#333" stroke-width="1.3" stroke-linecap="butt"/>
<line x1="312.8" y1="629.5" x2="329.2" y2="629.5" stroke="#333" stroke-width="1.3" stroke-dasharray="3.6,1.2,6.8,1.2,3.6,20" stroke-linecap="butt"/>
<rect x="279.1" y="636.7" width="4.8" height="4.7" fill="#6DBB45"/>
<text x="285.7" y="641.5" font-size="9.2" text-anchor="start" fill="#2a2a2a" textLength="24.40" lengthAdjust="spacingAndGlyphs">61.35</text>
<text x="312.9" y="641.5" font-size="9.2" text-anchor="start" fill="#2a2a2a" textLength="24.40" lengthAdjust="spacingAndGlyphs">68.44</text>
<rect x="279.1" y="660.4" width="4.8" height="4.7" fill="#3A55A4"/>
<text x="285.7" y="665" font-size="9.2" text-anchor="start" fill="#2a2a2a" textLength="24.40" lengthAdjust="spacingAndGlyphs">72.94</text>
<text x="312.9" y="665" font-size="9.2" text-anchor="start" fill="#2a2a2a" textLength="24.40" lengthAdjust="spacingAndGlyphs">52.14</text>
<rect x="279.1" y="683.8" width="4.8" height="4.7" fill="#E82628"/>
<text x="285.7" y="688" font-size="9.2" text-anchor="start" fill="#2a2a2a" textLength="24.40" lengthAdjust="spacingAndGlyphs">65.57</text>
<text x="312.9" y="688" font-size="9.2" text-anchor="start" fill="#2a2a2a" textLength="24.40" lengthAdjust="spacingAndGlyphs">58.47</text>
<clipPath id="c15"><rect x="378.3" y="566.8" width="130.1" height="125.6"/></clipPath>
<line x1="378.3" y1="692.4" x2="508.4" y2="566.8" stroke="#000" stroke-width="1.3" stroke-dasharray="3.4,4.1" stroke-linecap="butt"/>
<polyline points="383.00,688.00 387.00,680.00 391.00,671.00 395.00,663.00 399.00,658.00 405.00,650.00 411.00,642.00 417.00,634.00 421.00,622.00 425.00,617.00 429.00,614.00 435.00,609.00 441.00,606.00 447.00,603.00 455.00,602.00 461.00,600.00 467.00,597.00 473.00,594.00 479.00,591.00 485.00,586.00 491.00,580.00 497.00,575.00 504.00,571.00" fill="none" stroke="#6DBB45" stroke-width="2.2" stroke-dasharray="6.3,10" stroke-linejoin="round" stroke-linecap="butt" clip-path="url(#c15)"/>
<polyline points="383.00,688.00 393.40,674.40 403.40,661.40 414.40,648.40 424.60,637.40 435.60,626.40 447.40,615.40 459.60,604.40 469.60,594.60 481.60,585.60 493.40,578.00 504.00,571.00" fill="none" stroke="#3A55A4" stroke-width="2.2" stroke-dasharray="6.3,10" stroke-linejoin="round" stroke-linecap="butt" clip-path="url(#c15)"/>
<polyline points="383.00,688.00 393.00,673.60 403.00,660.40 414.00,647.60 424.00,636.40 435.00,625.60 447.00,614.40 459.00,603.40 469.00,593.60 481.00,584.60 493.00,577.00 504.00,571.00" fill="none" stroke="#E82628" stroke-width="2.2" stroke-dasharray="6.3,10" stroke-linejoin="round" stroke-linecap="butt" clip-path="url(#c15)"/>
<polyline points="383.00,688.00 383.49,688.00 383.49,686.05 384.46,686.05 384.46,684.10 385.44,684.10 385.44,682.15 386.31,682.15 386.31,680.20 387.04,680.20 387.04,678.25 387.77,678.25 387.77,676.30 388.50,676.30 388.50,674.35 389.21,674.35 389.21,672.40 389.86,672.40 389.86,670.45 390.51,670.45 390.51,668.50 391.24,668.50 391.24,666.55 392.21,666.55 392.21,664.60 393.19,664.60 393.19,662.65 394.24,662.65 394.24,660.70 395.71,660.70 395.71,658.75 397.17,658.75 397.17,656.80 398.63,656.80 398.63,654.85 400.12,654.85 400.12,652.90 402.07,652.90 402.07,650.95 404.37,650.95 404.37,649.00 406.97,649.00 406.97,647.05 410.85,647.05 410.85,645.10 413.50,645.10 413.50,643.15 415.62,643.15 415.62,641.20 417.08,641.20 417.08,639.25 418.54,639.25 418.54,637.30 420.01,637.30 420.01,635.35 421.62,635.35 421.62,633.40 423.57,633.40 423.57,631.45 424.76,631.45 424.76,629.50 425.74,629.50 425.74,627.55 426.24,627.55 426.24,625.60 426.56,625.60 426.56,623.65 426.89,623.65 426.89,621.70 427.64,621.70 427.64,619.75 428.61,619.75 428.61,617.80 430.17,617.80 430.17,615.85 432.12,615.85 432.12,613.90 434.07,613.90 434.07,611.95 436.02,611.95 436.02,610.00 438.30,610.00 438.30,608.05 440.90,608.05 440.90,606.10 444.75,606.10 444.75,604.15 448.65,604.15 448.65,602.20 456.10,602.20 456.10,600.25 463.90,600.25 463.90,598.30 468.35,598.30 468.35,596.35 474.25,596.35 474.25,594.40 477.77,594.40 477.77,592.45 480.37,592.45 480.37,590.50 482.97,590.50 482.97,588.55 485.21,588.55 485.21,586.60 486.19,586.60 486.19,584.65 487.32,584.65 487.32,582.70 489.27,582.70 489.27,580.75 491.23,580.75 491.23,578.80 493.17,578.80 493.17,576.85 495.17,576.85 495.17,574.90 497.77,574.90 497.77,572.95 501.56,572.95 501.56,571.00 504.00,571.00" fill="none" stroke="#6DBB45" stroke-width="2.0" stroke-linejoin="round" stroke-linecap="butt" clip-path="url(#c15)"/>
<polyline points="383.00,688.00 383.06,688.00 383.06,686.54 383.18,686.54 383.18,685.08 383.30,685.08 383.30,683.61 383.43,683.61 383.43,682.15 383.55,682.15 383.55,680.69 383.67,680.69 383.67,679.23 383.79,679.23 383.79,677.76 383.91,677.76 383.91,676.30 384.09,676.30 384.09,674.84 384.38,674.84 384.38,673.38 384.67,673.38 384.67,671.91 384.96,671.91 384.96,670.45 385.26,670.45 385.26,668.99 385.55,668.99 385.55,667.52 385.84,667.52 385.84,666.06 386.25,666.06 386.25,664.60 386.80,664.60 386.80,663.14 387.35,663.14 387.35,661.67 387.90,661.67 387.90,660.21 388.44,660.21 388.44,658.75 388.99,658.75 388.99,657.29 389.72,657.29 389.72,655.83 390.45,655.83 390.45,654.36 391.18,654.36 391.18,652.90 391.92,652.90 391.92,651.44 392.78,651.44 392.78,649.98 393.65,649.98 393.65,648.51 394.53,648.51 394.53,647.05 395.54,647.05 395.54,645.59 396.71,645.59 396.71,644.12 397.88,644.12 397.88,642.66 399.05,642.66 399.05,641.20 400.02,641.20 400.02,639.74 401.00,639.74 401.00,638.27 401.97,638.27 401.97,636.81 402.95,636.81 402.95,635.35 403.92,635.35 403.92,633.89 404.90,633.89 404.90,632.42 405.87,632.42 405.87,630.96 406.85,630.96 406.85,629.50 408.23,629.50 408.23,628.04 409.69,628.04 409.69,626.58 411.16,626.58 411.16,625.11 412.62,625.11 412.62,623.65 414.08,623.65 414.08,622.19 415.54,622.19 415.54,620.73 417.01,620.73 417.01,619.26 418.47,619.26 418.47,617.80 420.24,617.80 420.24,616.34 422.19,616.34 422.19,614.88 424.14,614.88 424.14,613.41 426.09,613.41 426.09,611.95 428.56,611.95 428.56,610.49 431.24,610.49 431.24,609.02 432.71,609.02 432.71,607.56 434.17,607.56 434.17,606.10 435.50,606.10 435.50,604.64 436.68,604.64 436.68,603.17 437.84,603.17 437.84,601.71 439.04,601.71 439.04,600.25 441.96,600.25 441.96,598.79 444.26,598.79 444.26,597.33 446.21,597.33 446.21,595.86 448.16,595.86 448.16,594.40 450.11,594.40 450.11,592.94 452.59,592.94 452.59,591.48 455.51,591.48 455.51,590.01 458.44,590.01 458.44,588.55 461.36,588.55 461.36,587.09 464.29,587.09 464.29,585.62 467.30,585.62 467.30,584.16 471.42,584.16 471.42,582.70 475.12,582.70 475.12,581.24 479.99,581.24 479.99,579.77 482.91,579.77 482.91,578.31 487.05,578.31 487.05,576.85 490.70,576.85 490.70,575.39 493.69,575.39 493.69,573.92 497.02,573.92 497.02,572.46 501.39,572.46 501.39,571.00 504.00,571.00" fill="none" stroke="#3A55A4" stroke-width="2.0" stroke-linejoin="round" stroke-linecap="butt" clip-path="url(#c15)"/>
<polyline points="383.00,688.00 383.18,688.00 383.18,686.54 383.55,686.54 383.55,685.08 383.91,685.08 383.91,683.61 384.28,683.61 384.28,682.15 384.65,682.15 384.65,680.69 385.01,680.69 385.01,679.23 385.43,679.23 385.43,677.76 385.85,677.76 385.85,676.30 386.27,676.30 386.27,674.84 386.68,674.84 386.68,673.38 387.15,673.38 387.15,671.91 387.78,671.91 387.78,670.45 388.41,670.45 388.41,668.99 389.03,668.99 389.03,667.52 389.66,667.52 389.66,666.06 390.33,666.06 390.33,664.60 391.07,664.60 391.07,663.14 391.80,663.14 391.80,661.67 392.53,661.67 392.53,660.21 393.26,660.21 393.26,658.75 393.99,658.75 393.99,657.29 394.72,657.29 394.72,655.83 395.45,655.83 395.45,654.36 396.18,654.36 396.18,652.90 396.92,652.90 396.92,651.44 397.65,651.44 397.65,649.98 398.38,649.98 398.38,648.51 399.15,648.51 399.15,647.05 400.12,647.05 400.12,645.59 401.10,645.59 401.10,644.12 402.07,644.12 402.07,642.66 403.05,642.66 403.05,641.20 404.23,641.20 404.23,639.74 405.39,639.74 405.39,638.27 406.56,638.27 406.56,636.81 407.92,636.81 407.92,635.35 409.38,635.35 409.38,633.89 410.84,633.89 410.84,632.42 412.74,632.42 412.74,630.96 414.69,630.96 414.69,629.50 416.64,629.50 416.64,628.04 418.59,628.04 418.59,626.58 420.54,626.58 420.54,625.11 422.49,625.11 422.49,623.65 424.08,623.65 424.08,622.19 425.54,622.19 425.54,620.73 427.01,620.73 427.01,619.26 428.47,619.26 428.47,617.80 429.93,617.80 429.93,616.34 431.52,616.34 431.52,614.88 433.47,614.88 433.47,613.41 435.42,613.41 435.42,611.95 437.38,611.95 437.38,610.49 439.32,610.49 439.32,609.02 441.27,609.02 441.27,607.56 443.34,607.56 443.34,606.10 446.26,606.10 446.26,604.64 448.46,604.64 448.46,603.17 450.41,603.17 450.41,601.71 452.36,601.71 452.36,600.25 454.31,600.25 454.31,598.79 456.26,598.79 456.26,597.33 458.21,597.33 458.21,595.86 460.74,595.86 460.74,594.40 463.44,594.40 463.44,592.94 465.39,592.94 465.39,591.48 467.34,591.48 467.34,590.01 469.29,590.01 469.29,588.55 471.36,588.55 471.36,587.09 474.29,587.09 474.29,585.62 477.21,585.62 477.21,584.16 480.14,584.16 480.14,582.70 483.04,582.70 483.04,581.24 484.99,581.24 484.99,579.77 486.94,579.77 486.94,578.31 489.84,578.31 489.84,576.85 492.36,576.85 492.36,575.39 494.61,575.39 494.61,573.92 497.41,573.92 497.41,572.46 501.39,572.46 501.39,571.00 504.00,571.00" fill="none" stroke="#E82628" stroke-width="2.0" stroke-linejoin="round" stroke-linecap="butt" clip-path="url(#c15)"/>
<rect x="378.3" y="566.8" width="130.1" height="125.6" fill="none" stroke="#222222" stroke-width="1.2"/>
<line x1="383.12" y1="692.4" x2="383.12" y2="696" stroke="#222222" stroke-width="1.1" stroke-linecap="butt"/>
<text x="384.62" y="707.1" font-size="10.0" font-weight="bold" text-anchor="middle" fill="#1a1a1a" stroke="#1a1a1a" stroke-width="0.22" textLength="12.65" lengthAdjust="spacingAndGlyphs">0.0</text>
<line x1="378.3" y1="687.75" x2="374.3" y2="687.75" stroke="#222222" stroke-width="1.1" stroke-linecap="butt"/>
<text x="368.4" y="686.25" font-size="9.3" font-weight="bold" text-anchor="middle" fill="#1a1a1a" stroke="#1a1a1a" stroke-width="0.22" transform="rotate(-90 368.4 686.25)" textLength="12.79" lengthAdjust="spacingAndGlyphs">0.0</text>
<line x1="407.21" y1="692.4" x2="407.21" y2="696" stroke="#222222" stroke-width="1.1" stroke-linecap="butt"/>
<text x="408.71" y="707.1" font-size="10.0" font-weight="bold" text-anchor="middle" fill="#1a1a1a" stroke="#1a1a1a" stroke-width="0.22" textLength="12.65" lengthAdjust="spacingAndGlyphs">0.2</text>
<line x1="378.3" y1="664.49" x2="374.3" y2="664.49" stroke="#222222" stroke-width="1.1" stroke-linecap="butt"/>
<text x="368.4" y="662.99" font-size="9.3" font-weight="bold" text-anchor="middle" fill="#1a1a1a" stroke="#1a1a1a" stroke-width="0.22" transform="rotate(-90 368.4 662.99)" textLength="12.79" lengthAdjust="spacingAndGlyphs">0.2</text>
<line x1="431.3" y1="692.4" x2="431.3" y2="696" stroke="#222222" stroke-width="1.1" stroke-linecap="butt"/>
<text x="432.8" y="707.1" font-size="10.0" font-weight="bold" text-anchor="middle" fill="#1a1a1a" stroke="#1a1a1a" stroke-width="0.22" textLength="12.65" lengthAdjust="spacingAndGlyphs">0.4</text>
<line x1="378.3" y1="641.23" x2="374.3" y2="641.23" stroke="#222222" stroke-width="1.1" stroke-linecap="butt"/>
<text x="368.4" y="639.73" font-size="9.3" font-weight="bold" text-anchor="middle" fill="#1a1a1a" stroke="#1a1a1a" stroke-width="0.22" transform="rotate(-90 368.4 639.73)" textLength="12.79" lengthAdjust="spacingAndGlyphs">0.4</text>
<line x1="455.4" y1="692.4" x2="455.4" y2="696" stroke="#222222" stroke-width="1.1" stroke-linecap="butt"/>
<text x="456.9" y="707.1" font-size="10.0" font-weight="bold" text-anchor="middle" fill="#1a1a1a" stroke="#1a1a1a" stroke-width="0.22" textLength="12.65" lengthAdjust="spacingAndGlyphs">0.6</text>
<line x1="378.3" y1="617.97" x2="374.3" y2="617.97" stroke="#222222" stroke-width="1.1" stroke-linecap="butt"/>
<text x="368.4" y="616.47" font-size="9.3" font-weight="bold" text-anchor="middle" fill="#1a1a1a" stroke="#1a1a1a" stroke-width="0.22" transform="rotate(-90 368.4 616.47)" textLength="12.79" lengthAdjust="spacingAndGlyphs">0.6</text>
<line x1="479.49" y1="692.4" x2="479.49" y2="696" stroke="#222222" stroke-width="1.1" stroke-linecap="butt"/>
<text x="480.99" y="707.1" font-size="10.0" font-weight="bold" text-anchor="middle" fill="#1a1a1a" stroke="#1a1a1a" stroke-width="0.22" textLength="12.65" lengthAdjust="spacingAndGlyphs">0.8</text>
<line x1="378.3" y1="594.71" x2="374.3" y2="594.71" stroke="#222222" stroke-width="1.1" stroke-linecap="butt"/>
<text x="368.4" y="593.21" font-size="9.3" font-weight="bold" text-anchor="middle" fill="#1a1a1a" stroke="#1a1a1a" stroke-width="0.22" transform="rotate(-90 368.4 593.21)" textLength="12.79" lengthAdjust="spacingAndGlyphs">0.8</text>
<line x1="503.58" y1="692.4" x2="503.58" y2="696" stroke="#222222" stroke-width="1.1" stroke-linecap="butt"/>
<text x="505.08" y="707.1" font-size="10.0" font-weight="bold" text-anchor="middle" fill="#1a1a1a" stroke="#1a1a1a" stroke-width="0.22" textLength="12.65" lengthAdjust="spacingAndGlyphs">1.0</text>
<line x1="378.3" y1="571.45" x2="374.3" y2="571.45" stroke="#222222" stroke-width="1.1" stroke-linecap="butt"/>
<text x="368.4" y="569.95" font-size="9.3" font-weight="bold" text-anchor="middle" fill="#1a1a1a" stroke="#1a1a1a" stroke-width="0.22" transform="rotate(-90 368.4 569.95)" textLength="12.79" lengthAdjust="spacingAndGlyphs">1.0</text>
<text x="425.8" y="723.4" font-size="9.7" font-weight="bold" text-anchor="start" fill="#1a1a1a" stroke="#1a1a1a" stroke-width="0.22" textLength="72.80" lengthAdjust="spacingAndGlyphs">10y 1−Specificity</text>
<text x="352.7" y="644.6" font-size="9.0" font-weight="bold" text-anchor="start" fill="#1a1a1a" stroke="#1a1a1a" stroke-width="0.22" transform="rotate(-90 352.7 644.6)" textLength="45.02" lengthAdjust="spacingAndGlyphs">Sensitivity</text>
<line x1="459.5" y1="629" x2="475.7" y2="629" stroke="#333" stroke-width="1.3" stroke-linecap="butt"/>
<line x1="484.1" y1="629" x2="500.5" y2="629" stroke="#333" stroke-width="1.3" stroke-dasharray="3.6,1.2,6.8,1.2,3.6,20" stroke-linecap="butt"/>
<rect x="452.1" y="636.7" width="4.8" height="4.7" fill="#6DBB45"/>
<text x="458.7" y="641.5" font-size="9.2" text-anchor="start" fill="#2a2a2a" textLength="24.40" lengthAdjust="spacingAndGlyphs">61.17</text>
<text x="484.2" y="641.5" font-size="9.2" text-anchor="start" fill="#2a2a2a" textLength="23.68" lengthAdjust="spacingAndGlyphs">63.11</text>
<rect x="452.1" y="660.4" width="4.8" height="4.7" fill="#3A55A4"/>
<text x="458.7" y="664.8" font-size="9.2" text-anchor="start" fill="#2a2a2a" textLength="24.40" lengthAdjust="spacingAndGlyphs">70.75</text>
<text x="484.2" y="664.8" font-size="9.2" text-anchor="start" fill="#2a2a2a" textLength="18.98" lengthAdjust="spacingAndGlyphs">55.8</text>
<rect x="452.1" y="683.8" width="4.8" height="4.7" fill="#E82628"/>
<text x="458.7" y="685.9" font-size="9.2" text-anchor="start" fill="#2a2a2a" textLength="24.40" lengthAdjust="spacingAndGlyphs">64.92</text>
<text x="484.2" y="685.9" font-size="9.2" text-anchor="start" fill="#2a2a2a" textLength="24.40" lengthAdjust="spacingAndGlyphs">57.53</text>
<clipPath id="c16"><rect x="549.6" y="567.2" width="130.7" height="126.1"/></clipPath>
<line x1="549.6" y1="693.3" x2="680.3" y2="567.2" stroke="#000" stroke-width="1.3" stroke-dasharray="3.4,4.1" stroke-linecap="butt"/>
<polyline points="554.40,688.40 558.00,680.00 561.00,672.00 565.00,664.00 569.00,657.00 573.00,652.00 577.00,647.00 581.00,642.00 585.00,637.00 589.00,632.00 593.00,627.00 597.00,622.00 601.00,618.00 605.00,614.00 611.00,609.00 617.00,605.00 623.00,601.00 629.00,597.00 635.00,594.00 641.00,590.00 647.00,587.00 653.00,584.00 659.00,581.00 667.00,576.00 676.00,571.00" fill="none" stroke="#6DBB45" stroke-width="2.2" stroke-dasharray="6.3,10" stroke-linejoin="round" stroke-linecap="butt" clip-path="url(#c16)"/>
<polyline points="554.40,688.40 564.20,674.00 574.00,660.80 583.80,649.80 594.40,638.00 604.80,626.00 616.00,614.80 628.60,604.20 641.40,594.40 653.40,585.80 665.40,578.00 676.00,571.00" fill="none" stroke="#3A55A4" stroke-width="2.2" stroke-dasharray="6.3,10" stroke-linejoin="round" stroke-linecap="butt" clip-path="url(#c16)"/>
<polyline points="554.40,688.40 563.40,673.20 573.20,660.00 583.00,649.00 593.60,637.20 604.00,625.20 615.20,614.00 627.80,603.40 641.00,593.60 653.00,585.00 665.00,577.40 676.00,571.00" fill="none" stroke="#E82628" stroke-width="2.2" stroke-dasharray="6.3,10" stroke-linejoin="round" stroke-linecap="butt" clip-path="url(#c16)"/>
<polyline points="554.40,688.40 554.74,688.40 554.74,686.72 555.42,686.72 555.42,685.05 556.10,685.05 556.10,683.37 556.78,683.37 556.78,681.69 557.43,681.69 557.43,680.01 558.06,680.01 558.06,678.34 558.69,678.34 558.69,676.66 559.32,676.66 559.32,674.98 559.95,674.98 559.95,673.31 560.57,673.31 560.57,671.63 561.20,671.63 561.20,669.95 561.83,669.95 561.83,668.27 562.46,668.27 562.46,666.60 563.09,666.60 563.09,664.92 563.72,664.92 563.72,663.24 564.35,663.24 564.35,661.57 564.98,661.57 564.98,659.89 565.61,659.89 565.61,658.21 566.38,658.21 566.38,656.53 567.38,656.53 567.38,654.86 568.39,654.86 568.39,653.18 569.66,653.18 569.66,651.50 571.34,651.50 571.34,649.83 573.01,649.83 573.01,648.15 574.69,648.15 574.69,646.47 576.82,646.47 576.82,644.79 579.04,644.79 579.04,643.12 580.72,643.12 580.72,641.44 582.40,641.44 582.40,639.76 584.43,639.76 584.43,638.09 586.67,638.09 586.67,636.41 588.43,636.41 588.43,634.73 590.11,634.73 590.11,633.05 591.63,633.05 591.63,631.38 592.97,631.38 592.97,629.70 594.31,629.70 594.31,628.02 595.33,628.02 595.33,626.35 596.00,626.35 596.00,624.67 596.67,624.67 596.67,622.99 597.85,622.99 597.85,621.31 599.52,621.31 599.52,619.64 601.20,619.64 601.20,617.96 602.88,617.96 602.88,616.28 604.56,616.28 604.56,614.61 606.23,614.61 606.23,612.93 608.21,612.93 608.21,611.25 610.45,611.25 610.45,609.57 612.69,609.57 612.69,607.90 614.92,607.90 614.92,606.22 618.24,606.22 618.24,604.54 620.73,604.54 620.73,602.87 622.96,602.87 622.96,601.19 625.20,601.19 625.20,599.51 627.44,599.51 627.44,597.83 629.67,597.83 629.67,596.16 631.91,596.16 631.91,594.48 634.14,594.48 634.14,592.80 637.07,592.80 637.07,591.13 640.43,591.13 640.43,589.45 643.78,589.45 643.78,587.77 647.19,587.77 647.19,586.09 651.86,586.09 651.86,584.42 655.63,584.42 655.63,582.74 658.15,582.74 658.15,581.06 660.66,581.06 660.66,579.39 663.18,579.39 663.18,577.71 665.69,577.71 665.69,576.03 668.45,576.03 668.45,574.35 671.47,574.35 671.47,572.68 674.49,572.68 674.49,571.00 676.00,571.00" fill="none" stroke="#6DBB45" stroke-width="2.0" stroke-linejoin="round" stroke-linecap="butt" clip-path="url(#c16)"/>
<polyline points="554.40,688.40 554.49,688.40 554.49,687.23 554.68,687.23 554.68,686.05 554.86,686.05 554.86,684.88 555.04,684.88 555.04,683.70 555.23,683.70 555.23,682.53 555.41,682.53 555.41,681.36 555.58,681.36 555.58,680.18 555.74,680.18 555.74,679.01 555.91,679.01 555.91,677.83 556.08,677.83 556.08,676.66 556.25,676.66 556.25,675.49 556.41,675.49 556.41,674.31 556.58,674.31 556.58,673.14 556.86,673.14 556.86,671.96 557.15,671.96 557.15,670.79 557.43,670.79 557.43,669.62 557.72,669.62 557.72,668.44 558.01,668.44 558.01,667.27 558.30,667.27 558.30,666.09 558.59,666.09 558.59,664.92 558.87,664.92 558.87,663.75 559.16,663.75 559.16,662.57 559.57,662.57 559.57,661.40 560.00,661.40 560.00,660.22 560.43,660.22 560.43,659.05 560.86,659.05 560.86,657.88 561.29,657.88 561.29,656.70 561.72,656.70 561.72,655.53 562.14,655.53 562.14,654.35 562.57,654.35 562.57,653.18 563.01,653.18 563.01,652.01 563.98,652.01 563.98,650.83 564.96,650.83 564.96,649.66 565.94,649.66 565.94,648.48 567.32,648.48 567.32,647.31 568.73,647.31 568.73,646.14 569.97,646.14 569.97,644.96 570.94,644.96 570.94,643.79 571.91,643.79 571.91,642.61 572.88,642.61 572.88,641.44 573.85,641.44 573.85,640.27 574.81,640.27 574.81,639.09 575.78,639.09 575.78,637.92 576.89,637.92 576.89,636.74 578.09,636.74 578.09,635.57 579.29,635.57 579.29,634.40 580.50,634.40 580.50,633.22 581.70,633.22 581.70,632.05 582.91,632.05 582.91,630.87 584.11,630.87 584.11,629.70 585.06,629.70 585.06,628.53 585.98,628.53 585.98,627.35 586.91,627.35 586.91,626.18 587.83,626.18 587.83,625.00 588.76,625.00 588.76,623.83 589.85,623.83 589.85,622.66 591.34,622.66 591.34,621.48 592.83,621.48 592.83,620.31 594.32,620.31 594.32,619.13 595.81,619.13 595.81,617.96 596.89,617.96 596.89,616.79 597.91,616.79 597.91,615.61 598.93,615.61 598.93,614.44 599.94,614.44 599.94,613.26 600.96,613.26 600.96,612.09 602.00,612.09 602.00,610.92 603.06,610.92 603.06,609.74 604.11,609.74 604.11,608.57 605.16,608.57 605.16,607.39 606.21,607.39 606.21,606.22 607.71,606.22 607.71,605.05 609.29,605.05 609.29,603.87 610.88,603.87 610.88,602.70 613.39,602.70 613.39,601.52 617.11,601.52 617.11,600.35 619.18,600.35 619.18,599.18 621.25,599.18 621.25,598.00 623.25,598.00 623.25,596.83 624.81,596.83 624.81,595.65 626.38,595.65 626.38,594.48 628.29,594.48 628.29,593.31 630.42,593.31 630.42,592.13 632.55,592.13 632.55,590.96 634.69,590.96 634.69,589.78 637.01,589.78 637.01,588.61 639.59,588.61 639.59,587.44 643.30,587.44 643.30,586.26 645.65,586.26 645.65,585.09 648.00,585.09 648.00,583.91 650.35,583.91 650.35,582.74 652.69,582.74 652.69,581.57 655.06,581.57 655.06,580.39 658.41,580.39 658.41,579.22 660.08,579.22 660.08,578.04 661.38,578.04 661.38,576.87 662.69,576.87 662.69,575.70 664.78,575.70 664.78,574.52 667.13,574.52 667.13,573.35 669.48,573.35 669.48,572.17 673.07,572.17 673.07,571.00 676.00,571.00" fill="none" stroke="#3A55A4" stroke-width="2.0" stroke-linejoin="round" stroke-linecap="butt" clip-path="url(#c16)"/>
<polyline points="554.40,688.40 554.68,688.40 554.68,687.23 555.25,687.23 555.25,686.05 555.81,686.05 555.81,684.88 556.38,684.88 556.38,683.70 556.94,683.70 556.94,682.53 557.42,682.53 557.42,681.36 557.88,681.36 557.88,680.18 558.34,680.18 558.34,679.01 558.80,679.01 558.80,677.83 559.28,677.83 559.28,676.66 559.88,676.66 559.88,675.49 560.48,675.49 560.48,674.31 561.09,674.31 561.09,673.14 561.69,673.14 561.69,671.96 562.29,671.96 562.29,670.79 562.90,670.79 562.90,669.62 563.47,669.62 563.47,668.44 564.05,668.44 564.05,667.27 564.62,667.27 564.62,666.09 565.19,666.09 565.19,664.92 565.76,664.92 565.76,663.75 566.34,663.75 566.34,662.57 566.91,662.57 566.91,661.40 567.58,661.40 567.58,660.22 568.27,660.22 568.27,659.05 568.96,659.05 568.96,657.88 569.65,657.88 569.65,656.70 570.34,656.70 570.34,655.53 571.05,655.53 571.05,654.35 572.00,654.35 572.00,653.18 572.96,653.18 572.96,652.01 573.91,652.01 573.91,650.83 574.86,650.83 574.86,649.66 575.82,649.66 575.82,648.48 576.82,648.48 576.82,647.31 577.85,647.31 577.85,646.14 578.88,646.14 578.88,644.96 579.91,644.96 579.91,643.79 580.94,643.79 580.94,642.61 581.98,642.61 581.98,641.44 583.04,641.44 583.04,640.27 584.11,640.27 584.11,639.09 585.18,639.09 585.18,637.92 586.24,637.92 586.24,636.74 587.31,636.74 587.31,635.57 588.28,635.57 588.28,634.40 589.08,634.40 589.08,633.22 589.87,633.22 589.87,632.05 590.66,632.05 590.66,630.87 591.45,630.87 591.45,629.70 592.25,629.70 592.25,628.53 593.05,628.53 593.05,627.35 593.99,627.35 593.99,626.18 594.93,626.18 594.93,625.00 595.87,625.00 595.87,623.83 596.81,623.83 596.81,622.66 597.74,622.66 597.74,621.48 598.73,621.48 598.73,620.31 600.24,620.31 600.24,619.13 601.74,619.13 601.74,617.96 603.24,617.96 603.24,616.79 604.75,616.79 604.75,615.61 606.39,615.61 606.39,614.44 608.07,614.44 608.07,613.26 609.75,613.26 609.75,612.09 611.42,612.09 611.42,610.92 613.11,610.92 613.11,609.74 614.98,609.74 614.98,608.57 616.85,608.57 616.85,607.39 618.72,607.39 618.72,606.22 620.47,606.22 620.47,605.05 621.99,605.05 621.99,603.87 623.51,603.87 623.51,602.70 625.02,602.70 625.02,601.52 626.57,601.52 626.57,600.35 628.24,600.35 628.24,599.18 629.90,599.18 629.90,598.00 631.56,598.00 631.56,596.83 633.22,596.83 633.22,595.65 634.82,595.65 634.82,594.48 636.42,594.48 636.42,593.31 638.02,593.31 638.02,592.13 639.68,592.13 639.68,590.96 641.44,590.96 641.44,589.78 643.20,589.78 643.20,588.61 644.97,588.61 644.97,587.44 647.30,587.44 647.30,586.26 649.65,586.26 649.65,585.09 652.00,585.09 652.00,583.91 654.35,583.91 654.35,582.74 656.69,582.74 656.69,581.57 659.04,581.57 659.04,580.39 661.39,580.39 661.39,579.22 663.55,579.22 663.55,578.04 665.31,578.04 665.31,576.87 667.08,576.87 667.08,575.70 668.84,575.70 668.84,574.52 670.86,574.52 670.86,573.35 672.92,573.35 672.92,572.17 674.97,572.17 674.97,571.00 676.00,571.00" fill="none" stroke="#E82628" stroke-width="2.0" stroke-linejoin="round" stroke-linecap="butt" clip-path="url(#c16)"/>
<rect x="549.6" y="567.2" width="130.7" height="126.1" fill="none" stroke="#222222" stroke-width="1.2"/>
<line x1="554.44" y1="693.3" x2="554.44" y2="696.9" stroke="#222222" stroke-width="1.1" stroke-linecap="butt"/>
<text x="555.94" y="708" font-size="10.0" font-weight="bold" text-anchor="middle" fill="#1a1a1a" stroke="#1a1a1a" stroke-width="0.22" textLength="12.65" lengthAdjust="spacingAndGlyphs">0.0</text>
<line x1="549.6" y1="688.63" x2="545.6" y2="688.63" stroke="#222222" stroke-width="1.1" stroke-linecap="butt"/>
<text x="539.7" y="687.13" font-size="9.3" font-weight="bold" text-anchor="middle" fill="#1a1a1a" stroke="#1a1a1a" stroke-width="0.22" transform="rotate(-90 539.7 687.13)" textLength="12.79" lengthAdjust="spacingAndGlyphs">0.0</text>
<line x1="578.64" y1="693.3" x2="578.64" y2="696.9" stroke="#222222" stroke-width="1.1" stroke-linecap="butt"/>
<text x="580.14" y="708" font-size="10.0" font-weight="bold" text-anchor="middle" fill="#1a1a1a" stroke="#1a1a1a" stroke-width="0.22" textLength="12.65" lengthAdjust="spacingAndGlyphs">0.2</text>
<line x1="549.6" y1="665.28" x2="545.6" y2="665.28" stroke="#222222" stroke-width="1.1" stroke-linecap="butt"/>
<text x="539.7" y="663.78" font-size="9.3" font-weight="bold" text-anchor="middle" fill="#1a1a1a" stroke="#1a1a1a" stroke-width="0.22" transform="rotate(-90 539.7 663.78)" textLength="12.79" lengthAdjust="spacingAndGlyphs">0.2</text>
<line x1="602.85" y1="693.3" x2="602.85" y2="696.9" stroke="#222222" stroke-width="1.1" stroke-linecap="butt"/>
<text x="604.35" y="708" font-size="10.0" font-weight="bold" text-anchor="middle" fill="#1a1a1a" stroke="#1a1a1a" stroke-width="0.22" textLength="12.65" lengthAdjust="spacingAndGlyphs">0.4</text>
<line x1="549.6" y1="641.93" x2="545.6" y2="641.93" stroke="#222222" stroke-width="1.1" stroke-linecap="butt"/>
<text x="539.7" y="640.43" font-size="9.3" font-weight="bold" text-anchor="middle" fill="#1a1a1a" stroke="#1a1a1a" stroke-width="0.22" transform="rotate(-90 539.7 640.43)" textLength="12.79" lengthAdjust="spacingAndGlyphs">0.4</text>
<line x1="627.05" y1="693.3" x2="627.05" y2="696.9" stroke="#222222" stroke-width="1.1" stroke-linecap="butt"/>
<text x="628.55" y="708" font-size="10.0" font-weight="bold" text-anchor="middle" fill="#1a1a1a" stroke="#1a1a1a" stroke-width="0.22" textLength="12.65" lengthAdjust="spacingAndGlyphs">0.6</text>
<line x1="549.6" y1="618.57" x2="545.6" y2="618.57" stroke="#222222" stroke-width="1.1" stroke-linecap="butt"/>
<text x="539.7" y="617.07" font-size="9.3" font-weight="bold" text-anchor="middle" fill="#1a1a1a" stroke="#1a1a1a" stroke-width="0.22" transform="rotate(-90 539.7 617.07)" textLength="12.79" lengthAdjust="spacingAndGlyphs">0.6</text>
<line x1="651.26" y1="693.3" x2="651.26" y2="696.9" stroke="#222222" stroke-width="1.1" stroke-linecap="butt"/>
<text x="652.76" y="708" font-size="10.0" font-weight="bold" text-anchor="middle" fill="#1a1a1a" stroke="#1a1a1a" stroke-width="0.22" textLength="12.65" lengthAdjust="spacingAndGlyphs">0.8</text>
<line x1="549.6" y1="595.22" x2="545.6" y2="595.22" stroke="#222222" stroke-width="1.1" stroke-linecap="butt"/>
<text x="539.7" y="593.72" font-size="9.3" font-weight="bold" text-anchor="middle" fill="#1a1a1a" stroke="#1a1a1a" stroke-width="0.22" transform="rotate(-90 539.7 593.72)" textLength="12.79" lengthAdjust="spacingAndGlyphs">0.8</text>
<line x1="675.46" y1="693.3" x2="675.46" y2="696.9" stroke="#222222" stroke-width="1.1" stroke-linecap="butt"/>
<text x="676.96" y="708" font-size="10.0" font-weight="bold" text-anchor="middle" fill="#1a1a1a" stroke="#1a1a1a" stroke-width="0.22" textLength="12.65" lengthAdjust="spacingAndGlyphs">1.0</text>
<line x1="549.6" y1="571.87" x2="545.6" y2="571.87" stroke="#222222" stroke-width="1.1" stroke-linecap="butt"/>
<text x="539.7" y="570.37" font-size="9.3" font-weight="bold" text-anchor="middle" fill="#1a1a1a" stroke="#1a1a1a" stroke-width="0.22" transform="rotate(-90 539.7 570.37)" textLength="12.79" lengthAdjust="spacingAndGlyphs">1.0</text>
<text x="597.1" y="724.3" font-size="9.7" font-weight="bold" text-anchor="start" fill="#1a1a1a" stroke="#1a1a1a" stroke-width="0.22" textLength="72.80" lengthAdjust="spacingAndGlyphs">15y 1−Specificity</text>
<text x="524" y="645.5" font-size="9.0" font-weight="bold" text-anchor="start" fill="#1a1a1a" stroke="#1a1a1a" stroke-width="0.22" transform="rotate(-90 524 645.5)" textLength="45.02" lengthAdjust="spacingAndGlyphs">Sensitivity</text>
<line x1="630.1" y1="628.5" x2="646.3" y2="628.5" stroke="#333" stroke-width="1.3" stroke-linecap="butt"/>
<line x1="655.2" y1="628.5" x2="671.6" y2="628.5" stroke="#333" stroke-width="1.3" stroke-dasharray="3.6,1.2,6.8,1.2,3.6,20" stroke-linecap="butt"/>
<rect x="622.7" y="637.1" width="4.8" height="4.7" fill="#6DBB45"/>
<text x="629.3" y="641.5" font-size="9.2" text-anchor="start" fill="#2a2a2a" textLength="24.40" lengthAdjust="spacingAndGlyphs">63.55</text>
<text x="655.3" y="641.5" font-size="9.2" text-anchor="start" fill="#2a2a2a" textLength="24.40" lengthAdjust="spacingAndGlyphs">63.53</text>
<rect x="622.7" y="660.8" width="4.8" height="4.7" fill="#3A55A4"/>
<text x="629.3" y="665.5" font-size="9.2" text-anchor="start" fill="#2a2a2a" textLength="24.40" lengthAdjust="spacingAndGlyphs">69.05</text>
<text x="655.3" y="665.5" font-size="9.2" text-anchor="start" fill="#2a2a2a" textLength="24.40" lengthAdjust="spacingAndGlyphs">58.53</text>
<rect x="622.7" y="684.2" width="4.8" height="4.7" fill="#E82628"/>
<text x="629.3" y="688" font-size="9.2" text-anchor="start" fill="#2a2a2a" textLength="24.40" lengthAdjust="spacingAndGlyphs">64.49</text>
<text x="655.3" y="688" font-size="9.2" text-anchor="start" fill="#2a2a2a" textLength="24.40" lengthAdjust="spacingAndGlyphs">58.98</text>
<text x="168" y="755.9" font-size="10.0" font-weight="bold" text-anchor="start" fill="#222" textLength="45.00" lengthAdjust="spacingAndGlyphs">Age group</text>
<rect x="224.2" y="747.3" width="10.6" height="10.3" fill="#6DBB45"/>
<text x="246" y="758.1" font-size="10.0" font-weight="bold" text-anchor="start" fill="#222" textLength="23.02" lengthAdjust="spacingAndGlyphs">40-50</text>
<rect x="280.1" y="747.3" width="10.6" height="10.3" fill="#3A55A4"/>
<text x="301.9" y="758.1" font-size="10.0" font-weight="bold" text-anchor="start" fill="#222" textLength="23.02" lengthAdjust="spacingAndGlyphs">51-60</text>
<rect x="333.1" y="747.3" width="10.6" height="10.3" fill="#E82628"/>
<text x="354.9" y="758.1" font-size="10.0" font-weight="bold" text-anchor="start" fill="#222" textLength="23.02" lengthAdjust="spacingAndGlyphs">61-70</text>
<line x1="451.4" y1="746.8" x2="469.3" y2="746.8" stroke="#222" stroke-width="1.4" stroke-linecap="butt"/>
<line x1="526.2" y1="746.8" x2="544.2" y2="746.8" stroke="#222" stroke-width="1.3" stroke-dasharray="3.2,1.8,7,2.4,3.6,20" stroke-linecap="butt"/>
<text x="450.5" y="759.2" font-size="9.8" font-weight="bold" text-anchor="start" fill="#222" textLength="63.51" lengthAdjust="spacingAndGlyphs">Met (residuals)</text>
<text x="528.5" y="759.2" font-size="9.8" font-weight="bold" text-anchor="start" fill="#222" textLength="17.00" lengthAdjust="spacingAndGlyphs">Age</text>
</svg>
</body></html>
